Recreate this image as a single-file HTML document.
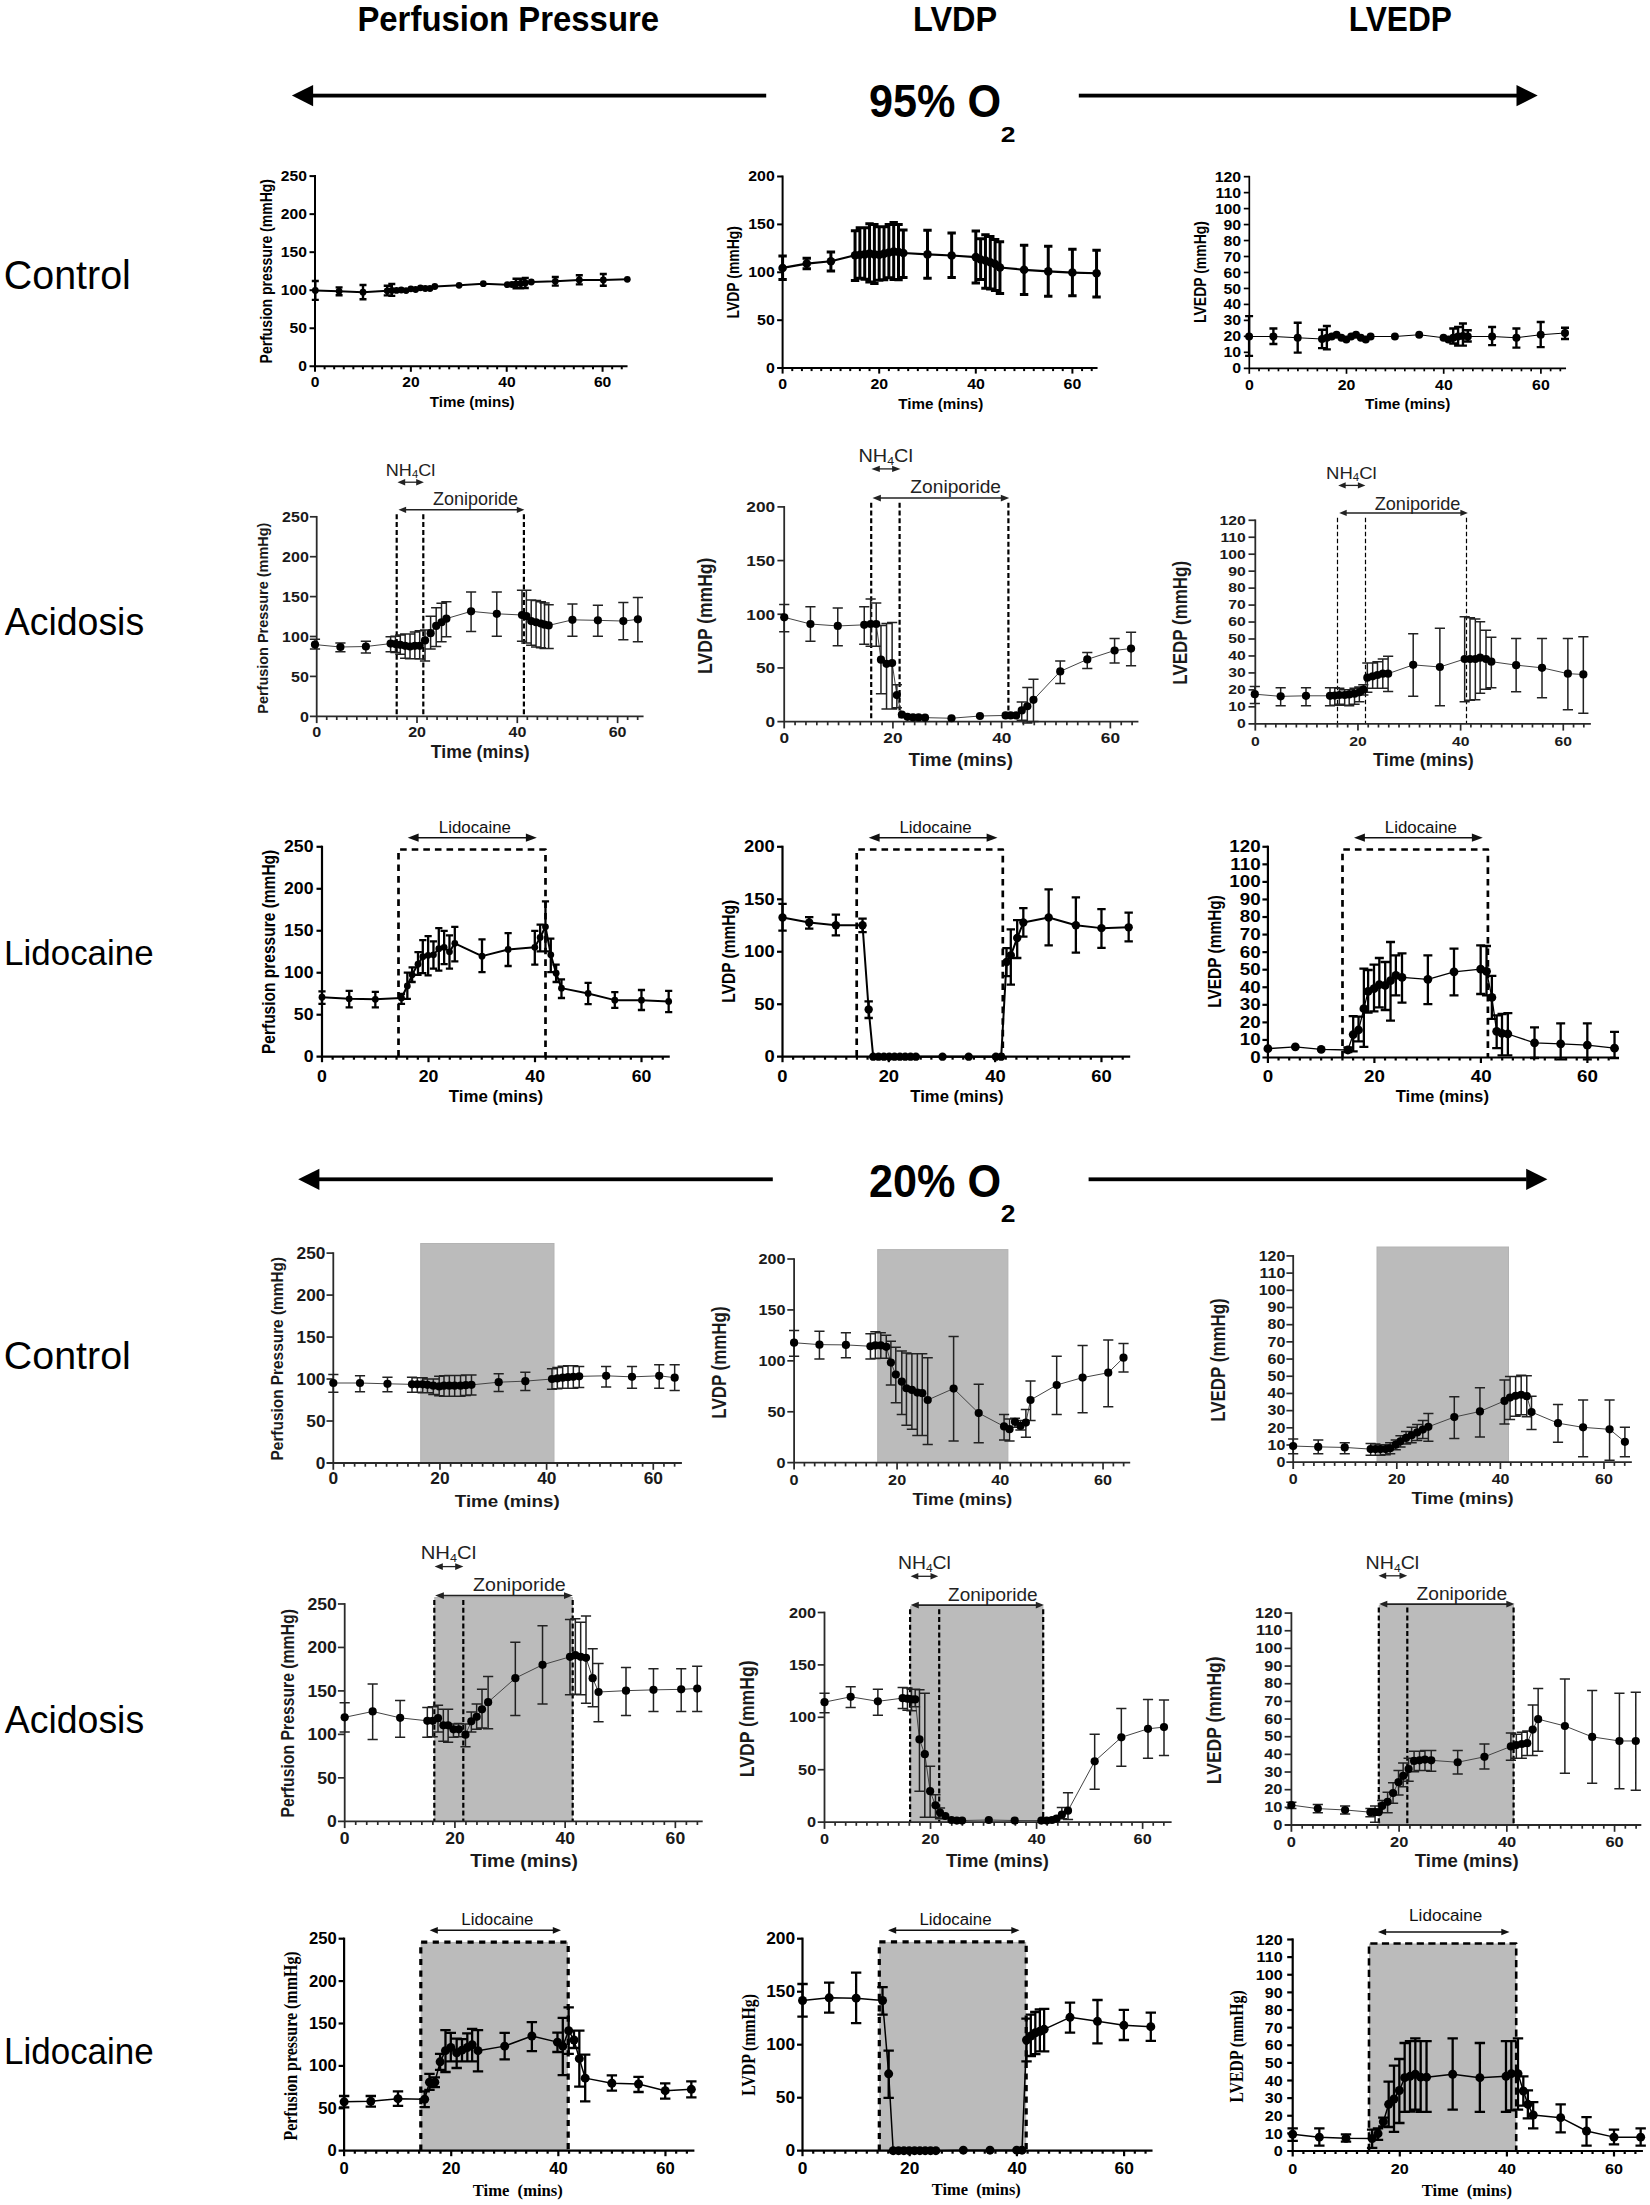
<!DOCTYPE html>
<html><head><meta charset="utf-8"><title>Perfusion pressure, LVDP and LVEDP at 95% and 20% O2</title>
<style>html,body{margin:0;padding:0;background:#fff;width:1650px;height:2205px;overflow:hidden}svg{display:block}</style>
</head><body>
<svg width="1650" height="2205" viewBox="0 0 1650 2205">
<rect width="1650" height="2205" fill="#fff"/>
<text x="357.38" y="31.2" font-size="35.2" font-family="'Liberation Sans',Arial,sans-serif" font-weight="bold" textLength="301.71" lengthAdjust="spacingAndGlyphs">Perfusion Pressure</text>
<text x="913.01" y="31.2" font-size="35.49" font-family="'Liberation Sans',Arial,sans-serif" font-weight="bold" textLength="84.24" lengthAdjust="spacingAndGlyphs">LVDP</text>
<text x="1348.76" y="31.3" font-size="35.49" font-family="'Liberation Sans',Arial,sans-serif" font-weight="bold" textLength="103.24" lengthAdjust="spacingAndGlyphs">LVEDP</text>
<text x="868.99" y="116.9" font-size="46.02" font-family="'Liberation Sans',Arial,sans-serif" font-weight="bold" textLength="132.04" lengthAdjust="spacingAndGlyphs">95% O</text>
<text x="1000.87" y="141.6" font-size="22.94" font-family="'Liberation Sans',Arial,sans-serif" font-weight="bold" textLength="14.72" lengthAdjust="spacingAndGlyphs">2</text>
<rect x="312.6" y="93.7" width="453.6" height="3.8"/>
<polygon points="291.9,95.6 313.1,85 313.1,106.2"/>
<rect x="1078.8" y="93.7" width="438.2" height="3.8"/>
<polygon points="1537.7,95.6 1516.5,85 1516.5,106.2"/>
<text x="868.99" y="1196.9" font-size="46.02" font-family="'Liberation Sans',Arial,sans-serif" font-weight="bold" textLength="132.04" lengthAdjust="spacingAndGlyphs">20% O</text>
<text x="1000.87" y="1222" font-size="23.51" font-family="'Liberation Sans',Arial,sans-serif" font-weight="bold" textLength="14.72" lengthAdjust="spacingAndGlyphs">2</text>
<rect x="318.9" y="1177.4" width="453.9" height="3.8"/>
<polygon points="298.2,1179.3 319.4,1168.7 319.4,1189.9"/>
<rect x="1088.6" y="1177.4" width="438.1" height="3.8"/>
<polygon points="1547.4,1179.3 1526.2,1168.7 1526.2,1189.9"/>
<text x="3.83" y="288.5" font-size="39.85" font-family="'Liberation Sans',Arial,sans-serif" textLength="126.98" lengthAdjust="spacingAndGlyphs">Control</text>
<text x="4.71" y="634.6" font-size="39.71" font-family="'Liberation Sans',Arial,sans-serif" textLength="139.45" lengthAdjust="spacingAndGlyphs">Acidosis</text>
<text x="4.12" y="965.1" font-size="35.93" font-family="'Liberation Sans',Arial,sans-serif" textLength="149.51" lengthAdjust="spacingAndGlyphs">Lidocaine</text>
<text x="3.83" y="1369.1" font-size="39.71" font-family="'Liberation Sans',Arial,sans-serif" textLength="126.98" lengthAdjust="spacingAndGlyphs">Control</text>
<text x="4.71" y="1733.4" font-size="39.71" font-family="'Liberation Sans',Arial,sans-serif" textLength="139.45" lengthAdjust="spacingAndGlyphs">Acidosis</text>
<text x="4.12" y="2063.6" font-size="36.07" font-family="'Liberation Sans',Arial,sans-serif" textLength="149.51" lengthAdjust="spacingAndGlyphs">Lidocaine</text>
<g>
<line x1="315" y1="175.1" x2="315" y2="371.8" stroke="#000" stroke-width="2"/>
<line x1="309.5" y1="366.3" x2="627.55" y2="366.3" stroke="#000" stroke-width="2"/>
<text x="298.25" y="371.25" font-size="14.28" font-family="'Liberation Sans',Arial,sans-serif" font-weight="bold" textLength="8.7" lengthAdjust="spacingAndGlyphs">0</text>
<line x1="309.5" y1="328.26" x2="315" y2="328.26" stroke="#000" stroke-width="2"/>
<text x="289.57" y="333.21" font-size="14.28" font-family="'Liberation Sans',Arial,sans-serif" font-weight="bold" textLength="17.39" lengthAdjust="spacingAndGlyphs">50</text>
<line x1="309.5" y1="290.22" x2="315" y2="290.22" stroke="#000" stroke-width="2"/>
<text x="280.85" y="295.17" font-size="14.28" font-family="'Liberation Sans',Arial,sans-serif" font-weight="bold" textLength="26.09" lengthAdjust="spacingAndGlyphs">100</text>
<line x1="309.5" y1="252.18" x2="315" y2="252.18" stroke="#000" stroke-width="2"/>
<text x="280.85" y="257.13" font-size="14.28" font-family="'Liberation Sans',Arial,sans-serif" font-weight="bold" textLength="26.09" lengthAdjust="spacingAndGlyphs">150</text>
<line x1="309.5" y1="214.14" x2="315" y2="214.14" stroke="#000" stroke-width="2"/>
<text x="280.85" y="219.09" font-size="14.28" font-family="'Liberation Sans',Arial,sans-serif" font-weight="bold" textLength="26.09" lengthAdjust="spacingAndGlyphs">200</text>
<line x1="309.5" y1="176.1" x2="315" y2="176.1" stroke="#000" stroke-width="2"/>
<text x="280.85" y="181.05" font-size="14.28" font-family="'Liberation Sans',Arial,sans-serif" font-weight="bold" textLength="26.09" lengthAdjust="spacingAndGlyphs">250</text>
<text x="310.66" y="387.3" font-size="14.28" font-family="'Liberation Sans',Arial,sans-serif" font-weight="bold" textLength="8.7" lengthAdjust="spacingAndGlyphs">0</text>
<line x1="324.59" y1="366.3" x2="324.59" y2="369.3" stroke="#000" stroke-width="2"/>
<line x1="334.17" y1="366.3" x2="334.17" y2="369.3" stroke="#000" stroke-width="2"/>
<line x1="343.76" y1="366.3" x2="343.76" y2="369.3" stroke="#000" stroke-width="2"/>
<line x1="353.34" y1="366.3" x2="353.34" y2="369.3" stroke="#000" stroke-width="2"/>
<line x1="362.93" y1="366.3" x2="362.93" y2="369.3" stroke="#000" stroke-width="2"/>
<line x1="372.52" y1="366.3" x2="372.52" y2="369.3" stroke="#000" stroke-width="2"/>
<line x1="382.1" y1="366.3" x2="382.1" y2="369.3" stroke="#000" stroke-width="2"/>
<line x1="391.69" y1="366.3" x2="391.69" y2="369.3" stroke="#000" stroke-width="2"/>
<line x1="401.27" y1="366.3" x2="401.27" y2="369.3" stroke="#000" stroke-width="2"/>
<line x1="410.86" y1="366.3" x2="410.86" y2="371.8" stroke="#000" stroke-width="2"/>
<text x="402.22" y="387.3" font-size="14.28" font-family="'Liberation Sans',Arial,sans-serif" font-weight="bold" textLength="17.39" lengthAdjust="spacingAndGlyphs">20</text>
<line x1="420.45" y1="366.3" x2="420.45" y2="369.3" stroke="#000" stroke-width="2"/>
<line x1="430.03" y1="366.3" x2="430.03" y2="369.3" stroke="#000" stroke-width="2"/>
<line x1="439.62" y1="366.3" x2="439.62" y2="369.3" stroke="#000" stroke-width="2"/>
<line x1="449.2" y1="366.3" x2="449.2" y2="369.3" stroke="#000" stroke-width="2"/>
<line x1="458.79" y1="366.3" x2="458.79" y2="369.3" stroke="#000" stroke-width="2"/>
<line x1="468.38" y1="366.3" x2="468.38" y2="369.3" stroke="#000" stroke-width="2"/>
<line x1="477.96" y1="366.3" x2="477.96" y2="369.3" stroke="#000" stroke-width="2"/>
<line x1="487.55" y1="366.3" x2="487.55" y2="369.3" stroke="#000" stroke-width="2"/>
<line x1="497.13" y1="366.3" x2="497.13" y2="369.3" stroke="#000" stroke-width="2"/>
<line x1="506.72" y1="366.3" x2="506.72" y2="371.8" stroke="#000" stroke-width="2"/>
<text x="498.24" y="387.3" font-size="14.28" font-family="'Liberation Sans',Arial,sans-serif" font-weight="bold" textLength="17.39" lengthAdjust="spacingAndGlyphs">40</text>
<line x1="516.31" y1="366.3" x2="516.31" y2="369.3" stroke="#000" stroke-width="2"/>
<line x1="525.89" y1="366.3" x2="525.89" y2="369.3" stroke="#000" stroke-width="2"/>
<line x1="535.48" y1="366.3" x2="535.48" y2="369.3" stroke="#000" stroke-width="2"/>
<line x1="545.06" y1="366.3" x2="545.06" y2="369.3" stroke="#000" stroke-width="2"/>
<line x1="554.65" y1="366.3" x2="554.65" y2="369.3" stroke="#000" stroke-width="2"/>
<line x1="564.24" y1="366.3" x2="564.24" y2="369.3" stroke="#000" stroke-width="2"/>
<line x1="573.82" y1="366.3" x2="573.82" y2="369.3" stroke="#000" stroke-width="2"/>
<line x1="583.41" y1="366.3" x2="583.41" y2="369.3" stroke="#000" stroke-width="2"/>
<line x1="592.99" y1="366.3" x2="592.99" y2="369.3" stroke="#000" stroke-width="2"/>
<line x1="602.58" y1="366.3" x2="602.58" y2="371.8" stroke="#000" stroke-width="2"/>
<text x="593.92" y="387.3" font-size="14.28" font-family="'Liberation Sans',Arial,sans-serif" font-weight="bold" textLength="17.39" lengthAdjust="spacingAndGlyphs">60</text>
<line x1="612.17" y1="366.3" x2="612.17" y2="369.3" stroke="#000" stroke-width="2"/>
<line x1="621.75" y1="366.3" x2="621.75" y2="369.3" stroke="#000" stroke-width="2"/>
<text x="272.5" y="363.45" font-size="16.73" font-family="'Liberation Sans',Arial,sans-serif" font-weight="bold" textLength="184.44" lengthAdjust="spacingAndGlyphs" transform="rotate(-90 272.5 363.45)">Perfusion pressure (mmHg)</text>
<text x="429.75" y="406.5" font-size="14.25" font-family="'Liberation Sans',Arial,sans-serif" font-weight="bold" textLength="84.93" lengthAdjust="spacingAndGlyphs">Time (mins)</text>
<path d="M315.3 290.4 L339.1 291.2 L363 292.2 L387.2 290.8 L391.8 290.5 L396.48 290.4 L401.27 290 L406.07 290.6 L410.86 288.8 L415.65 289.5 L420.45 287.8 L425.24 288.5 L430.03 288.5 L434.82 286.5 L459.1 285.3 L483.3 283.7 L507.3 284.7 L512 284.5 L516 284 L520.7 283.5 L525.3 283 L531.3 282 L555.3 281.3 L579.3 280 L603.3 280 L627.3 279.3" fill="none" stroke="#000" stroke-width="2" stroke-linejoin="round"/>
<path d="M315.3 281V299.9M311.8 281H318.8M311.8 299.9H318.8M339.1 287.4V295.3M335.6 287.4H342.6M335.6 295.3H342.6M363 285V299.3M359.5 285H366.5M359.5 299.3H366.5M387.2 285.7V295.4M383.7 285.7H390.7M383.7 295.4H390.7M391.8 284V295.9M388.3 284H395.3M388.3 295.9H395.3M516 278.7V288.3M512.5 278.7H519.5M512.5 288.3H519.5M520.7 278.7V288.3M517.2 278.7H524.2M517.2 288.3H524.2M525.3 278V288M521.8 278H528.8M521.8 288H528.8M555.3 277V285.6M551.8 277H558.8M551.8 285.6H558.8M579.3 275.3V284.4M575.8 275.3H582.8M575.8 284.4H582.8M603.3 274V285.7M599.8 274H606.8M599.8 285.7H606.8" fill="none" stroke="#000" stroke-width="2.4"/>
<g><circle cx="315.3" cy="290.4" r="3.4"/><circle cx="339.1" cy="291.2" r="3.4"/><circle cx="363" cy="292.2" r="3.4"/><circle cx="387.2" cy="290.8" r="3.4"/><circle cx="391.8" cy="290.5" r="3.4"/><circle cx="396.48" cy="290.4" r="3.4"/><circle cx="401.27" cy="290" r="3.4"/><circle cx="406.07" cy="290.6" r="3.4"/><circle cx="410.86" cy="288.8" r="3.4"/><circle cx="415.65" cy="289.5" r="3.4"/><circle cx="420.45" cy="287.8" r="3.4"/><circle cx="425.24" cy="288.5" r="3.4"/><circle cx="430.03" cy="288.5" r="3.4"/><circle cx="434.82" cy="286.5" r="3.4"/><circle cx="459.1" cy="285.3" r="3.4"/><circle cx="483.3" cy="283.7" r="3.4"/><circle cx="507.3" cy="284.7" r="3.4"/><circle cx="512" cy="284.5" r="3.4"/><circle cx="516" cy="284" r="3.4"/><circle cx="520.7" cy="283.5" r="3.4"/><circle cx="525.3" cy="283" r="3.4"/><circle cx="531.3" cy="282" r="3.4"/><circle cx="555.3" cy="281.3" r="3.4"/><circle cx="579.3" cy="280" r="3.4"/><circle cx="603.3" cy="280" r="3.4"/><circle cx="627.3" cy="279.3" r="3.4"/></g>
</g>
<g>
<line x1="782.6" y1="175.5" x2="782.6" y2="373.6" stroke="#000" stroke-width="2"/>
<line x1="777.1" y1="368.1" x2="1097.55" y2="368.1" stroke="#000" stroke-width="2"/>
<text x="765.92" y="373.05" font-size="14.28" font-family="'Liberation Sans',Arial,sans-serif" font-weight="bold" textLength="8.84" lengthAdjust="spacingAndGlyphs">0</text>
<line x1="777.1" y1="320.2" x2="782.6" y2="320.2" stroke="#000" stroke-width="2"/>
<text x="757.1" y="325.15" font-size="14.28" font-family="'Liberation Sans',Arial,sans-serif" font-weight="bold" textLength="17.67" lengthAdjust="spacingAndGlyphs">50</text>
<line x1="777.1" y1="272.3" x2="782.6" y2="272.3" stroke="#000" stroke-width="2"/>
<text x="748.24" y="277.25" font-size="14.28" font-family="'Liberation Sans',Arial,sans-serif" font-weight="bold" textLength="26.51" lengthAdjust="spacingAndGlyphs">100</text>
<line x1="777.1" y1="224.4" x2="782.6" y2="224.4" stroke="#000" stroke-width="2"/>
<text x="748.24" y="229.35" font-size="14.28" font-family="'Liberation Sans',Arial,sans-serif" font-weight="bold" textLength="26.51" lengthAdjust="spacingAndGlyphs">150</text>
<line x1="777.1" y1="176.5" x2="782.6" y2="176.5" stroke="#000" stroke-width="2"/>
<text x="748.24" y="181.45" font-size="14.28" font-family="'Liberation Sans',Arial,sans-serif" font-weight="bold" textLength="26.51" lengthAdjust="spacingAndGlyphs">200</text>
<text x="778.19" y="389.3" font-size="14.28" font-family="'Liberation Sans',Arial,sans-serif" font-weight="bold" textLength="8.84" lengthAdjust="spacingAndGlyphs">0</text>
<line x1="792.26" y1="368.1" x2="792.26" y2="371.1" stroke="#000" stroke-width="2"/>
<line x1="801.92" y1="368.1" x2="801.92" y2="371.1" stroke="#000" stroke-width="2"/>
<line x1="811.58" y1="368.1" x2="811.58" y2="371.1" stroke="#000" stroke-width="2"/>
<line x1="821.24" y1="368.1" x2="821.24" y2="371.1" stroke="#000" stroke-width="2"/>
<line x1="830.9" y1="368.1" x2="830.9" y2="371.1" stroke="#000" stroke-width="2"/>
<line x1="840.56" y1="368.1" x2="840.56" y2="371.1" stroke="#000" stroke-width="2"/>
<line x1="850.22" y1="368.1" x2="850.22" y2="371.1" stroke="#000" stroke-width="2"/>
<line x1="859.88" y1="368.1" x2="859.88" y2="371.1" stroke="#000" stroke-width="2"/>
<line x1="869.54" y1="368.1" x2="869.54" y2="371.1" stroke="#000" stroke-width="2"/>
<line x1="879.2" y1="368.1" x2="879.2" y2="373.6" stroke="#000" stroke-width="2"/>
<text x="870.42" y="389.3" font-size="14.28" font-family="'Liberation Sans',Arial,sans-serif" font-weight="bold" textLength="17.67" lengthAdjust="spacingAndGlyphs">20</text>
<line x1="888.86" y1="368.1" x2="888.86" y2="371.1" stroke="#000" stroke-width="2"/>
<line x1="898.52" y1="368.1" x2="898.52" y2="371.1" stroke="#000" stroke-width="2"/>
<line x1="908.18" y1="368.1" x2="908.18" y2="371.1" stroke="#000" stroke-width="2"/>
<line x1="917.84" y1="368.1" x2="917.84" y2="371.1" stroke="#000" stroke-width="2"/>
<line x1="927.5" y1="368.1" x2="927.5" y2="371.1" stroke="#000" stroke-width="2"/>
<line x1="937.16" y1="368.1" x2="937.16" y2="371.1" stroke="#000" stroke-width="2"/>
<line x1="946.82" y1="368.1" x2="946.82" y2="371.1" stroke="#000" stroke-width="2"/>
<line x1="956.48" y1="368.1" x2="956.48" y2="371.1" stroke="#000" stroke-width="2"/>
<line x1="966.14" y1="368.1" x2="966.14" y2="371.1" stroke="#000" stroke-width="2"/>
<line x1="975.8" y1="368.1" x2="975.8" y2="373.6" stroke="#000" stroke-width="2"/>
<text x="967.18" y="389.3" font-size="14.28" font-family="'Liberation Sans',Arial,sans-serif" font-weight="bold" textLength="17.67" lengthAdjust="spacingAndGlyphs">40</text>
<line x1="985.46" y1="368.1" x2="985.46" y2="371.1" stroke="#000" stroke-width="2"/>
<line x1="995.12" y1="368.1" x2="995.12" y2="371.1" stroke="#000" stroke-width="2"/>
<line x1="1004.78" y1="368.1" x2="1004.78" y2="371.1" stroke="#000" stroke-width="2"/>
<line x1="1014.44" y1="368.1" x2="1014.44" y2="371.1" stroke="#000" stroke-width="2"/>
<line x1="1024.1" y1="368.1" x2="1024.1" y2="371.1" stroke="#000" stroke-width="2"/>
<line x1="1033.76" y1="368.1" x2="1033.76" y2="371.1" stroke="#000" stroke-width="2"/>
<line x1="1043.42" y1="368.1" x2="1043.42" y2="371.1" stroke="#000" stroke-width="2"/>
<line x1="1053.08" y1="368.1" x2="1053.08" y2="371.1" stroke="#000" stroke-width="2"/>
<line x1="1062.74" y1="368.1" x2="1062.74" y2="371.1" stroke="#000" stroke-width="2"/>
<line x1="1072.4" y1="368.1" x2="1072.4" y2="373.6" stroke="#000" stroke-width="2"/>
<text x="1063.6" y="389.3" font-size="14.28" font-family="'Liberation Sans',Arial,sans-serif" font-weight="bold" textLength="17.67" lengthAdjust="spacingAndGlyphs">60</text>
<line x1="1082.06" y1="368.1" x2="1082.06" y2="371.1" stroke="#000" stroke-width="2"/>
<line x1="1091.72" y1="368.1" x2="1091.72" y2="371.1" stroke="#000" stroke-width="2"/>
<text x="739.5" y="318.54" font-size="16.58" font-family="'Liberation Sans',Arial,sans-serif" font-weight="bold" textLength="92.54" lengthAdjust="spacingAndGlyphs" transform="rotate(-90 739.5 318.54)">LVDP (mmHg)</text>
<text x="898.35" y="408.7" font-size="14.25" font-family="'Liberation Sans',Arial,sans-serif" font-weight="bold" textLength="84.93" lengthAdjust="spacingAndGlyphs">Time (mins)</text>
<path d="M782.6 267.95 L806.75 263.57 L830.9 261.27 L855.05 255.28 L859.88 254.82 L864.71 254.36 L869.54 253.44 L874.37 254.36 L879.2 254.82 L884.03 253.67 L888.86 252.52 L893.69 251.6 L898.52 252.06 L903.35 252.98 L927.5 254.36 L951.65 255.51 L975.8 257.12 L980.63 259.43 L985.46 260.58 L990.29 262.19 L995.12 264.03 L999.95 267.49 L1024.1 269.79 L1048.25 271.4 L1072.4 272.55 L1096.55 273.25" fill="none" stroke="#000" stroke-width="2.2" stroke-linejoin="round"/>
<path d="M782.6 255.97V279.46M778.4 255.97H786.8M778.4 279.46H786.8M806.75 258.27V268.64M802.55 258.27H810.95M802.55 268.64H810.95M830.9 252.06V270.94M826.7 252.06H835.1M826.7 270.94H835.1M855.05 230.64V280.61M850.85 230.64H859.25M850.85 280.61H859.25M859.88 227.64V278.31M855.68 227.64H864.08M855.68 278.31H864.08M864.71 227.64V279.23M860.51 227.64H868.91M860.51 279.23H868.91M869.54 223.73V282M865.34 223.73H873.74M865.34 282H873.74M874.37 224.42V283.61M870.17 224.42H878.57M870.17 283.61H878.57M879.2 226.72V280.15M875 226.72H883.4M875 280.15H883.4M884.03 226.72V279.69M879.83 226.72H888.23M879.83 279.69H888.23M888.86 224.42V277.85M884.66 224.42H893.06M884.66 277.85H893.06M893.69 222.58V279.46M889.49 222.58H897.89M889.49 279.46H897.89M898.52 224.42V279.69M894.32 224.42H902.72M894.32 279.69H902.72M903.35 229.95V277.39M899.15 229.95H907.55M899.15 277.39H907.55M927.5 230.18V278.31M923.3 230.18H931.7M923.3 278.31H931.7M951.65 232.94V277.39M947.45 232.94H955.85M947.45 277.39H955.85M975.8 231.1V282.92M971.6 231.1H980M971.6 282.92H980M980.63 238.7V279.46M976.43 238.7H984.83M976.43 279.46H984.83M985.46 234.78V288.22M981.26 234.78H989.66M981.26 288.22H989.66M990.29 236.4V288.91M986.09 236.4H994.49M986.09 288.91H994.49M995.12 239.39V290.52M990.92 239.39H999.32M990.92 290.52H999.32M999.95 241.69V293.51M995.75 241.69H1004.15M995.75 293.51H1004.15M1024.1 245.15V294.43M1019.9 245.15H1028.3M1019.9 294.43H1028.3M1048.25 246.3V296.28M1044.05 246.3H1052.45M1044.05 296.28H1052.45M1072.4 249.29V295.82M1068.2 249.29H1076.6M1068.2 295.82H1076.6M1096.55 250.21V296.97M1092.35 250.21H1100.75M1092.35 296.97H1100.75" fill="none" stroke="#000" stroke-width="3"/>
<g><circle cx="782.6" cy="267.95" r="4.3"/><circle cx="806.75" cy="263.57" r="4.3"/><circle cx="830.9" cy="261.27" r="4.3"/><circle cx="855.05" cy="255.28" r="4.3"/><circle cx="859.88" cy="254.82" r="4.3"/><circle cx="864.71" cy="254.36" r="4.3"/><circle cx="869.54" cy="253.44" r="4.3"/><circle cx="874.37" cy="254.36" r="4.3"/><circle cx="879.2" cy="254.82" r="4.3"/><circle cx="884.03" cy="253.67" r="4.3"/><circle cx="888.86" cy="252.52" r="4.3"/><circle cx="893.69" cy="251.6" r="4.3"/><circle cx="898.52" cy="252.06" r="4.3"/><circle cx="903.35" cy="252.98" r="4.3"/><circle cx="927.5" cy="254.36" r="4.3"/><circle cx="951.65" cy="255.51" r="4.3"/><circle cx="975.8" cy="257.12" r="4.3"/><circle cx="980.63" cy="259.43" r="4.3"/><circle cx="985.46" cy="260.58" r="4.3"/><circle cx="990.29" cy="262.19" r="4.3"/><circle cx="995.12" cy="264.03" r="4.3"/><circle cx="999.95" cy="267.49" r="4.3"/><circle cx="1024.1" cy="269.79" r="4.3"/><circle cx="1048.25" cy="271.4" r="4.3"/><circle cx="1072.4" cy="272.55" r="4.3"/><circle cx="1096.55" cy="273.25" r="4.3"/></g>
</g>
<g>
<line x1="1249.3" y1="175.81" x2="1249.3" y2="373.8" stroke="#000" stroke-width="1.7"/>
<line x1="1243.8" y1="368.3" x2="1566.05" y2="368.3" stroke="#000" stroke-width="1.7"/>
<text x="1232.34" y="373.35" font-size="14.56" font-family="'Liberation Sans',Arial,sans-serif" font-weight="bold" textLength="8.81" lengthAdjust="spacingAndGlyphs">0</text>
<line x1="1243.8" y1="352.33" x2="1249.3" y2="352.33" stroke="#000" stroke-width="1.7"/>
<text x="1223.54" y="357.38" font-size="14.56" font-family="'Liberation Sans',Arial,sans-serif" font-weight="bold" textLength="17.63" lengthAdjust="spacingAndGlyphs">10</text>
<line x1="1243.8" y1="336.36" x2="1249.3" y2="336.36" stroke="#000" stroke-width="1.7"/>
<text x="1223.54" y="341.41" font-size="14.56" font-family="'Liberation Sans',Arial,sans-serif" font-weight="bold" textLength="17.63" lengthAdjust="spacingAndGlyphs">20</text>
<line x1="1243.8" y1="320.39" x2="1249.3" y2="320.39" stroke="#000" stroke-width="1.7"/>
<text x="1223.54" y="325.44" font-size="14.56" font-family="'Liberation Sans',Arial,sans-serif" font-weight="bold" textLength="17.63" lengthAdjust="spacingAndGlyphs">30</text>
<line x1="1243.8" y1="304.42" x2="1249.3" y2="304.42" stroke="#000" stroke-width="1.7"/>
<text x="1223.54" y="309.47" font-size="14.56" font-family="'Liberation Sans',Arial,sans-serif" font-weight="bold" textLength="17.63" lengthAdjust="spacingAndGlyphs">40</text>
<line x1="1243.8" y1="288.45" x2="1249.3" y2="288.45" stroke="#000" stroke-width="1.7"/>
<text x="1223.54" y="293.5" font-size="14.56" font-family="'Liberation Sans',Arial,sans-serif" font-weight="bold" textLength="17.63" lengthAdjust="spacingAndGlyphs">50</text>
<line x1="1243.8" y1="272.48" x2="1249.3" y2="272.48" stroke="#000" stroke-width="1.7"/>
<text x="1223.54" y="277.53" font-size="14.56" font-family="'Liberation Sans',Arial,sans-serif" font-weight="bold" textLength="17.63" lengthAdjust="spacingAndGlyphs">60</text>
<line x1="1243.8" y1="256.51" x2="1249.3" y2="256.51" stroke="#000" stroke-width="1.7"/>
<text x="1223.54" y="261.56" font-size="14.56" font-family="'Liberation Sans',Arial,sans-serif" font-weight="bold" textLength="17.63" lengthAdjust="spacingAndGlyphs">70</text>
<line x1="1243.8" y1="240.54" x2="1249.3" y2="240.54" stroke="#000" stroke-width="1.7"/>
<text x="1223.54" y="245.59" font-size="14.56" font-family="'Liberation Sans',Arial,sans-serif" font-weight="bold" textLength="17.63" lengthAdjust="spacingAndGlyphs">80</text>
<line x1="1243.8" y1="224.57" x2="1249.3" y2="224.57" stroke="#000" stroke-width="1.7"/>
<text x="1223.54" y="229.62" font-size="14.56" font-family="'Liberation Sans',Arial,sans-serif" font-weight="bold" textLength="17.63" lengthAdjust="spacingAndGlyphs">90</text>
<line x1="1243.8" y1="208.6" x2="1249.3" y2="208.6" stroke="#000" stroke-width="1.7"/>
<text x="1214.71" y="213.65" font-size="14.56" font-family="'Liberation Sans',Arial,sans-serif" font-weight="bold" textLength="26.44" lengthAdjust="spacingAndGlyphs">100</text>
<line x1="1243.8" y1="192.63" x2="1249.3" y2="192.63" stroke="#000" stroke-width="1.7"/>
<text x="1215.58" y="197.68" font-size="14.56" font-family="'Liberation Sans',Arial,sans-serif" font-weight="bold" textLength="25.57" lengthAdjust="spacingAndGlyphs">110</text>
<line x1="1243.8" y1="176.66" x2="1249.3" y2="176.66" stroke="#000" stroke-width="1.7"/>
<text x="1214.71" y="181.71" font-size="14.56" font-family="'Liberation Sans',Arial,sans-serif" font-weight="bold" textLength="26.44" lengthAdjust="spacingAndGlyphs">120</text>
<text x="1244.9" y="389.7" font-size="14.56" font-family="'Liberation Sans',Arial,sans-serif" font-weight="bold" textLength="8.81" lengthAdjust="spacingAndGlyphs">0</text>
<line x1="1259.02" y1="368.3" x2="1259.02" y2="371.3" stroke="#000" stroke-width="1.7"/>
<line x1="1268.74" y1="368.3" x2="1268.74" y2="371.3" stroke="#000" stroke-width="1.7"/>
<line x1="1278.46" y1="368.3" x2="1278.46" y2="371.3" stroke="#000" stroke-width="1.7"/>
<line x1="1288.18" y1="368.3" x2="1288.18" y2="371.3" stroke="#000" stroke-width="1.7"/>
<line x1="1297.9" y1="368.3" x2="1297.9" y2="371.3" stroke="#000" stroke-width="1.7"/>
<line x1="1307.62" y1="368.3" x2="1307.62" y2="371.3" stroke="#000" stroke-width="1.7"/>
<line x1="1317.34" y1="368.3" x2="1317.34" y2="371.3" stroke="#000" stroke-width="1.7"/>
<line x1="1327.06" y1="368.3" x2="1327.06" y2="371.3" stroke="#000" stroke-width="1.7"/>
<line x1="1336.78" y1="368.3" x2="1336.78" y2="371.3" stroke="#000" stroke-width="1.7"/>
<line x1="1346.5" y1="368.3" x2="1346.5" y2="373.8" stroke="#000" stroke-width="1.7"/>
<text x="1337.74" y="389.7" font-size="14.56" font-family="'Liberation Sans',Arial,sans-serif" font-weight="bold" textLength="17.63" lengthAdjust="spacingAndGlyphs">20</text>
<line x1="1356.22" y1="368.3" x2="1356.22" y2="371.3" stroke="#000" stroke-width="1.7"/>
<line x1="1365.94" y1="368.3" x2="1365.94" y2="371.3" stroke="#000" stroke-width="1.7"/>
<line x1="1375.66" y1="368.3" x2="1375.66" y2="371.3" stroke="#000" stroke-width="1.7"/>
<line x1="1385.38" y1="368.3" x2="1385.38" y2="371.3" stroke="#000" stroke-width="1.7"/>
<line x1="1395.1" y1="368.3" x2="1395.1" y2="371.3" stroke="#000" stroke-width="1.7"/>
<line x1="1404.82" y1="368.3" x2="1404.82" y2="371.3" stroke="#000" stroke-width="1.7"/>
<line x1="1414.54" y1="368.3" x2="1414.54" y2="371.3" stroke="#000" stroke-width="1.7"/>
<line x1="1424.26" y1="368.3" x2="1424.26" y2="371.3" stroke="#000" stroke-width="1.7"/>
<line x1="1433.98" y1="368.3" x2="1433.98" y2="371.3" stroke="#000" stroke-width="1.7"/>
<line x1="1443.7" y1="368.3" x2="1443.7" y2="373.8" stroke="#000" stroke-width="1.7"/>
<text x="1435.1" y="389.7" font-size="14.56" font-family="'Liberation Sans',Arial,sans-serif" font-weight="bold" textLength="17.63" lengthAdjust="spacingAndGlyphs">40</text>
<line x1="1453.42" y1="368.3" x2="1453.42" y2="371.3" stroke="#000" stroke-width="1.7"/>
<line x1="1463.14" y1="368.3" x2="1463.14" y2="371.3" stroke="#000" stroke-width="1.7"/>
<line x1="1472.86" y1="368.3" x2="1472.86" y2="371.3" stroke="#000" stroke-width="1.7"/>
<line x1="1482.58" y1="368.3" x2="1482.58" y2="371.3" stroke="#000" stroke-width="1.7"/>
<line x1="1492.3" y1="368.3" x2="1492.3" y2="371.3" stroke="#000" stroke-width="1.7"/>
<line x1="1502.02" y1="368.3" x2="1502.02" y2="371.3" stroke="#000" stroke-width="1.7"/>
<line x1="1511.74" y1="368.3" x2="1511.74" y2="371.3" stroke="#000" stroke-width="1.7"/>
<line x1="1521.46" y1="368.3" x2="1521.46" y2="371.3" stroke="#000" stroke-width="1.7"/>
<line x1="1531.18" y1="368.3" x2="1531.18" y2="371.3" stroke="#000" stroke-width="1.7"/>
<line x1="1540.9" y1="368.3" x2="1540.9" y2="373.8" stroke="#000" stroke-width="1.7"/>
<text x="1532.12" y="389.7" font-size="14.56" font-family="'Liberation Sans',Arial,sans-serif" font-weight="bold" textLength="17.63" lengthAdjust="spacingAndGlyphs">60</text>
<line x1="1550.62" y1="368.3" x2="1550.62" y2="371.3" stroke="#000" stroke-width="1.7"/>
<line x1="1560.34" y1="368.3" x2="1560.34" y2="371.3" stroke="#000" stroke-width="1.7"/>
<text x="1206" y="322.94" font-size="16.15" font-family="'Liberation Sans',Arial,sans-serif" font-weight="bold" textLength="101.93" lengthAdjust="spacingAndGlyphs" transform="rotate(-90 1206 322.94)">LVEDP (mmHg)</text>
<text x="1364.95" y="408.5" font-size="14.25" font-family="'Liberation Sans',Arial,sans-serif" font-weight="bold" textLength="85.44" lengthAdjust="spacingAndGlyphs">Time (mins)</text>
<path d="M1249.1 336.47 L1273.4 336.47 L1297.7 337.71 L1322 338.96 L1326.86 337.71 L1331.72 336.47 L1336.58 334.73 L1341.44 337.71 L1346.3 339.45 L1351.16 336.47 L1356.02 334.73 L1360.88 337.71 L1365.74 339.45 L1370.6 336.47 L1394.9 336.47 L1419.2 334.73 L1443.5 337.71 L1448.36 339.45 L1453.22 337.71 L1458.08 336.47 L1462.94 335.97 L1467.8 336.47 L1492.1 336.47 L1516.4 337.71 L1540.7 334.73 L1565 332.99" fill="none" stroke="#000" stroke-width="1.1" stroke-linejoin="round"/>
<path d="M1249.1 316.09V355.85M1245.1 316.09H1253.1M1245.1 355.85H1253.1M1273.4 328.52V343.93M1269.4 328.52H1277.4M1269.4 343.93H1277.4M1297.7 322.8V352.62M1293.7 322.8H1301.7M1293.7 352.62H1301.7M1322 329.76V348.15M1318 329.76H1326M1318 348.15H1326M1326.86 326.03V349.39M1322.86 326.03H1330.86M1322.86 349.39H1330.86M1453.22 328.52V343.43M1449.22 328.52H1457.22M1449.22 343.43H1457.22M1458.08 327.03V345.67M1454.08 327.03H1462.08M1454.08 345.67H1462.08M1462.94 323.55V345.67M1458.94 323.55H1466.94M1458.94 345.67H1466.94M1467.8 330.26V341.44M1463.8 330.26H1471.8M1463.8 341.44H1471.8M1492.1 327.03V345.17M1488.1 327.03H1496.1M1488.1 345.17H1496.1M1516.4 328.52V347.65M1512.4 328.52H1520.4M1512.4 347.65H1520.4M1540.7 322.06V347.16M1536.7 322.06H1544.7M1536.7 347.16H1544.7M1565 327.77V338.96M1561 327.77H1569M1561 338.96H1569" fill="none" stroke="#000" stroke-width="2.4"/>
<g><circle cx="1249.1" cy="336.47" r="4"/><circle cx="1273.4" cy="336.47" r="4"/><circle cx="1297.7" cy="337.71" r="4"/><circle cx="1322" cy="338.96" r="4"/><circle cx="1326.86" cy="337.71" r="4"/><circle cx="1331.72" cy="336.47" r="4"/><circle cx="1336.58" cy="334.73" r="4"/><circle cx="1341.44" cy="337.71" r="4"/><circle cx="1346.3" cy="339.45" r="4"/><circle cx="1351.16" cy="336.47" r="4"/><circle cx="1356.02" cy="334.73" r="4"/><circle cx="1360.88" cy="337.71" r="4"/><circle cx="1365.74" cy="339.45" r="4"/><circle cx="1370.6" cy="336.47" r="4"/><circle cx="1394.9" cy="336.47" r="4"/><circle cx="1419.2" cy="334.73" r="4"/><circle cx="1443.5" cy="337.71" r="4"/><circle cx="1448.36" cy="339.45" r="4"/><circle cx="1453.22" cy="337.71" r="4"/><circle cx="1458.08" cy="336.47" r="4"/><circle cx="1462.94" cy="335.97" r="4"/><circle cx="1467.8" cy="336.47" r="4"/><circle cx="1492.1" cy="336.47" r="4"/><circle cx="1516.4" cy="337.71" r="4"/><circle cx="1540.7" cy="334.73" r="4"/><circle cx="1565" cy="332.99" r="4"/></g>
</g>
<g>
<line x1="396.7" y1="514.3" x2="396.7" y2="716.3" stroke="#000" stroke-width="2.2" stroke-dasharray="5 2.8"/>
<line x1="423.3" y1="514.3" x2="423.3" y2="716.3" stroke="#000" stroke-width="2.2" stroke-dasharray="5 2.8"/>
<line x1="523.9" y1="514.3" x2="523.9" y2="716.3" stroke="#000" stroke-width="2.2" stroke-dasharray="5 2.8"/>
<line x1="316.7" y1="515.95" x2="316.7" y2="723.1" stroke="#2a2a2a" stroke-width="1.8"/>
<line x1="309.9" y1="716.3" x2="643.57" y2="716.3" stroke="#2a2a2a" stroke-width="1.8"/>
<text x="299.95" y="721.5" font-size="14.98" font-family="'Liberation Sans',Arial,sans-serif" font-weight="bold" fill="#1a1a1a" textLength="8.91" lengthAdjust="spacingAndGlyphs">0</text>
<line x1="309.9" y1="676.4" x2="316.7" y2="676.4" stroke="#2a2a2a" stroke-width="1.7"/>
<text x="291.07" y="681.6" font-size="14.98" font-family="'Liberation Sans',Arial,sans-serif" font-weight="bold" fill="#1a1a1a" textLength="17.81" lengthAdjust="spacingAndGlyphs">50</text>
<line x1="309.9" y1="636.5" x2="316.7" y2="636.5" stroke="#2a2a2a" stroke-width="1.7"/>
<text x="282.14" y="641.7" font-size="14.98" font-family="'Liberation Sans',Arial,sans-serif" font-weight="bold" fill="#1a1a1a" textLength="26.72" lengthAdjust="spacingAndGlyphs">100</text>
<line x1="309.9" y1="596.6" x2="316.7" y2="596.6" stroke="#2a2a2a" stroke-width="1.7"/>
<text x="282.14" y="601.8" font-size="14.98" font-family="'Liberation Sans',Arial,sans-serif" font-weight="bold" fill="#1a1a1a" textLength="26.72" lengthAdjust="spacingAndGlyphs">150</text>
<line x1="309.9" y1="556.7" x2="316.7" y2="556.7" stroke="#2a2a2a" stroke-width="1.7"/>
<text x="282.14" y="561.9" font-size="14.98" font-family="'Liberation Sans',Arial,sans-serif" font-weight="bold" fill="#1a1a1a" textLength="26.72" lengthAdjust="spacingAndGlyphs">200</text>
<line x1="309.9" y1="516.8" x2="316.7" y2="516.8" stroke="#2a2a2a" stroke-width="1.7"/>
<text x="282.14" y="522" font-size="14.98" font-family="'Liberation Sans',Arial,sans-serif" font-weight="bold" fill="#1a1a1a" textLength="26.72" lengthAdjust="spacingAndGlyphs">250</text>
<text x="312.26" y="737.3" font-size="14.98" font-family="'Liberation Sans',Arial,sans-serif" font-weight="bold" fill="#1a1a1a" textLength="8.91" lengthAdjust="spacingAndGlyphs">0</text>
<line x1="326.73" y1="716.3" x2="326.73" y2="720" stroke="#2a2a2a" stroke-width="1.7"/>
<line x1="336.76" y1="716.3" x2="336.76" y2="720" stroke="#2a2a2a" stroke-width="1.7"/>
<line x1="346.79" y1="716.3" x2="346.79" y2="720" stroke="#2a2a2a" stroke-width="1.7"/>
<line x1="356.82" y1="716.3" x2="356.82" y2="720" stroke="#2a2a2a" stroke-width="1.7"/>
<line x1="366.85" y1="716.3" x2="366.85" y2="720" stroke="#2a2a2a" stroke-width="1.7"/>
<line x1="376.88" y1="716.3" x2="376.88" y2="720" stroke="#2a2a2a" stroke-width="1.7"/>
<line x1="386.91" y1="716.3" x2="386.91" y2="720" stroke="#2a2a2a" stroke-width="1.7"/>
<line x1="396.94" y1="716.3" x2="396.94" y2="720" stroke="#2a2a2a" stroke-width="1.7"/>
<line x1="406.97" y1="716.3" x2="406.97" y2="720" stroke="#2a2a2a" stroke-width="1.7"/>
<line x1="417" y1="716.3" x2="417" y2="723.1" stroke="#2a2a2a" stroke-width="1.7"/>
<text x="408.15" y="737.3" font-size="14.98" font-family="'Liberation Sans',Arial,sans-serif" font-weight="bold" fill="#1a1a1a" textLength="17.81" lengthAdjust="spacingAndGlyphs">20</text>
<line x1="427.03" y1="716.3" x2="427.03" y2="720" stroke="#2a2a2a" stroke-width="1.7"/>
<line x1="437.06" y1="716.3" x2="437.06" y2="720" stroke="#2a2a2a" stroke-width="1.7"/>
<line x1="447.09" y1="716.3" x2="447.09" y2="720" stroke="#2a2a2a" stroke-width="1.7"/>
<line x1="457.12" y1="716.3" x2="457.12" y2="720" stroke="#2a2a2a" stroke-width="1.7"/>
<line x1="467.15" y1="716.3" x2="467.15" y2="720" stroke="#2a2a2a" stroke-width="1.7"/>
<line x1="477.18" y1="716.3" x2="477.18" y2="720" stroke="#2a2a2a" stroke-width="1.7"/>
<line x1="487.21" y1="716.3" x2="487.21" y2="720" stroke="#2a2a2a" stroke-width="1.7"/>
<line x1="497.24" y1="716.3" x2="497.24" y2="720" stroke="#2a2a2a" stroke-width="1.7"/>
<line x1="507.27" y1="716.3" x2="507.27" y2="720" stroke="#2a2a2a" stroke-width="1.7"/>
<line x1="517.3" y1="716.3" x2="517.3" y2="723.1" stroke="#2a2a2a" stroke-width="1.7"/>
<text x="508.61" y="737.3" font-size="14.98" font-family="'Liberation Sans',Arial,sans-serif" font-weight="bold" fill="#1a1a1a" textLength="17.81" lengthAdjust="spacingAndGlyphs">40</text>
<line x1="527.33" y1="716.3" x2="527.33" y2="720" stroke="#2a2a2a" stroke-width="1.7"/>
<line x1="537.36" y1="716.3" x2="537.36" y2="720" stroke="#2a2a2a" stroke-width="1.7"/>
<line x1="547.39" y1="716.3" x2="547.39" y2="720" stroke="#2a2a2a" stroke-width="1.7"/>
<line x1="557.42" y1="716.3" x2="557.42" y2="720" stroke="#2a2a2a" stroke-width="1.7"/>
<line x1="567.45" y1="716.3" x2="567.45" y2="720" stroke="#2a2a2a" stroke-width="1.7"/>
<line x1="577.48" y1="716.3" x2="577.48" y2="720" stroke="#2a2a2a" stroke-width="1.7"/>
<line x1="587.51" y1="716.3" x2="587.51" y2="720" stroke="#2a2a2a" stroke-width="1.7"/>
<line x1="597.54" y1="716.3" x2="597.54" y2="720" stroke="#2a2a2a" stroke-width="1.7"/>
<line x1="607.57" y1="716.3" x2="607.57" y2="720" stroke="#2a2a2a" stroke-width="1.7"/>
<line x1="617.6" y1="716.3" x2="617.6" y2="723.1" stroke="#2a2a2a" stroke-width="1.7"/>
<text x="608.73" y="737.3" font-size="14.98" font-family="'Liberation Sans',Arial,sans-serif" font-weight="bold" fill="#1a1a1a" textLength="17.81" lengthAdjust="spacingAndGlyphs">60</text>
<line x1="627.63" y1="716.3" x2="627.63" y2="720" stroke="#2a2a2a" stroke-width="1.7"/>
<line x1="637.66" y1="716.3" x2="637.66" y2="720" stroke="#2a2a2a" stroke-width="1.7"/>
<text x="268" y="713.67" font-size="14.98" font-family="'Liberation Sans',Arial,sans-serif" font-weight="bold" fill="#1a1a1a" textLength="191.01" lengthAdjust="spacingAndGlyphs" transform="rotate(-90 268 713.67)">Perfusion Pressure (mmHg)</text>
<text x="430.82" y="758.3" font-size="17.45" font-family="'Liberation Sans',Arial,sans-serif" font-weight="bold" fill="#1a1a1a" textLength="98.79" lengthAdjust="spacingAndGlyphs">Time (mins)</text>
<g transform="translate(385.81 475.7) scale(1.1093 1)" fill="#222" font-family="'Liberation Sans',Arial,sans-serif">
<text font-size="16.29">NH<tspan font-size="10.1" dy="2.61">4</tspan><tspan font-size="16.29" dy="-2.61">Cl</tspan></text>
</g>
<line x1="402.12" y1="482.2" x2="419.28" y2="482.2" stroke="#222" stroke-width="1.3"/>
<polygon points="397.5,482.2 405.2,478.9 405.2,485.5" fill="#222"/>
<polygon points="423.9,482.2 416.2,478.9 416.2,485.5" fill="#222"/>
<text x="433.12" y="505.4" font-size="17.89" font-family="'Liberation Sans',Arial,sans-serif" fill="#222" textLength="84.85" lengthAdjust="spacingAndGlyphs">Zoniporide</text>
<line x1="403.06" y1="509.8" x2="519.84" y2="509.8" stroke="#222" stroke-width="1.5"/>
<polygon points="398.5,509.8 406.1,506.7 406.1,512.9" fill="#222"/>
<polygon points="524.4,509.8 516.8,506.7 516.8,512.9" fill="#222"/>
<path d="M314.97 644.58 L340.42 647 L365.88 646.52 L390.61 643.61 L395.45 644.09 L400.3 644.82 L405.15 645.79 L410 646.52 L414.85 645.79 L419.7 645.79 L425.03 640.45 L430.61 633.18 L436.18 625.91 L441.52 622.27 L446.36 618.64 L471.09 611.36 L496.79 613.79 L522 615 L526.36 616.21 L531.21 621.06 L536.06 622.27 L540.91 623.48 L544.55 624.7 L548.67 625.42 L572.42 619.85 L597.88 620.33 L623.33 621.06 L637.88 619.36" fill="none" stroke="#444" stroke-width="1" stroke-linejoin="round"/>
<path d="M314.97 639.24V648.94M309.87 639.24H320.07M309.87 648.94H320.07M340.42 642.88V651.85M335.32 642.88H345.52M335.32 651.85H345.52M365.88 641.18V653.06M360.78 641.18H370.98M360.78 653.06H370.98M390.61 636.82V651.85M385.51 636.82H395.71M385.51 651.85H395.71M395.45 636.33V652.58M390.35 636.33H400.55M390.35 652.58H400.55M400.3 634.88V654.27M395.2 634.88H405.4M395.2 654.27H405.4M405.15 633.91V658.15M400.05 633.91H410.25M400.05 658.15H410.25M410 633.91V658.64M404.9 633.91H415.1M404.9 658.64H415.1M414.85 631.97V658.64M409.75 631.97H419.95M409.75 658.64H419.95M419.7 630.76V659.12M414.6 630.76H424.8M414.6 659.12H424.8M425.03 630.03V661.06M419.93 630.03H430.13M419.93 661.06H430.13M430.61 616.21V648.94M425.51 616.21H435.71M425.51 648.94H435.71M436.18 607.73V646.52M431.08 607.73H441.28M431.08 646.52H441.28M441.52 603.36V641.67M436.42 603.36H446.62M436.42 641.67H446.62M446.36 601.67V636.82M441.26 601.67H451.46M441.26 636.82H451.46M471.09 591.97V631.48M465.99 591.97H476.19M465.99 631.48H476.19M496.79 591.97V636.33M491.69 591.97H501.89M491.69 636.33H501.89M522 590.27V641.18M516.9 590.27H527.1M516.9 641.18H527.1M526.36 590.27V642.88M521.26 590.27H531.46M521.26 642.88H531.46M531.21 599.97V645.3M526.11 599.97H536.31M526.11 645.3H536.31M536.06 600.45V647M530.96 600.45H541.16M530.96 647H541.16M540.91 601.67V647.73M535.81 601.67H546.01M535.81 647.73H546.01M544.55 602.88V648.45M539.45 602.88H549.65M539.45 648.45H549.65M548.67 604.82V648.45M543.57 604.82H553.77M543.57 648.45H553.77M572.42 604.09V636.33M567.32 604.09H577.52M567.32 636.33H577.52M597.88 605.3V636.33M592.78 605.3H602.98M592.78 636.33H602.98M623.33 602.39V639.73M618.23 602.39H628.43M618.23 639.73H628.43M637.88 597.55V641.67M632.78 597.55H642.98M632.78 641.67H642.98" fill="none" stroke="#222" stroke-width="1.5"/>
<g><circle cx="314.97" cy="644.58" r="4.1"/><circle cx="340.42" cy="647" r="4.1"/><circle cx="365.88" cy="646.52" r="4.1"/><circle cx="390.61" cy="643.61" r="4.1"/><circle cx="395.45" cy="644.09" r="4.1"/><circle cx="400.3" cy="644.82" r="4.1"/><circle cx="405.15" cy="645.79" r="4.1"/><circle cx="410" cy="646.52" r="4.1"/><circle cx="414.85" cy="645.79" r="4.1"/><circle cx="419.7" cy="645.79" r="4.1"/><circle cx="425.03" cy="640.45" r="4.1"/><circle cx="430.61" cy="633.18" r="4.1"/><circle cx="436.18" cy="625.91" r="4.1"/><circle cx="441.52" cy="622.27" r="4.1"/><circle cx="446.36" cy="618.64" r="4.1"/><circle cx="471.09" cy="611.36" r="4.1"/><circle cx="496.79" cy="613.79" r="4.1"/><circle cx="522" cy="615" r="4.1"/><circle cx="526.36" cy="616.21" r="4.1"/><circle cx="531.21" cy="621.06" r="4.1"/><circle cx="536.06" cy="622.27" r="4.1"/><circle cx="540.91" cy="623.48" r="4.1"/><circle cx="544.55" cy="624.7" r="4.1"/><circle cx="548.67" cy="625.42" r="4.1"/><circle cx="572.42" cy="619.85" r="4.1"/><circle cx="597.88" cy="620.33" r="4.1"/><circle cx="623.33" cy="621.06" r="4.1"/><circle cx="637.88" cy="619.36" r="4.1"/></g>
</g>
<g>
<line x1="871.2" y1="502.7" x2="871.2" y2="721.6" stroke="#000" stroke-width="2.2" stroke-dasharray="5 2.8"/>
<line x1="899.6" y1="502.7" x2="899.6" y2="721.6" stroke="#000" stroke-width="2.2" stroke-dasharray="5 2.8"/>
<line x1="1008.4" y1="502.7" x2="1008.4" y2="721.6" stroke="#000" stroke-width="2.2" stroke-dasharray="5 2.8"/>
<line x1="784.2" y1="506.05" x2="784.2" y2="728.4" stroke="#2a2a2a" stroke-width="1.8"/>
<line x1="777.4" y1="721.6" x2="1138.44" y2="721.6" stroke="#2a2a2a" stroke-width="1.8"/>
<text x="765.51" y="726.85" font-size="15.12" font-family="'Liberation Sans',Arial,sans-serif" font-weight="bold" fill="#1a1a1a" textLength="9.6" lengthAdjust="spacingAndGlyphs">0</text>
<line x1="777.4" y1="667.93" x2="784.2" y2="667.93" stroke="#2a2a2a" stroke-width="1.7"/>
<text x="755.92" y="673.18" font-size="15.12" font-family="'Liberation Sans',Arial,sans-serif" font-weight="bold" fill="#1a1a1a" textLength="19.21" lengthAdjust="spacingAndGlyphs">50</text>
<line x1="777.4" y1="614.25" x2="784.2" y2="614.25" stroke="#2a2a2a" stroke-width="1.7"/>
<text x="746.3" y="619.5" font-size="15.12" font-family="'Liberation Sans',Arial,sans-serif" font-weight="bold" fill="#1a1a1a" textLength="28.81" lengthAdjust="spacingAndGlyphs">100</text>
<line x1="777.4" y1="560.58" x2="784.2" y2="560.58" stroke="#2a2a2a" stroke-width="1.7"/>
<text x="746.3" y="565.83" font-size="15.12" font-family="'Liberation Sans',Arial,sans-serif" font-weight="bold" fill="#1a1a1a" textLength="28.81" lengthAdjust="spacingAndGlyphs">150</text>
<line x1="777.4" y1="506.9" x2="784.2" y2="506.9" stroke="#2a2a2a" stroke-width="1.7"/>
<text x="746.3" y="512.15" font-size="15.12" font-family="'Liberation Sans',Arial,sans-serif" font-weight="bold" fill="#1a1a1a" textLength="28.81" lengthAdjust="spacingAndGlyphs">200</text>
<text x="779.41" y="742.5" font-size="15.12" font-family="'Liberation Sans',Arial,sans-serif" font-weight="bold" fill="#1a1a1a" textLength="9.6" lengthAdjust="spacingAndGlyphs">0</text>
<line x1="795.07" y1="721.6" x2="795.07" y2="725.3" stroke="#2a2a2a" stroke-width="1.7"/>
<line x1="805.94" y1="721.6" x2="805.94" y2="725.3" stroke="#2a2a2a" stroke-width="1.7"/>
<line x1="816.82" y1="721.6" x2="816.82" y2="725.3" stroke="#2a2a2a" stroke-width="1.7"/>
<line x1="827.69" y1="721.6" x2="827.69" y2="725.3" stroke="#2a2a2a" stroke-width="1.7"/>
<line x1="838.56" y1="721.6" x2="838.56" y2="725.3" stroke="#2a2a2a" stroke-width="1.7"/>
<line x1="849.43" y1="721.6" x2="849.43" y2="725.3" stroke="#2a2a2a" stroke-width="1.7"/>
<line x1="860.3" y1="721.6" x2="860.3" y2="725.3" stroke="#2a2a2a" stroke-width="1.7"/>
<line x1="871.18" y1="721.6" x2="871.18" y2="725.3" stroke="#2a2a2a" stroke-width="1.7"/>
<line x1="882.05" y1="721.6" x2="882.05" y2="725.3" stroke="#2a2a2a" stroke-width="1.7"/>
<line x1="892.92" y1="721.6" x2="892.92" y2="728.4" stroke="#2a2a2a" stroke-width="1.7"/>
<text x="883.38" y="742.5" font-size="15.12" font-family="'Liberation Sans',Arial,sans-serif" font-weight="bold" fill="#1a1a1a" textLength="19.21" lengthAdjust="spacingAndGlyphs">20</text>
<line x1="903.79" y1="721.6" x2="903.79" y2="725.3" stroke="#2a2a2a" stroke-width="1.7"/>
<line x1="914.66" y1="721.6" x2="914.66" y2="725.3" stroke="#2a2a2a" stroke-width="1.7"/>
<line x1="925.54" y1="721.6" x2="925.54" y2="725.3" stroke="#2a2a2a" stroke-width="1.7"/>
<line x1="936.41" y1="721.6" x2="936.41" y2="725.3" stroke="#2a2a2a" stroke-width="1.7"/>
<line x1="947.28" y1="721.6" x2="947.28" y2="725.3" stroke="#2a2a2a" stroke-width="1.7"/>
<line x1="958.15" y1="721.6" x2="958.15" y2="725.3" stroke="#2a2a2a" stroke-width="1.7"/>
<line x1="969.02" y1="721.6" x2="969.02" y2="725.3" stroke="#2a2a2a" stroke-width="1.7"/>
<line x1="979.9" y1="721.6" x2="979.9" y2="725.3" stroke="#2a2a2a" stroke-width="1.7"/>
<line x1="990.77" y1="721.6" x2="990.77" y2="725.3" stroke="#2a2a2a" stroke-width="1.7"/>
<line x1="1001.64" y1="721.6" x2="1001.64" y2="728.4" stroke="#2a2a2a" stroke-width="1.7"/>
<text x="992.27" y="742.5" font-size="15.12" font-family="'Liberation Sans',Arial,sans-serif" font-weight="bold" fill="#1a1a1a" textLength="19.21" lengthAdjust="spacingAndGlyphs">40</text>
<line x1="1012.51" y1="721.6" x2="1012.51" y2="725.3" stroke="#2a2a2a" stroke-width="1.7"/>
<line x1="1023.38" y1="721.6" x2="1023.38" y2="725.3" stroke="#2a2a2a" stroke-width="1.7"/>
<line x1="1034.26" y1="721.6" x2="1034.26" y2="725.3" stroke="#2a2a2a" stroke-width="1.7"/>
<line x1="1045.13" y1="721.6" x2="1045.13" y2="725.3" stroke="#2a2a2a" stroke-width="1.7"/>
<line x1="1056" y1="721.6" x2="1056" y2="725.3" stroke="#2a2a2a" stroke-width="1.7"/>
<line x1="1066.87" y1="721.6" x2="1066.87" y2="725.3" stroke="#2a2a2a" stroke-width="1.7"/>
<line x1="1077.74" y1="721.6" x2="1077.74" y2="725.3" stroke="#2a2a2a" stroke-width="1.7"/>
<line x1="1088.62" y1="721.6" x2="1088.62" y2="725.3" stroke="#2a2a2a" stroke-width="1.7"/>
<line x1="1099.49" y1="721.6" x2="1099.49" y2="725.3" stroke="#2a2a2a" stroke-width="1.7"/>
<line x1="1110.36" y1="721.6" x2="1110.36" y2="728.4" stroke="#2a2a2a" stroke-width="1.7"/>
<text x="1100.8" y="742.5" font-size="15.12" font-family="'Liberation Sans',Arial,sans-serif" font-weight="bold" fill="#1a1a1a" textLength="19.21" lengthAdjust="spacingAndGlyphs">60</text>
<line x1="1121.23" y1="721.6" x2="1121.23" y2="725.3" stroke="#2a2a2a" stroke-width="1.7"/>
<line x1="1132.1" y1="721.6" x2="1132.1" y2="725.3" stroke="#2a2a2a" stroke-width="1.7"/>
<text x="712.1" y="673.88" font-size="20.51" font-family="'Liberation Sans',Arial,sans-serif" font-weight="bold" fill="#1a1a1a" textLength="116.26" lengthAdjust="spacingAndGlyphs" transform="rotate(-90 712.1 673.88)">LVDP (mmHg)</text>
<text x="908.61" y="765.6" font-size="17.45" font-family="'Liberation Sans',Arial,sans-serif" font-weight="bold" fill="#1a1a1a" textLength="104.35" lengthAdjust="spacingAndGlyphs">Time (mins)</text>
<g transform="translate(858.46 461.7) scale(1.1028 1)" fill="#222" font-family="'Liberation Sans',Arial,sans-serif">
<text font-size="18.04">NH<tspan font-size="11.18" dy="2.89">4</tspan><tspan font-size="18.04" dy="-2.89">Cl</tspan></text>
</g>
<line x1="876.44" y1="468.9" x2="895.46" y2="468.9" stroke="#222" stroke-width="1.3"/>
<polygon points="871.4,468.9 879.8,465.7 879.8,472.1" fill="#222"/>
<polygon points="900.5,468.9 892.1,465.7 892.1,472.1" fill="#222"/>
<text x="910.38" y="493.4" font-size="18.76" font-family="'Liberation Sans',Arial,sans-serif" fill="#222" textLength="90.64" lengthAdjust="spacingAndGlyphs">Zoniporide</text>
<line x1="877.54" y1="498.1" x2="1004.16" y2="498.1" stroke="#222" stroke-width="1.5"/>
<polygon points="872.5,498.1 880.9,494.7 880.9,501.5" fill="#222"/>
<polygon points="1009.2,498.1 1000.8,494.7 1000.8,501.5" fill="#222"/>
<path d="M784.23 617.31 L810.43 624 L837.76 625.95 L864.24 624.83 L870.65 624 L876.23 624 L880.97 659.68 L886.54 663.86 L892.12 663.03 L896.86 695.09 L901.88 714.6 L907.45 716.83 L913.03 717.39 L918.6 717.39 L925.02 717.67 L951.5 718.23 L979.94 716 L1005.58 715.44 L1010.6 715.44 L1016.18 715.44 L1021.75 710.42 L1027.33 706.24 L1033.46 699.83 L1060.23 671.39 L1087.27 659.4 L1114.59 650.48 L1131.04 648.53" fill="none" stroke="#444" stroke-width="1" stroke-linejoin="round"/>
<path d="M784.23 604.48V631.8M779.13 604.48H789.33M779.13 631.8H789.33M810.43 606.71V641.28M805.33 606.71H815.53M805.33 641.28H815.53M837.76 608.11V645.74M832.66 608.11H842.86M832.66 645.74H842.86M864.24 606.71V644.35M859.14 606.71H869.34M859.14 644.35H869.34M870.65 598.91V646.3M865.55 598.91H875.75M865.55 646.3H875.75M876.23 603.09V646.3M871.13 603.09H881.33M871.13 646.3H881.33M880.97 625.39V693.69M875.87 625.39H886.07M875.87 693.69H886.07M886.54 623.44V709.03M881.44 623.44H891.64M881.44 709.03H891.64M892.12 622.6V709.03M887.02 622.6H897.22M887.02 709.03H897.22M896.86 684.77V707.63M891.76 684.77H901.96M891.76 707.63H901.96M1021.75 702.06V720.18M1016.65 702.06H1026.85M1016.65 720.18H1026.85M1027.33 687.56V722.97M1022.23 687.56H1032.43M1022.23 722.97H1032.43M1033.46 679.2V721.57M1028.36 679.2H1038.56M1028.36 721.57H1038.56M1060.23 661.08V683.38M1055.13 661.08H1065.33M1055.13 683.38H1065.33M1087.27 652.43V668.6M1082.17 652.43H1092.37M1082.17 668.6H1092.37M1114.59 638.49V663.03M1109.49 638.49H1119.69M1109.49 663.03H1119.69M1131.04 632.36V665.82M1125.94 632.36H1136.14M1125.94 665.82H1136.14" fill="none" stroke="#222" stroke-width="1.5"/>
<g><circle cx="784.23" cy="617.31" r="4.1"/><circle cx="810.43" cy="624" r="4.1"/><circle cx="837.76" cy="625.95" r="4.1"/><circle cx="864.24" cy="624.83" r="4.1"/><circle cx="870.65" cy="624" r="4.1"/><circle cx="876.23" cy="624" r="4.1"/><circle cx="880.97" cy="659.68" r="4.1"/><circle cx="886.54" cy="663.86" r="4.1"/><circle cx="892.12" cy="663.03" r="4.1"/><circle cx="896.86" cy="695.09" r="4.1"/><circle cx="901.88" cy="714.6" r="4.1"/><circle cx="907.45" cy="716.83" r="4.1"/><circle cx="913.03" cy="717.39" r="4.1"/><circle cx="918.6" cy="717.39" r="4.1"/><circle cx="925.02" cy="717.67" r="4.1"/><circle cx="951.5" cy="718.23" r="4.1"/><circle cx="979.94" cy="716" r="4.1"/><circle cx="1005.58" cy="715.44" r="4.1"/><circle cx="1010.6" cy="715.44" r="4.1"/><circle cx="1016.18" cy="715.44" r="4.1"/><circle cx="1021.75" cy="710.42" r="4.1"/><circle cx="1027.33" cy="706.24" r="4.1"/><circle cx="1033.46" cy="699.83" r="4.1"/><circle cx="1060.23" cy="671.39" r="4.1"/><circle cx="1087.27" cy="659.4" r="4.1"/><circle cx="1114.59" cy="650.48" r="4.1"/><circle cx="1131.04" cy="648.53" r="4.1"/></g>
</g>
<g>
<line x1="1337.5" y1="517.7" x2="1337.5" y2="723.8" stroke="#000" stroke-width="1.2" stroke-dasharray="4.5 2.5"/>
<line x1="1365.5" y1="517.7" x2="1365.5" y2="723.8" stroke="#000" stroke-width="1.2" stroke-dasharray="4.5 2.5"/>
<line x1="1466.5" y1="517.7" x2="1466.5" y2="723.8" stroke="#000" stroke-width="1.2" stroke-dasharray="4.5 2.5"/>
<line x1="1255.3" y1="519.43" x2="1255.3" y2="730.6" stroke="#2a2a2a" stroke-width="1.8"/>
<line x1="1248.5" y1="723.8" x2="1590.87" y2="723.8" stroke="#2a2a2a" stroke-width="1.8"/>
<text x="1237.1" y="728.15" font-size="12.58" font-family="'Liberation Sans',Arial,sans-serif" font-weight="bold" fill="#1a1a1a" textLength="8.74" lengthAdjust="spacingAndGlyphs">0</text>
<line x1="1248.5" y1="706.84" x2="1255.3" y2="706.84" stroke="#2a2a2a" stroke-width="1.7"/>
<text x="1228.38" y="711.19" font-size="12.58" font-family="'Liberation Sans',Arial,sans-serif" font-weight="bold" fill="#1a1a1a" textLength="17.48" lengthAdjust="spacingAndGlyphs">10</text>
<line x1="1248.5" y1="689.88" x2="1255.3" y2="689.88" stroke="#2a2a2a" stroke-width="1.7"/>
<text x="1228.38" y="694.23" font-size="12.58" font-family="'Liberation Sans',Arial,sans-serif" font-weight="bold" fill="#1a1a1a" textLength="17.48" lengthAdjust="spacingAndGlyphs">20</text>
<line x1="1248.5" y1="672.92" x2="1255.3" y2="672.92" stroke="#2a2a2a" stroke-width="1.7"/>
<text x="1228.38" y="677.27" font-size="12.58" font-family="'Liberation Sans',Arial,sans-serif" font-weight="bold" fill="#1a1a1a" textLength="17.48" lengthAdjust="spacingAndGlyphs">30</text>
<line x1="1248.5" y1="655.96" x2="1255.3" y2="655.96" stroke="#2a2a2a" stroke-width="1.7"/>
<text x="1228.38" y="660.31" font-size="12.58" font-family="'Liberation Sans',Arial,sans-serif" font-weight="bold" fill="#1a1a1a" textLength="17.48" lengthAdjust="spacingAndGlyphs">40</text>
<line x1="1248.5" y1="639" x2="1255.3" y2="639" stroke="#2a2a2a" stroke-width="1.7"/>
<text x="1228.38" y="643.35" font-size="12.58" font-family="'Liberation Sans',Arial,sans-serif" font-weight="bold" fill="#1a1a1a" textLength="17.48" lengthAdjust="spacingAndGlyphs">50</text>
<line x1="1248.5" y1="622.04" x2="1255.3" y2="622.04" stroke="#2a2a2a" stroke-width="1.7"/>
<text x="1228.38" y="626.39" font-size="12.58" font-family="'Liberation Sans',Arial,sans-serif" font-weight="bold" fill="#1a1a1a" textLength="17.48" lengthAdjust="spacingAndGlyphs">60</text>
<line x1="1248.5" y1="605.08" x2="1255.3" y2="605.08" stroke="#2a2a2a" stroke-width="1.7"/>
<text x="1228.38" y="609.43" font-size="12.58" font-family="'Liberation Sans',Arial,sans-serif" font-weight="bold" fill="#1a1a1a" textLength="17.48" lengthAdjust="spacingAndGlyphs">70</text>
<line x1="1248.5" y1="588.12" x2="1255.3" y2="588.12" stroke="#2a2a2a" stroke-width="1.7"/>
<text x="1228.38" y="592.47" font-size="12.58" font-family="'Liberation Sans',Arial,sans-serif" font-weight="bold" fill="#1a1a1a" textLength="17.48" lengthAdjust="spacingAndGlyphs">80</text>
<line x1="1248.5" y1="571.16" x2="1255.3" y2="571.16" stroke="#2a2a2a" stroke-width="1.7"/>
<text x="1228.38" y="575.51" font-size="12.58" font-family="'Liberation Sans',Arial,sans-serif" font-weight="bold" fill="#1a1a1a" textLength="17.48" lengthAdjust="spacingAndGlyphs">90</text>
<line x1="1248.5" y1="554.2" x2="1255.3" y2="554.2" stroke="#2a2a2a" stroke-width="1.7"/>
<text x="1219.62" y="558.55" font-size="12.58" font-family="'Liberation Sans',Arial,sans-serif" font-weight="bold" fill="#1a1a1a" textLength="26.23" lengthAdjust="spacingAndGlyphs">100</text>
<line x1="1248.5" y1="537.24" x2="1255.3" y2="537.24" stroke="#2a2a2a" stroke-width="1.7"/>
<text x="1220.48" y="541.59" font-size="12.58" font-family="'Liberation Sans',Arial,sans-serif" font-weight="bold" fill="#1a1a1a" textLength="25.36" lengthAdjust="spacingAndGlyphs">110</text>
<line x1="1248.5" y1="520.28" x2="1255.3" y2="520.28" stroke="#2a2a2a" stroke-width="1.7"/>
<text x="1219.62" y="524.63" font-size="12.58" font-family="'Liberation Sans',Arial,sans-serif" font-weight="bold" fill="#1a1a1a" textLength="26.23" lengthAdjust="spacingAndGlyphs">120</text>
<text x="1250.94" y="745.7" font-size="12.58" font-family="'Liberation Sans',Arial,sans-serif" font-weight="bold" fill="#1a1a1a" textLength="8.74" lengthAdjust="spacingAndGlyphs">0</text>
<line x1="1265.57" y1="723.8" x2="1265.57" y2="727.5" stroke="#2a2a2a" stroke-width="1.7"/>
<line x1="1275.83" y1="723.8" x2="1275.83" y2="727.5" stroke="#2a2a2a" stroke-width="1.7"/>
<line x1="1286.1" y1="723.8" x2="1286.1" y2="727.5" stroke="#2a2a2a" stroke-width="1.7"/>
<line x1="1296.36" y1="723.8" x2="1296.36" y2="727.5" stroke="#2a2a2a" stroke-width="1.7"/>
<line x1="1306.63" y1="723.8" x2="1306.63" y2="727.5" stroke="#2a2a2a" stroke-width="1.7"/>
<line x1="1316.9" y1="723.8" x2="1316.9" y2="727.5" stroke="#2a2a2a" stroke-width="1.7"/>
<line x1="1327.16" y1="723.8" x2="1327.16" y2="727.5" stroke="#2a2a2a" stroke-width="1.7"/>
<line x1="1337.43" y1="723.8" x2="1337.43" y2="727.5" stroke="#2a2a2a" stroke-width="1.7"/>
<line x1="1347.69" y1="723.8" x2="1347.69" y2="727.5" stroke="#2a2a2a" stroke-width="1.7"/>
<line x1="1357.96" y1="723.8" x2="1357.96" y2="730.6" stroke="#2a2a2a" stroke-width="1.7"/>
<text x="1349.28" y="745.7" font-size="12.58" font-family="'Liberation Sans',Arial,sans-serif" font-weight="bold" fill="#1a1a1a" textLength="17.48" lengthAdjust="spacingAndGlyphs">20</text>
<line x1="1368.23" y1="723.8" x2="1368.23" y2="727.5" stroke="#2a2a2a" stroke-width="1.7"/>
<line x1="1378.49" y1="723.8" x2="1378.49" y2="727.5" stroke="#2a2a2a" stroke-width="1.7"/>
<line x1="1388.76" y1="723.8" x2="1388.76" y2="727.5" stroke="#2a2a2a" stroke-width="1.7"/>
<line x1="1399.02" y1="723.8" x2="1399.02" y2="727.5" stroke="#2a2a2a" stroke-width="1.7"/>
<line x1="1409.29" y1="723.8" x2="1409.29" y2="727.5" stroke="#2a2a2a" stroke-width="1.7"/>
<line x1="1419.56" y1="723.8" x2="1419.56" y2="727.5" stroke="#2a2a2a" stroke-width="1.7"/>
<line x1="1429.82" y1="723.8" x2="1429.82" y2="727.5" stroke="#2a2a2a" stroke-width="1.7"/>
<line x1="1440.09" y1="723.8" x2="1440.09" y2="727.5" stroke="#2a2a2a" stroke-width="1.7"/>
<line x1="1450.35" y1="723.8" x2="1450.35" y2="727.5" stroke="#2a2a2a" stroke-width="1.7"/>
<line x1="1460.62" y1="723.8" x2="1460.62" y2="730.6" stroke="#2a2a2a" stroke-width="1.7"/>
<text x="1452.09" y="745.7" font-size="12.58" font-family="'Liberation Sans',Arial,sans-serif" font-weight="bold" fill="#1a1a1a" textLength="17.48" lengthAdjust="spacingAndGlyphs">40</text>
<line x1="1470.89" y1="723.8" x2="1470.89" y2="727.5" stroke="#2a2a2a" stroke-width="1.7"/>
<line x1="1481.15" y1="723.8" x2="1481.15" y2="727.5" stroke="#2a2a2a" stroke-width="1.7"/>
<line x1="1491.42" y1="723.8" x2="1491.42" y2="727.5" stroke="#2a2a2a" stroke-width="1.7"/>
<line x1="1501.68" y1="723.8" x2="1501.68" y2="727.5" stroke="#2a2a2a" stroke-width="1.7"/>
<line x1="1511.95" y1="723.8" x2="1511.95" y2="727.5" stroke="#2a2a2a" stroke-width="1.7"/>
<line x1="1522.22" y1="723.8" x2="1522.22" y2="727.5" stroke="#2a2a2a" stroke-width="1.7"/>
<line x1="1532.48" y1="723.8" x2="1532.48" y2="727.5" stroke="#2a2a2a" stroke-width="1.7"/>
<line x1="1542.75" y1="723.8" x2="1542.75" y2="727.5" stroke="#2a2a2a" stroke-width="1.7"/>
<line x1="1553.01" y1="723.8" x2="1553.01" y2="727.5" stroke="#2a2a2a" stroke-width="1.7"/>
<line x1="1563.28" y1="723.8" x2="1563.28" y2="730.6" stroke="#2a2a2a" stroke-width="1.7"/>
<text x="1554.58" y="745.7" font-size="12.58" font-family="'Liberation Sans',Arial,sans-serif" font-weight="bold" fill="#1a1a1a" textLength="17.48" lengthAdjust="spacingAndGlyphs">60</text>
<line x1="1573.55" y1="723.8" x2="1573.55" y2="727.5" stroke="#2a2a2a" stroke-width="1.7"/>
<line x1="1583.81" y1="723.8" x2="1583.81" y2="727.5" stroke="#2a2a2a" stroke-width="1.7"/>
<text x="1187.2" y="684.65" font-size="19.49" font-family="'Liberation Sans',Arial,sans-serif" font-weight="bold" fill="#1a1a1a" textLength="123.79" lengthAdjust="spacingAndGlyphs" transform="rotate(-90 1187.2 684.65)">LVEDP (mmHg)</text>
<text x="1373.02" y="765.7" font-size="17.45" font-family="'Liberation Sans',Arial,sans-serif" font-weight="bold" fill="#1a1a1a" textLength="100.61" lengthAdjust="spacingAndGlyphs">Time (mins)</text>
<g transform="translate(1326.07 478.6) scale(1.0986 1)" fill="#222" font-family="'Liberation Sans',Arial,sans-serif">
<text font-size="16.87">NH<tspan font-size="10.46" dy="2.7">4</tspan><tspan font-size="16.87" dy="-2.7">Cl</tspan></text>
</g>
<line x1="1342.7" y1="485.4" x2="1360.9" y2="485.4" stroke="#222" stroke-width="1.3"/>
<polygon points="1338.2,485.4 1345.7,482.2 1345.7,488.6" fill="#222"/>
<polygon points="1365.4,485.4 1357.9,482.2 1357.9,488.6" fill="#222"/>
<text x="1374.71" y="509.5" font-size="17.75" font-family="'Liberation Sans',Arial,sans-serif" fill="#222" textLength="85.66" lengthAdjust="spacingAndGlyphs">Zoniporide</text>
<line x1="1343.7" y1="512.9" x2="1463.4" y2="512.9" stroke="#222" stroke-width="1.5"/>
<polygon points="1339.2,512.9 1346.7,509.7 1346.7,516.1" fill="#222"/>
<polygon points="1467.9,512.9 1460.4,509.7 1460.4,516.1" fill="#222"/>
<path d="M1254.8 694.2 L1280.67 696.33 L1306 695.8 L1330 695.8 L1334.8 695.53 L1339.33 695 L1344.67 695 L1349.2 694.47 L1354.53 693.67 L1359.33 692.33 L1363.33 689.67 L1367.33 677.67 L1372.67 676.33 L1377.47 675 L1382.8 673.67 L1388.13 673.67 L1413.2 664.87 L1439.87 667 L1464.67 659 L1470 659 L1475.33 659 L1480.13 657.67 L1486 659 L1491.33 661.67 L1516.13 665.13 L1542 667.8 L1567.87 673.67 L1583.33 674.47" fill="none" stroke="#444" stroke-width="1" stroke-linejoin="round"/>
<path d="M1254.8 686.47V703.53M1249.7 686.47H1259.9M1249.7 703.53H1259.9M1280.67 687.8V705.67M1275.57 687.8H1285.77M1275.57 705.67H1285.77M1306 687.8V705.67M1300.9 687.8H1311.1M1300.9 705.67H1311.1M1330 687.8V705.67M1324.9 687.8H1335.1M1324.9 705.67H1335.1M1334.8 687.8V705.13M1329.7 687.8H1339.9M1329.7 705.13H1339.9M1339.33 688.33V704.33M1334.23 688.33H1344.43M1334.23 704.33H1344.43M1344.67 689.67V705.13M1339.57 689.67H1349.77M1339.57 705.13H1349.77M1349.2 689.67V705.67M1344.1 689.67H1354.3M1344.1 705.67H1354.3M1354.53 688.33V704.33M1349.43 688.33H1359.63M1349.43 704.33H1359.63M1359.33 687V701.67M1354.23 687H1364.43M1354.23 701.67H1364.43M1363.33 684.87V695M1358.23 684.87H1368.43M1358.23 695H1368.43M1367.33 663V692.33M1362.23 663H1372.43M1362.23 692.33H1372.43M1372.67 663V688.33M1367.57 663H1377.77M1367.57 688.33H1377.77M1377.47 661.67V688.33M1372.37 661.67H1382.57M1372.37 688.33H1382.57M1382.8 659V688.33M1377.7 659H1387.9M1377.7 688.33H1387.9M1388.13 656.33V691.53M1383.03 656.33H1393.23M1383.03 691.53H1393.23M1413.2 633.67V696.33M1408.1 633.67H1418.3M1408.1 696.33H1418.3M1439.87 628.33V705.67M1434.77 628.33H1444.97M1434.77 705.67H1444.97M1464.67 616.87V701.67M1459.57 616.87H1469.77M1459.57 701.67H1469.77M1470 617.67V700.33M1464.9 617.67H1475.1M1464.9 700.33H1475.1M1475.33 619V699.8M1470.23 619H1480.43M1470.23 699.8H1480.43M1480.13 621.67V693.13M1475.03 621.67H1485.23M1475.03 693.13H1485.23M1486 630.2V689.13M1480.9 630.2H1491.1M1480.9 689.13H1491.1M1491.33 637.13V687.8M1486.23 637.13H1496.43M1486.23 687.8H1496.43M1516.13 638.47V691.8M1511.03 638.47H1521.23M1511.03 691.8H1521.23M1542 638.47V697.67M1536.9 638.47H1547.1M1536.9 697.67H1547.1M1567.87 638.47V709.67M1562.77 638.47H1572.97M1562.77 709.67H1572.97M1583.33 636.87V713.13M1578.23 636.87H1588.43M1578.23 713.13H1588.43" fill="none" stroke="#222" stroke-width="1.5"/>
<g><circle cx="1254.8" cy="694.2" r="4.1"/><circle cx="1280.67" cy="696.33" r="4.1"/><circle cx="1306" cy="695.8" r="4.1"/><circle cx="1330" cy="695.8" r="4.1"/><circle cx="1334.8" cy="695.53" r="4.1"/><circle cx="1339.33" cy="695" r="4.1"/><circle cx="1344.67" cy="695" r="4.1"/><circle cx="1349.2" cy="694.47" r="4.1"/><circle cx="1354.53" cy="693.67" r="4.1"/><circle cx="1359.33" cy="692.33" r="4.1"/><circle cx="1363.33" cy="689.67" r="4.1"/><circle cx="1367.33" cy="677.67" r="4.1"/><circle cx="1372.67" cy="676.33" r="4.1"/><circle cx="1377.47" cy="675" r="4.1"/><circle cx="1382.8" cy="673.67" r="4.1"/><circle cx="1388.13" cy="673.67" r="4.1"/><circle cx="1413.2" cy="664.87" r="4.1"/><circle cx="1439.87" cy="667" r="4.1"/><circle cx="1464.67" cy="659" r="4.1"/><circle cx="1470" cy="659" r="4.1"/><circle cx="1475.33" cy="659" r="4.1"/><circle cx="1480.13" cy="657.67" r="4.1"/><circle cx="1486" cy="659" r="4.1"/><circle cx="1491.33" cy="661.67" r="4.1"/><circle cx="1516.13" cy="665.13" r="4.1"/><circle cx="1542" cy="667.8" r="4.1"/><circle cx="1567.87" cy="673.67" r="4.1"/><circle cx="1583.33" cy="674.47" r="4.1"/></g>
</g>
<g>
<path d="M398.5 1056.7 V849.5 H545.5 V1056.7" fill="none" stroke="#000" stroke-width="2.7" stroke-dasharray="6.6 5" stroke-linejoin="round"/>
<line x1="322" y1="845.7" x2="322" y2="1062.2" stroke="#000" stroke-width="2.2"/>
<line x1="316.5" y1="1056.7" x2="669.76" y2="1056.7" stroke="#000" stroke-width="2.2"/>
<text x="303.68" y="1062.15" font-size="15.69" font-family="'Liberation Sans',Arial,sans-serif" font-weight="bold" textLength="9.85" lengthAdjust="spacingAndGlyphs">0</text>
<line x1="316.5" y1="1014.72" x2="322" y2="1014.72" stroke="#000" stroke-width="2.2"/>
<text x="293.85" y="1020.17" font-size="15.69" font-family="'Liberation Sans',Arial,sans-serif" font-weight="bold" textLength="19.7" lengthAdjust="spacingAndGlyphs">50</text>
<line x1="316.5" y1="972.74" x2="322" y2="972.74" stroke="#000" stroke-width="2.2"/>
<text x="283.98" y="978.19" font-size="15.69" font-family="'Liberation Sans',Arial,sans-serif" font-weight="bold" textLength="29.55" lengthAdjust="spacingAndGlyphs">100</text>
<line x1="316.5" y1="930.76" x2="322" y2="930.76" stroke="#000" stroke-width="2.2"/>
<text x="283.98" y="936.21" font-size="15.69" font-family="'Liberation Sans',Arial,sans-serif" font-weight="bold" textLength="29.55" lengthAdjust="spacingAndGlyphs">150</text>
<line x1="316.5" y1="888.78" x2="322" y2="888.78" stroke="#000" stroke-width="2.2"/>
<text x="283.98" y="894.23" font-size="15.69" font-family="'Liberation Sans',Arial,sans-serif" font-weight="bold" textLength="29.55" lengthAdjust="spacingAndGlyphs">200</text>
<line x1="316.5" y1="846.8" x2="322" y2="846.8" stroke="#000" stroke-width="2.2"/>
<text x="283.98" y="852.25" font-size="15.69" font-family="'Liberation Sans',Arial,sans-serif" font-weight="bold" textLength="29.55" lengthAdjust="spacingAndGlyphs">250</text>
<text x="317.09" y="1082" font-size="15.69" font-family="'Liberation Sans',Arial,sans-serif" font-weight="bold" textLength="9.85" lengthAdjust="spacingAndGlyphs">0</text>
<line x1="332.65" y1="1056.7" x2="332.65" y2="1059.7" stroke="#000" stroke-width="2.2"/>
<line x1="343.3" y1="1056.7" x2="343.3" y2="1059.7" stroke="#000" stroke-width="2.2"/>
<line x1="353.95" y1="1056.7" x2="353.95" y2="1059.7" stroke="#000" stroke-width="2.2"/>
<line x1="364.6" y1="1056.7" x2="364.6" y2="1059.7" stroke="#000" stroke-width="2.2"/>
<line x1="375.25" y1="1056.7" x2="375.25" y2="1059.7" stroke="#000" stroke-width="2.2"/>
<line x1="385.9" y1="1056.7" x2="385.9" y2="1059.7" stroke="#000" stroke-width="2.2"/>
<line x1="396.55" y1="1056.7" x2="396.55" y2="1059.7" stroke="#000" stroke-width="2.2"/>
<line x1="407.2" y1="1056.7" x2="407.2" y2="1059.7" stroke="#000" stroke-width="2.2"/>
<line x1="417.85" y1="1056.7" x2="417.85" y2="1059.7" stroke="#000" stroke-width="2.2"/>
<line x1="428.5" y1="1056.7" x2="428.5" y2="1062.2" stroke="#000" stroke-width="2.2"/>
<text x="418.72" y="1082" font-size="15.69" font-family="'Liberation Sans',Arial,sans-serif" font-weight="bold" textLength="19.7" lengthAdjust="spacingAndGlyphs">20</text>
<line x1="439.15" y1="1056.7" x2="439.15" y2="1059.7" stroke="#000" stroke-width="2.2"/>
<line x1="449.8" y1="1056.7" x2="449.8" y2="1059.7" stroke="#000" stroke-width="2.2"/>
<line x1="460.45" y1="1056.7" x2="460.45" y2="1059.7" stroke="#000" stroke-width="2.2"/>
<line x1="471.1" y1="1056.7" x2="471.1" y2="1059.7" stroke="#000" stroke-width="2.2"/>
<line x1="481.75" y1="1056.7" x2="481.75" y2="1059.7" stroke="#000" stroke-width="2.2"/>
<line x1="492.4" y1="1056.7" x2="492.4" y2="1059.7" stroke="#000" stroke-width="2.2"/>
<line x1="503.05" y1="1056.7" x2="503.05" y2="1059.7" stroke="#000" stroke-width="2.2"/>
<line x1="513.7" y1="1056.7" x2="513.7" y2="1059.7" stroke="#000" stroke-width="2.2"/>
<line x1="524.35" y1="1056.7" x2="524.35" y2="1059.7" stroke="#000" stroke-width="2.2"/>
<line x1="535" y1="1056.7" x2="535" y2="1062.2" stroke="#000" stroke-width="2.2"/>
<text x="525.39" y="1082" font-size="15.69" font-family="'Liberation Sans',Arial,sans-serif" font-weight="bold" textLength="19.7" lengthAdjust="spacingAndGlyphs">40</text>
<line x1="545.65" y1="1056.7" x2="545.65" y2="1059.7" stroke="#000" stroke-width="2.2"/>
<line x1="556.3" y1="1056.7" x2="556.3" y2="1059.7" stroke="#000" stroke-width="2.2"/>
<line x1="566.95" y1="1056.7" x2="566.95" y2="1059.7" stroke="#000" stroke-width="2.2"/>
<line x1="577.6" y1="1056.7" x2="577.6" y2="1059.7" stroke="#000" stroke-width="2.2"/>
<line x1="588.25" y1="1056.7" x2="588.25" y2="1059.7" stroke="#000" stroke-width="2.2"/>
<line x1="598.9" y1="1056.7" x2="598.9" y2="1059.7" stroke="#000" stroke-width="2.2"/>
<line x1="609.55" y1="1056.7" x2="609.55" y2="1059.7" stroke="#000" stroke-width="2.2"/>
<line x1="620.2" y1="1056.7" x2="620.2" y2="1059.7" stroke="#000" stroke-width="2.2"/>
<line x1="630.85" y1="1056.7" x2="630.85" y2="1059.7" stroke="#000" stroke-width="2.2"/>
<line x1="641.5" y1="1056.7" x2="641.5" y2="1062.2" stroke="#000" stroke-width="2.2"/>
<text x="631.69" y="1082" font-size="15.69" font-family="'Liberation Sans',Arial,sans-serif" font-weight="bold" textLength="19.7" lengthAdjust="spacingAndGlyphs">60</text>
<line x1="652.15" y1="1056.7" x2="652.15" y2="1059.7" stroke="#000" stroke-width="2.2"/>
<line x1="662.8" y1="1056.7" x2="662.8" y2="1059.7" stroke="#000" stroke-width="2.2"/>
<text x="275" y="1054.05" font-size="18.18" font-family="'Liberation Sans',Arial,sans-serif" font-weight="bold" textLength="204.32" lengthAdjust="spacingAndGlyphs" transform="rotate(-90 275 1054.05)">Perfusion pressure (mmHg)</text>
<text x="448.83" y="1102" font-size="16.44" font-family="'Liberation Sans',Arial,sans-serif" font-weight="bold" textLength="94.34" lengthAdjust="spacingAndGlyphs">Time (mins)</text>
<text x="438.81" y="832.7" font-size="16.44" font-family="'Liberation Sans',Arial,sans-serif" fill="#111" textLength="72.13" lengthAdjust="spacingAndGlyphs">Lidocaine</text>
<line x1="414.24" y1="837.7" x2="530.26" y2="837.7" stroke="#111" stroke-width="1.4"/>
<polygon points="407.7,837.7 418.6,833.6 418.6,841.8" fill="#111"/>
<polygon points="536.8,837.7 525.9,833.6 525.9,841.8" fill="#111"/>
<path d="M322 997.2 L349.2 998.8 L375.33 999.33 L401.47 998 L407.33 986 L412.13 974.8 L418 964.13 L422.8 956.67 L428.13 955.33 L433.47 954.8 L438.8 948.67 L444.13 947.33 L449.47 951.87 L454.8 943.33 L482 956.13 L508.13 949.47 L534.8 947.33 L540.13 937.47 L545.47 926.8 L550.8 954.8 L556.13 973.2 L561.47 988.13 L588.13 993.47 L614.8 1000.13 L641.47 1000.13 L668.67 1001.47" fill="none" stroke="#000" stroke-width="2" stroke-linejoin="round"/>
<path d="M322 991.33V1003.87M318.4 991.33H325.6M318.4 1003.87H325.6M349.2 990.8V1007.33M345.6 990.8H352.8M345.6 1007.33H352.8M375.33 991.87V1007.33M371.73 991.87H378.93M371.73 1007.33H378.93M401.47 994V1003.87M397.87 994H405.07M397.87 1003.87H405.07M407.33 972.67V998.8M403.73 972.67H410.93M403.73 998.8H410.93M412.13 967.33V982M408.53 967.33H415.73M408.53 982H415.73M418 952.13V974.8M414.4 952.13H421.6M414.4 974.8H421.6M422.8 940.13V973.2M419.2 940.13H426.4M419.2 973.2H426.4M428.13 936.13V975.33M424.53 936.13H431.73M424.53 975.33H431.73M433.47 941.47V968.67M429.87 941.47H437.07M429.87 968.67H437.07M438.8 928.13V970.53M435.2 928.13H442.4M435.2 970.53H442.4M444.13 930.8V964.13M440.53 930.8H447.73M440.53 964.13H447.73M449.47 935.33V968.67M445.87 935.33H453.07M445.87 968.67H453.07M454.8 926.8V961.47M451.2 926.8H458.4M451.2 961.47H458.4M482 939.33V972.13M478.4 939.33H485.6M478.4 972.13H485.6M508.13 933.2V966M504.53 933.2H511.73M504.53 966H511.73M534.8 930.8V964.67M531.2 930.8H538.4M531.2 964.67H538.4M540.13 924.67V951.33M536.53 924.67H543.73M536.53 951.33H543.73M545.47 901.47V951.33M541.87 901.47H549.07M541.87 951.33H549.07M550.8 938.53V972.13M547.2 938.53H554.4M547.2 972.13H554.4M556.13 964.67V982M552.53 964.67H559.73M552.53 982H559.73M561.47 979.33V998M557.87 979.33H565.07M557.87 998H565.07M588.13 982.8V1004.13M584.53 982.8H591.73M584.53 1004.13H591.73M614.8 992.13V1007.87M611.2 992.13H618.4M611.2 1007.87H618.4M641.47 990V1010M637.87 990H645.07M637.87 1010H645.07M668.67 990.8V1012.13M665.07 990.8H672.27M665.07 1012.13H672.27" fill="none" stroke="#000" stroke-width="2.3"/>
<g><circle cx="322" cy="997.2" r="3.4"/><circle cx="349.2" cy="998.8" r="3.4"/><circle cx="375.33" cy="999.33" r="3.4"/><circle cx="401.47" cy="998" r="3.4"/><circle cx="407.33" cy="986" r="3.4"/><circle cx="412.13" cy="974.8" r="3.4"/><circle cx="418" cy="964.13" r="3.4"/><circle cx="422.8" cy="956.67" r="3.4"/><circle cx="428.13" cy="955.33" r="3.4"/><circle cx="433.47" cy="954.8" r="3.4"/><circle cx="438.8" cy="948.67" r="3.4"/><circle cx="444.13" cy="947.33" r="3.4"/><circle cx="449.47" cy="951.87" r="3.4"/><circle cx="454.8" cy="943.33" r="3.4"/><circle cx="482" cy="956.13" r="3.4"/><circle cx="508.13" cy="949.47" r="3.4"/><circle cx="534.8" cy="947.33" r="3.4"/><circle cx="540.13" cy="937.47" r="3.4"/><circle cx="545.47" cy="926.8" r="3.4"/><circle cx="550.8" cy="954.8" r="3.4"/><circle cx="556.13" cy="973.2" r="3.4"/><circle cx="561.47" cy="988.13" r="3.4"/><circle cx="588.13" cy="993.47" r="3.4"/><circle cx="614.8" cy="1000.13" r="3.4"/><circle cx="641.47" cy="1000.13" r="3.4"/><circle cx="668.67" cy="1001.47" r="3.4"/></g>
</g>
<g>
<path d="M856.7 1056.7 V849.5 H1002.8 V1056.7" fill="none" stroke="#000" stroke-width="2.7" stroke-dasharray="6.6 5" stroke-linejoin="round"/>
<line x1="782.5" y1="845.7" x2="782.5" y2="1062.2" stroke="#000" stroke-width="2.2"/>
<line x1="777" y1="1056.7" x2="1130.2" y2="1056.7" stroke="#000" stroke-width="2.2"/>
<text x="764.52" y="1062.15" font-size="15.69" font-family="'Liberation Sans',Arial,sans-serif" font-weight="bold" textLength="10.23" lengthAdjust="spacingAndGlyphs">0</text>
<line x1="777" y1="1004.23" x2="782.5" y2="1004.23" stroke="#000" stroke-width="2.2"/>
<text x="754.31" y="1009.67" font-size="15.69" font-family="'Liberation Sans',Arial,sans-serif" font-weight="bold" textLength="20.47" lengthAdjust="spacingAndGlyphs">50</text>
<line x1="777" y1="951.75" x2="782.5" y2="951.75" stroke="#000" stroke-width="2.2"/>
<text x="744.06" y="957.2" font-size="15.69" font-family="'Liberation Sans',Arial,sans-serif" font-weight="bold" textLength="30.7" lengthAdjust="spacingAndGlyphs">100</text>
<line x1="777" y1="899.28" x2="782.5" y2="899.28" stroke="#000" stroke-width="2.2"/>
<text x="744.06" y="904.73" font-size="15.69" font-family="'Liberation Sans',Arial,sans-serif" font-weight="bold" textLength="30.7" lengthAdjust="spacingAndGlyphs">150</text>
<line x1="777" y1="846.8" x2="782.5" y2="846.8" stroke="#000" stroke-width="2.2"/>
<text x="744.06" y="852.25" font-size="15.69" font-family="'Liberation Sans',Arial,sans-serif" font-weight="bold" textLength="30.7" lengthAdjust="spacingAndGlyphs">200</text>
<text x="777.39" y="1082" font-size="15.69" font-family="'Liberation Sans',Arial,sans-serif" font-weight="bold" textLength="10.23" lengthAdjust="spacingAndGlyphs">0</text>
<line x1="793.13" y1="1056.7" x2="793.13" y2="1059.7" stroke="#000" stroke-width="2.2"/>
<line x1="803.76" y1="1056.7" x2="803.76" y2="1059.7" stroke="#000" stroke-width="2.2"/>
<line x1="814.4" y1="1056.7" x2="814.4" y2="1059.7" stroke="#000" stroke-width="2.2"/>
<line x1="825.03" y1="1056.7" x2="825.03" y2="1059.7" stroke="#000" stroke-width="2.2"/>
<line x1="835.66" y1="1056.7" x2="835.66" y2="1059.7" stroke="#000" stroke-width="2.2"/>
<line x1="846.29" y1="1056.7" x2="846.29" y2="1059.7" stroke="#000" stroke-width="2.2"/>
<line x1="856.92" y1="1056.7" x2="856.92" y2="1059.7" stroke="#000" stroke-width="2.2"/>
<line x1="867.56" y1="1056.7" x2="867.56" y2="1059.7" stroke="#000" stroke-width="2.2"/>
<line x1="878.19" y1="1056.7" x2="878.19" y2="1059.7" stroke="#000" stroke-width="2.2"/>
<line x1="888.82" y1="1056.7" x2="888.82" y2="1062.2" stroke="#000" stroke-width="2.2"/>
<text x="878.65" y="1082" font-size="15.69" font-family="'Liberation Sans',Arial,sans-serif" font-weight="bold" textLength="20.47" lengthAdjust="spacingAndGlyphs">20</text>
<line x1="899.45" y1="1056.7" x2="899.45" y2="1059.7" stroke="#000" stroke-width="2.2"/>
<line x1="910.08" y1="1056.7" x2="910.08" y2="1059.7" stroke="#000" stroke-width="2.2"/>
<line x1="920.72" y1="1056.7" x2="920.72" y2="1059.7" stroke="#000" stroke-width="2.2"/>
<line x1="931.35" y1="1056.7" x2="931.35" y2="1059.7" stroke="#000" stroke-width="2.2"/>
<line x1="941.98" y1="1056.7" x2="941.98" y2="1059.7" stroke="#000" stroke-width="2.2"/>
<line x1="952.61" y1="1056.7" x2="952.61" y2="1059.7" stroke="#000" stroke-width="2.2"/>
<line x1="963.24" y1="1056.7" x2="963.24" y2="1059.7" stroke="#000" stroke-width="2.2"/>
<line x1="973.88" y1="1056.7" x2="973.88" y2="1059.7" stroke="#000" stroke-width="2.2"/>
<line x1="984.51" y1="1056.7" x2="984.51" y2="1059.7" stroke="#000" stroke-width="2.2"/>
<line x1="995.14" y1="1056.7" x2="995.14" y2="1062.2" stroke="#000" stroke-width="2.2"/>
<text x="985.16" y="1082" font-size="15.69" font-family="'Liberation Sans',Arial,sans-serif" font-weight="bold" textLength="20.47" lengthAdjust="spacingAndGlyphs">40</text>
<line x1="1005.77" y1="1056.7" x2="1005.77" y2="1059.7" stroke="#000" stroke-width="2.2"/>
<line x1="1016.4" y1="1056.7" x2="1016.4" y2="1059.7" stroke="#000" stroke-width="2.2"/>
<line x1="1027.04" y1="1056.7" x2="1027.04" y2="1059.7" stroke="#000" stroke-width="2.2"/>
<line x1="1037.67" y1="1056.7" x2="1037.67" y2="1059.7" stroke="#000" stroke-width="2.2"/>
<line x1="1048.3" y1="1056.7" x2="1048.3" y2="1059.7" stroke="#000" stroke-width="2.2"/>
<line x1="1058.93" y1="1056.7" x2="1058.93" y2="1059.7" stroke="#000" stroke-width="2.2"/>
<line x1="1069.56" y1="1056.7" x2="1069.56" y2="1059.7" stroke="#000" stroke-width="2.2"/>
<line x1="1080.2" y1="1056.7" x2="1080.2" y2="1059.7" stroke="#000" stroke-width="2.2"/>
<line x1="1090.83" y1="1056.7" x2="1090.83" y2="1059.7" stroke="#000" stroke-width="2.2"/>
<line x1="1101.46" y1="1056.7" x2="1101.46" y2="1062.2" stroke="#000" stroke-width="2.2"/>
<text x="1091.27" y="1082" font-size="15.69" font-family="'Liberation Sans',Arial,sans-serif" font-weight="bold" textLength="20.47" lengthAdjust="spacingAndGlyphs">60</text>
<line x1="1112.09" y1="1056.7" x2="1112.09" y2="1059.7" stroke="#000" stroke-width="2.2"/>
<line x1="1122.72" y1="1056.7" x2="1122.72" y2="1059.7" stroke="#000" stroke-width="2.2"/>
<text x="735.4" y="1002.65" font-size="18.04" font-family="'Liberation Sans',Arial,sans-serif" font-weight="bold" textLength="102.72" lengthAdjust="spacingAndGlyphs" transform="rotate(-90 735.4 1002.65)">LVDP (mmHg)</text>
<text x="910.33" y="1102" font-size="16.44" font-family="'Liberation Sans',Arial,sans-serif" font-weight="bold" textLength="93.33" lengthAdjust="spacingAndGlyphs">Time (mins)</text>
<text x="899.51" y="832.7" font-size="16.44" font-family="'Liberation Sans',Arial,sans-serif" fill="#111" textLength="72.13" lengthAdjust="spacingAndGlyphs">Lidocaine</text>
<line x1="875.24" y1="837.7" x2="990.96" y2="837.7" stroke="#111" stroke-width="1.4"/>
<polygon points="868.7,837.7 879.6,833.6 879.6,841.8" fill="#111"/>
<polygon points="997.5,837.7 986.6,833.6 986.6,841.8" fill="#111"/>
<path d="M782.53 917.47 L809.2 922.53 L835.87 925.2 L862.53 925.2 L868.67 1009.47 L873.2 1056.67 L878.53 1056.67 L883.87 1056.67 L889.2 1056.67 L894.53 1056.67 L899.87 1056.67 L905.2 1056.67 L910.53 1056.67 L915.87 1056.67 L942.53 1056.67 L968.67 1056.67 L995.87 1056.67 L1001.2 1056.67 L1006.53 962 L1010.8 955.33 L1017.2 938 L1023.33 922.53 L1048.67 917.47 L1075.87 925.2 L1101.47 928.13 L1128.67 927.33" fill="none" stroke="#000" stroke-width="2" stroke-linejoin="round"/>
<path d="M782.53 903.87V930.53M778.33 903.87H786.73M778.33 930.53H786.73M809.2 917.2V928.67M805 917.2H813.4M805 928.67H813.4M835.87 914.53V935.33M831.67 914.53H840.07M831.67 935.33H840.07M862.53 918.53V932.13M858.33 918.53H866.73M858.33 932.13H866.73M868.67 1001.47V1018M864.47 1001.47H872.87M864.47 1018H872.87M1006.53 948.13V976.13M1002.33 948.13H1010.73M1002.33 976.13H1010.73M1010.8 929.47V984.67M1006.6 929.47H1015M1006.6 984.67H1015M1017.2 920.13V958M1013 920.13H1021.4M1013 958H1021.4M1023.33 908.13V936.67M1019.13 908.13H1027.53M1019.13 936.67H1027.53M1048.67 889.47V945.47M1044.47 889.47H1052.87M1044.47 945.47H1052.87M1075.87 897.47V952.67M1071.67 897.47H1080.07M1071.67 952.67H1080.07M1101.47 909.2V947.87M1097.27 909.2H1105.67M1097.27 947.87H1105.67M1128.67 912.67V941.47M1124.47 912.67H1132.87M1124.47 941.47H1132.87" fill="none" stroke="#000" stroke-width="2.3"/>
<g><circle cx="782.53" cy="917.47" r="4.2"/><circle cx="809.2" cy="922.53" r="4.2"/><circle cx="835.87" cy="925.2" r="4.2"/><circle cx="862.53" cy="925.2" r="4.2"/><circle cx="868.67" cy="1009.47" r="4.2"/><circle cx="873.2" cy="1056.67" r="4.2"/><circle cx="878.53" cy="1056.67" r="4.2"/><circle cx="883.87" cy="1056.67" r="4.2"/><circle cx="889.2" cy="1056.67" r="4.2"/><circle cx="894.53" cy="1056.67" r="4.2"/><circle cx="899.87" cy="1056.67" r="4.2"/><circle cx="905.2" cy="1056.67" r="4.2"/><circle cx="910.53" cy="1056.67" r="4.2"/><circle cx="915.87" cy="1056.67" r="4.2"/><circle cx="942.53" cy="1056.67" r="4.2"/><circle cx="968.67" cy="1056.67" r="4.2"/><circle cx="995.87" cy="1056.67" r="4.2"/><circle cx="1001.2" cy="1056.67" r="4.2"/><circle cx="1006.53" cy="962" r="4.2"/><circle cx="1010.8" cy="955.33" r="4.2"/><circle cx="1017.2" cy="938" r="4.2"/><circle cx="1023.33" cy="922.53" r="4.2"/><circle cx="1048.67" cy="917.47" r="4.2"/><circle cx="1075.87" cy="925.2" r="4.2"/><circle cx="1101.47" cy="928.13" r="4.2"/><circle cx="1128.67" cy="927.33" r="4.2"/></g>
</g>
<g>
<path d="M1342.5 1057.5 V849.5 H1487.9 V1057.5" fill="none" stroke="#000" stroke-width="2.7" stroke-dasharray="6.6 5" stroke-linejoin="round"/>
<line x1="1267.9" y1="845.68" x2="1267.9" y2="1063" stroke="#000" stroke-width="2.2"/>
<line x1="1262.4" y1="1057.5" x2="1615.66" y2="1057.5" stroke="#000" stroke-width="2.2"/>
<text x="1250.23" y="1062.95" font-size="15.69" font-family="'Liberation Sans',Arial,sans-serif" font-weight="bold" textLength="10.45" lengthAdjust="spacingAndGlyphs">0</text>
<line x1="1262.4" y1="1039.94" x2="1267.9" y2="1039.94" stroke="#000" stroke-width="2.2"/>
<text x="1239.8" y="1045.39" font-size="15.69" font-family="'Liberation Sans',Arial,sans-serif" font-weight="bold" textLength="20.9" lengthAdjust="spacingAndGlyphs">10</text>
<line x1="1262.4" y1="1022.38" x2="1267.9" y2="1022.38" stroke="#000" stroke-width="2.2"/>
<text x="1239.8" y="1027.83" font-size="15.69" font-family="'Liberation Sans',Arial,sans-serif" font-weight="bold" textLength="20.9" lengthAdjust="spacingAndGlyphs">20</text>
<line x1="1262.4" y1="1004.82" x2="1267.9" y2="1004.82" stroke="#000" stroke-width="2.2"/>
<text x="1239.8" y="1010.27" font-size="15.69" font-family="'Liberation Sans',Arial,sans-serif" font-weight="bold" textLength="20.9" lengthAdjust="spacingAndGlyphs">30</text>
<line x1="1262.4" y1="987.26" x2="1267.9" y2="987.26" stroke="#000" stroke-width="2.2"/>
<text x="1239.8" y="992.71" font-size="15.69" font-family="'Liberation Sans',Arial,sans-serif" font-weight="bold" textLength="20.9" lengthAdjust="spacingAndGlyphs">40</text>
<line x1="1262.4" y1="969.7" x2="1267.9" y2="969.7" stroke="#000" stroke-width="2.2"/>
<text x="1239.8" y="975.15" font-size="15.69" font-family="'Liberation Sans',Arial,sans-serif" font-weight="bold" textLength="20.9" lengthAdjust="spacingAndGlyphs">50</text>
<line x1="1262.4" y1="952.14" x2="1267.9" y2="952.14" stroke="#000" stroke-width="2.2"/>
<text x="1239.8" y="957.59" font-size="15.69" font-family="'Liberation Sans',Arial,sans-serif" font-weight="bold" textLength="20.9" lengthAdjust="spacingAndGlyphs">60</text>
<line x1="1262.4" y1="934.58" x2="1267.9" y2="934.58" stroke="#000" stroke-width="2.2"/>
<text x="1239.8" y="940.03" font-size="15.69" font-family="'Liberation Sans',Arial,sans-serif" font-weight="bold" textLength="20.9" lengthAdjust="spacingAndGlyphs">70</text>
<line x1="1262.4" y1="917.02" x2="1267.9" y2="917.02" stroke="#000" stroke-width="2.2"/>
<text x="1239.8" y="922.47" font-size="15.69" font-family="'Liberation Sans',Arial,sans-serif" font-weight="bold" textLength="20.9" lengthAdjust="spacingAndGlyphs">80</text>
<line x1="1262.4" y1="899.46" x2="1267.9" y2="899.46" stroke="#000" stroke-width="2.2"/>
<text x="1239.8" y="904.91" font-size="15.69" font-family="'Liberation Sans',Arial,sans-serif" font-weight="bold" textLength="20.9" lengthAdjust="spacingAndGlyphs">90</text>
<line x1="1262.4" y1="881.9" x2="1267.9" y2="881.9" stroke="#000" stroke-width="2.2"/>
<text x="1229.33" y="887.35" font-size="15.69" font-family="'Liberation Sans',Arial,sans-serif" font-weight="bold" textLength="31.34" lengthAdjust="spacingAndGlyphs">100</text>
<line x1="1262.4" y1="864.34" x2="1267.9" y2="864.34" stroke="#000" stroke-width="2.2"/>
<text x="1230.36" y="869.79" font-size="15.69" font-family="'Liberation Sans',Arial,sans-serif" font-weight="bold" textLength="30.31" lengthAdjust="spacingAndGlyphs">110</text>
<line x1="1262.4" y1="846.78" x2="1267.9" y2="846.78" stroke="#000" stroke-width="2.2"/>
<text x="1229.33" y="852.23" font-size="15.69" font-family="'Liberation Sans',Arial,sans-serif" font-weight="bold" textLength="31.34" lengthAdjust="spacingAndGlyphs">120</text>
<text x="1262.69" y="1082" font-size="15.69" font-family="'Liberation Sans',Arial,sans-serif" font-weight="bold" textLength="10.45" lengthAdjust="spacingAndGlyphs">0</text>
<line x1="1278.55" y1="1057.5" x2="1278.55" y2="1060.5" stroke="#000" stroke-width="2.2"/>
<line x1="1289.2" y1="1057.5" x2="1289.2" y2="1060.5" stroke="#000" stroke-width="2.2"/>
<line x1="1299.85" y1="1057.5" x2="1299.85" y2="1060.5" stroke="#000" stroke-width="2.2"/>
<line x1="1310.5" y1="1057.5" x2="1310.5" y2="1060.5" stroke="#000" stroke-width="2.2"/>
<line x1="1321.15" y1="1057.5" x2="1321.15" y2="1060.5" stroke="#000" stroke-width="2.2"/>
<line x1="1331.8" y1="1057.5" x2="1331.8" y2="1060.5" stroke="#000" stroke-width="2.2"/>
<line x1="1342.45" y1="1057.5" x2="1342.45" y2="1060.5" stroke="#000" stroke-width="2.2"/>
<line x1="1353.1" y1="1057.5" x2="1353.1" y2="1060.5" stroke="#000" stroke-width="2.2"/>
<line x1="1363.75" y1="1057.5" x2="1363.75" y2="1060.5" stroke="#000" stroke-width="2.2"/>
<line x1="1374.4" y1="1057.5" x2="1374.4" y2="1063" stroke="#000" stroke-width="2.2"/>
<text x="1364.02" y="1082" font-size="15.69" font-family="'Liberation Sans',Arial,sans-serif" font-weight="bold" textLength="20.9" lengthAdjust="spacingAndGlyphs">20</text>
<line x1="1385.05" y1="1057.5" x2="1385.05" y2="1060.5" stroke="#000" stroke-width="2.2"/>
<line x1="1395.7" y1="1057.5" x2="1395.7" y2="1060.5" stroke="#000" stroke-width="2.2"/>
<line x1="1406.35" y1="1057.5" x2="1406.35" y2="1060.5" stroke="#000" stroke-width="2.2"/>
<line x1="1417" y1="1057.5" x2="1417" y2="1060.5" stroke="#000" stroke-width="2.2"/>
<line x1="1427.65" y1="1057.5" x2="1427.65" y2="1060.5" stroke="#000" stroke-width="2.2"/>
<line x1="1438.3" y1="1057.5" x2="1438.3" y2="1060.5" stroke="#000" stroke-width="2.2"/>
<line x1="1448.95" y1="1057.5" x2="1448.95" y2="1060.5" stroke="#000" stroke-width="2.2"/>
<line x1="1459.6" y1="1057.5" x2="1459.6" y2="1060.5" stroke="#000" stroke-width="2.2"/>
<line x1="1470.25" y1="1057.5" x2="1470.25" y2="1060.5" stroke="#000" stroke-width="2.2"/>
<line x1="1480.9" y1="1057.5" x2="1480.9" y2="1063" stroke="#000" stroke-width="2.2"/>
<text x="1470.71" y="1082" font-size="15.69" font-family="'Liberation Sans',Arial,sans-serif" font-weight="bold" textLength="20.9" lengthAdjust="spacingAndGlyphs">40</text>
<line x1="1491.55" y1="1057.5" x2="1491.55" y2="1060.5" stroke="#000" stroke-width="2.2"/>
<line x1="1502.2" y1="1057.5" x2="1502.2" y2="1060.5" stroke="#000" stroke-width="2.2"/>
<line x1="1512.85" y1="1057.5" x2="1512.85" y2="1060.5" stroke="#000" stroke-width="2.2"/>
<line x1="1523.5" y1="1057.5" x2="1523.5" y2="1060.5" stroke="#000" stroke-width="2.2"/>
<line x1="1534.15" y1="1057.5" x2="1534.15" y2="1060.5" stroke="#000" stroke-width="2.2"/>
<line x1="1544.8" y1="1057.5" x2="1544.8" y2="1060.5" stroke="#000" stroke-width="2.2"/>
<line x1="1555.45" y1="1057.5" x2="1555.45" y2="1060.5" stroke="#000" stroke-width="2.2"/>
<line x1="1566.1" y1="1057.5" x2="1566.1" y2="1060.5" stroke="#000" stroke-width="2.2"/>
<line x1="1576.75" y1="1057.5" x2="1576.75" y2="1060.5" stroke="#000" stroke-width="2.2"/>
<line x1="1587.4" y1="1057.5" x2="1587.4" y2="1063" stroke="#000" stroke-width="2.2"/>
<text x="1577" y="1082" font-size="15.69" font-family="'Liberation Sans',Arial,sans-serif" font-weight="bold" textLength="20.9" lengthAdjust="spacingAndGlyphs">60</text>
<line x1="1598.05" y1="1057.5" x2="1598.05" y2="1060.5" stroke="#000" stroke-width="2.2"/>
<line x1="1608.7" y1="1057.5" x2="1608.7" y2="1060.5" stroke="#000" stroke-width="2.2"/>
<text x="1220.8" y="1007.84" font-size="18.33" font-family="'Liberation Sans',Arial,sans-serif" font-weight="bold" textLength="112.71" lengthAdjust="spacingAndGlyphs" transform="rotate(-90 1220.8 1007.84)">LVEDP (mmHg)</text>
<text x="1395.73" y="1102" font-size="16.44" font-family="'Liberation Sans',Arial,sans-serif" font-weight="bold" textLength="93.22" lengthAdjust="spacingAndGlyphs">Time (mins)</text>
<text x="1384.81" y="832.7" font-size="16.44" font-family="'Liberation Sans',Arial,sans-serif" fill="#111" textLength="72.13" lengthAdjust="spacingAndGlyphs">Lidocaine</text>
<line x1="1360.54" y1="837.7" x2="1476.26" y2="837.7" stroke="#111" stroke-width="1.4"/>
<polygon points="1354,837.7 1364.9,833.6 1364.9,841.8" fill="#111"/>
<polygon points="1482.8,837.7 1471.9,833.6 1471.9,841.8" fill="#111"/>
<path d="M1267.87 1048.67 L1295.33 1046.8 L1321.2 1049.47 L1347.87 1050 L1353.2 1034.53 L1358.53 1030 L1363.87 1008.67 L1368.13 991.33 L1374 988.67 L1379.33 984.67 L1385.2 985.47 L1390.53 980.67 L1395.87 975.33 L1402 977.47 L1427.87 979.33 L1454 971.87 L1480.67 969.2 L1486.53 971.33 L1491.87 997.47 L1496.67 1031.33 L1502 1033.47 L1507.87 1034 L1534.53 1042.8 L1560.67 1043.87 L1587.33 1045.2 L1614.53 1048.13" fill="none" stroke="#000" stroke-width="1.3" stroke-linejoin="round"/>
<path d="M1347.87 1047.33V1052.13M1343.37 1047.33H1352.37M1343.37 1052.13H1352.37M1353.2 1016.13V1051.33M1348.7 1016.13H1357.7M1348.7 1051.33H1357.7M1358.53 1016.67V1041.47M1354.03 1016.67H1363.03M1354.03 1041.47H1363.03M1363.87 968.67V1046.8M1359.37 968.67H1368.37M1359.37 1046.8H1368.37M1368.13 970V1012.67M1363.63 970H1372.63M1363.63 1012.67H1372.63M1374 964.67V1011.33M1369.5 964.67H1378.5M1369.5 1011.33H1378.5M1379.33 958V1007.33M1374.83 958H1383.83M1374.83 1007.33H1383.83M1385.2 962V1010M1380.7 962H1389.7M1380.7 1010H1389.7M1390.53 942V1020.67M1386.03 942H1395.03M1386.03 1020.67H1395.03M1395.87 955.33V995.33M1391.37 955.33H1400.37M1391.37 995.33H1400.37M1402 953.47V1002.53M1397.5 953.47H1406.5M1397.5 1002.53H1406.5M1427.87 955.33V1004.13M1423.37 955.33H1432.37M1423.37 1004.13H1432.37M1454 948.67V995.33M1449.5 948.67H1458.5M1449.5 995.33H1458.5M1480.67 945.47V994M1476.17 945.47H1485.17M1476.17 994H1485.17M1486.53 946V995.33M1482.03 946H1491.03M1482.03 995.33H1491.03M1491.87 975.87V1018.8M1487.37 975.87H1496.37M1487.37 1018.8H1496.37M1496.67 1015.33V1048.13M1492.17 1015.33H1501.17M1492.17 1048.13H1501.17M1502 1014V1055.33M1497.5 1014H1506.5M1497.5 1055.33H1506.5M1507.87 1013.2V1055.33M1503.37 1013.2H1512.37M1503.37 1055.33H1512.37M1534.53 1027.33V1058M1530.03 1027.33H1539.03M1530.03 1058H1539.03M1560.67 1023.33V1059.33M1556.17 1023.33H1565.17M1556.17 1059.33H1565.17M1587.33 1023.33V1059.33M1582.83 1023.33H1591.83M1582.83 1059.33H1591.83M1614.53 1031.87V1058M1610.03 1031.87H1619.03M1610.03 1058H1619.03" fill="none" stroke="#000" stroke-width="2.3"/>
<g><circle cx="1267.87" cy="1048.67" r="4.4"/><circle cx="1295.33" cy="1046.8" r="4.4"/><circle cx="1321.2" cy="1049.47" r="4.4"/><circle cx="1347.87" cy="1050" r="4.4"/><circle cx="1353.2" cy="1034.53" r="4.4"/><circle cx="1358.53" cy="1030" r="4.4"/><circle cx="1363.87" cy="1008.67" r="4.4"/><circle cx="1368.13" cy="991.33" r="4.4"/><circle cx="1374" cy="988.67" r="4.4"/><circle cx="1379.33" cy="984.67" r="4.4"/><circle cx="1385.2" cy="985.47" r="4.4"/><circle cx="1390.53" cy="980.67" r="4.4"/><circle cx="1395.87" cy="975.33" r="4.4"/><circle cx="1402" cy="977.47" r="4.4"/><circle cx="1427.87" cy="979.33" r="4.4"/><circle cx="1454" cy="971.87" r="4.4"/><circle cx="1480.67" cy="969.2" r="4.4"/><circle cx="1486.53" cy="971.33" r="4.4"/><circle cx="1491.87" cy="997.47" r="4.4"/><circle cx="1496.67" cy="1031.33" r="4.4"/><circle cx="1502" cy="1033.47" r="4.4"/><circle cx="1507.87" cy="1034" r="4.4"/><circle cx="1534.53" cy="1042.8" r="4.4"/><circle cx="1560.67" cy="1043.87" r="4.4"/><circle cx="1587.33" cy="1045.2" r="4.4"/><circle cx="1614.53" cy="1048.13" r="4.4"/></g>
</g>
<g>
<rect x="420.7" y="1243.5" width="133.3" height="219.5" fill="#bbbbbb" stroke="#b3b3b3" stroke-width="1"/>
<line x1="333.3" y1="1252.25" x2="333.3" y2="1469.8" stroke="#2a2a2a" stroke-width="1.8"/>
<line x1="326.5" y1="1463" x2="681.91" y2="1463" stroke="#2a2a2a" stroke-width="1.8"/>
<text x="315.87" y="1468.75" font-size="16.54" font-family="'Liberation Sans',Arial,sans-serif" font-weight="bold" fill="#1a1a1a" textLength="9.64" lengthAdjust="spacingAndGlyphs">0</text>
<line x1="326.5" y1="1421.02" x2="333.3" y2="1421.02" stroke="#2a2a2a" stroke-width="1.7"/>
<text x="306.26" y="1426.77" font-size="16.54" font-family="'Liberation Sans',Arial,sans-serif" font-weight="bold" fill="#1a1a1a" textLength="19.28" lengthAdjust="spacingAndGlyphs">50</text>
<line x1="326.5" y1="1379.04" x2="333.3" y2="1379.04" stroke="#2a2a2a" stroke-width="1.7"/>
<text x="296.59" y="1384.79" font-size="16.54" font-family="'Liberation Sans',Arial,sans-serif" font-weight="bold" fill="#1a1a1a" textLength="28.92" lengthAdjust="spacingAndGlyphs">100</text>
<line x1="326.5" y1="1337.06" x2="333.3" y2="1337.06" stroke="#2a2a2a" stroke-width="1.7"/>
<text x="296.59" y="1342.81" font-size="16.54" font-family="'Liberation Sans',Arial,sans-serif" font-weight="bold" fill="#1a1a1a" textLength="28.92" lengthAdjust="spacingAndGlyphs">150</text>
<line x1="326.5" y1="1295.08" x2="333.3" y2="1295.08" stroke="#2a2a2a" stroke-width="1.7"/>
<text x="296.59" y="1300.83" font-size="16.54" font-family="'Liberation Sans',Arial,sans-serif" font-weight="bold" fill="#1a1a1a" textLength="28.92" lengthAdjust="spacingAndGlyphs">200</text>
<line x1="326.5" y1="1253.1" x2="333.3" y2="1253.1" stroke="#2a2a2a" stroke-width="1.7"/>
<text x="296.59" y="1258.85" font-size="16.54" font-family="'Liberation Sans',Arial,sans-serif" font-weight="bold" fill="#1a1a1a" textLength="28.92" lengthAdjust="spacingAndGlyphs">250</text>
<text x="328.49" y="1484.3" font-size="16.54" font-family="'Liberation Sans',Arial,sans-serif" font-weight="bold" fill="#1a1a1a" textLength="9.64" lengthAdjust="spacingAndGlyphs">0</text>
<line x1="343.97" y1="1463" x2="343.97" y2="1466.7" stroke="#2a2a2a" stroke-width="1.7"/>
<line x1="354.63" y1="1463" x2="354.63" y2="1466.7" stroke="#2a2a2a" stroke-width="1.7"/>
<line x1="365.3" y1="1463" x2="365.3" y2="1466.7" stroke="#2a2a2a" stroke-width="1.7"/>
<line x1="375.96" y1="1463" x2="375.96" y2="1466.7" stroke="#2a2a2a" stroke-width="1.7"/>
<line x1="386.63" y1="1463" x2="386.63" y2="1466.7" stroke="#2a2a2a" stroke-width="1.7"/>
<line x1="397.3" y1="1463" x2="397.3" y2="1466.7" stroke="#2a2a2a" stroke-width="1.7"/>
<line x1="407.96" y1="1463" x2="407.96" y2="1466.7" stroke="#2a2a2a" stroke-width="1.7"/>
<line x1="418.63" y1="1463" x2="418.63" y2="1466.7" stroke="#2a2a2a" stroke-width="1.7"/>
<line x1="429.29" y1="1463" x2="429.29" y2="1466.7" stroke="#2a2a2a" stroke-width="1.7"/>
<line x1="439.96" y1="1463" x2="439.96" y2="1469.8" stroke="#2a2a2a" stroke-width="1.7"/>
<text x="430.38" y="1484.3" font-size="16.54" font-family="'Liberation Sans',Arial,sans-serif" font-weight="bold" fill="#1a1a1a" textLength="19.28" lengthAdjust="spacingAndGlyphs">20</text>
<line x1="450.63" y1="1463" x2="450.63" y2="1466.7" stroke="#2a2a2a" stroke-width="1.7"/>
<line x1="461.29" y1="1463" x2="461.29" y2="1466.7" stroke="#2a2a2a" stroke-width="1.7"/>
<line x1="471.96" y1="1463" x2="471.96" y2="1466.7" stroke="#2a2a2a" stroke-width="1.7"/>
<line x1="482.62" y1="1463" x2="482.62" y2="1466.7" stroke="#2a2a2a" stroke-width="1.7"/>
<line x1="493.29" y1="1463" x2="493.29" y2="1466.7" stroke="#2a2a2a" stroke-width="1.7"/>
<line x1="503.96" y1="1463" x2="503.96" y2="1466.7" stroke="#2a2a2a" stroke-width="1.7"/>
<line x1="514.62" y1="1463" x2="514.62" y2="1466.7" stroke="#2a2a2a" stroke-width="1.7"/>
<line x1="525.29" y1="1463" x2="525.29" y2="1466.7" stroke="#2a2a2a" stroke-width="1.7"/>
<line x1="535.95" y1="1463" x2="535.95" y2="1466.7" stroke="#2a2a2a" stroke-width="1.7"/>
<line x1="546.62" y1="1463" x2="546.62" y2="1469.8" stroke="#2a2a2a" stroke-width="1.7"/>
<text x="537.22" y="1484.3" font-size="16.54" font-family="'Liberation Sans',Arial,sans-serif" font-weight="bold" fill="#1a1a1a" textLength="19.28" lengthAdjust="spacingAndGlyphs">40</text>
<line x1="557.29" y1="1463" x2="557.29" y2="1466.7" stroke="#2a2a2a" stroke-width="1.7"/>
<line x1="567.95" y1="1463" x2="567.95" y2="1466.7" stroke="#2a2a2a" stroke-width="1.7"/>
<line x1="578.62" y1="1463" x2="578.62" y2="1466.7" stroke="#2a2a2a" stroke-width="1.7"/>
<line x1="589.28" y1="1463" x2="589.28" y2="1466.7" stroke="#2a2a2a" stroke-width="1.7"/>
<line x1="599.95" y1="1463" x2="599.95" y2="1466.7" stroke="#2a2a2a" stroke-width="1.7"/>
<line x1="610.62" y1="1463" x2="610.62" y2="1466.7" stroke="#2a2a2a" stroke-width="1.7"/>
<line x1="621.28" y1="1463" x2="621.28" y2="1466.7" stroke="#2a2a2a" stroke-width="1.7"/>
<line x1="631.95" y1="1463" x2="631.95" y2="1466.7" stroke="#2a2a2a" stroke-width="1.7"/>
<line x1="642.61" y1="1463" x2="642.61" y2="1466.7" stroke="#2a2a2a" stroke-width="1.7"/>
<line x1="653.28" y1="1463" x2="653.28" y2="1469.8" stroke="#2a2a2a" stroke-width="1.7"/>
<text x="643.68" y="1484.3" font-size="16.54" font-family="'Liberation Sans',Arial,sans-serif" font-weight="bold" fill="#1a1a1a" textLength="19.28" lengthAdjust="spacingAndGlyphs">60</text>
<line x1="663.95" y1="1463" x2="663.95" y2="1466.7" stroke="#2a2a2a" stroke-width="1.7"/>
<line x1="674.61" y1="1463" x2="674.61" y2="1466.7" stroke="#2a2a2a" stroke-width="1.7"/>
<text x="283.5" y="1460.44" font-size="17.02" font-family="'Liberation Sans',Arial,sans-serif" font-weight="bold" fill="#1a1a1a" textLength="203.52" lengthAdjust="spacingAndGlyphs" transform="rotate(-90 283.5 1460.44)">Perfusion Pressure (mmHg)</text>
<text x="454.81" y="1506.7" font-size="17.31" font-family="'Liberation Sans',Arial,sans-serif" font-weight="bold" fill="#1a1a1a" textLength="104.85" lengthAdjust="spacingAndGlyphs">Time (mins)</text>
<path d="M333.33 1383 L360 1383 L387.47 1383.8 L412 1384.33 L417.33 1384.33 L422.67 1384.33 L427.47 1384.87 L433.33 1385.67 L439.2 1386.47 L444 1385.67 L449.33 1385.67 L454.67 1385.67 L460.53 1385.67 L465.87 1385.13 L471.47 1384.87 L498.67 1382.2 L525.33 1381.13 L552 1379 L557.33 1378.47 L562.67 1377.67 L568 1377.13 L573.33 1376.87 L579.2 1376.33 L606.13 1375.8 L632 1376.87 L659.2 1375.8 L674.67 1377.67" fill="none" stroke="#444" stroke-width="1" stroke-linejoin="round"/>
<path d="M333.33 1374.47V1392.33M328.23 1374.47H338.43M328.23 1392.33H338.43M360 1375.8V1391.8M354.9 1375.8H365.1M354.9 1391.8H365.1M387.47 1377.13V1391.8M382.37 1377.13H392.57M382.37 1391.8H392.57M412 1377.13V1392.33M406.9 1377.13H417.1M406.9 1392.33H417.1M417.33 1377.67V1392.33M412.23 1377.67H422.43M412.23 1392.33H422.43M422.67 1377.67V1392.87M417.57 1377.67H427.77M417.57 1392.87H427.77M427.47 1379V1392.87M422.37 1379H432.57M422.37 1392.87H432.57M433.33 1379V1394.47M428.23 1379H438.43M428.23 1394.47H438.43M439.2 1376.33V1395.8M434.1 1376.33H444.3M434.1 1395.8H444.3M444 1375.8V1396.33M438.9 1375.8H449.1M438.9 1396.33H449.1M449.33 1375.53V1396.33M444.23 1375.53H454.43M444.23 1396.33H454.43M454.67 1375.53V1396.33M449.57 1375.53H459.77M449.57 1396.33H459.77M460.53 1375.53V1396.33M455.43 1375.53H465.63M455.43 1396.33H465.63M465.87 1375V1395.53M460.77 1375H470.97M460.77 1395.53H470.97M471.47 1375V1395M466.37 1375H476.57M466.37 1395H476.57M498.67 1373.67V1391.53M493.57 1373.67H503.77M493.57 1391.53H503.77M525.33 1372.33V1390.47M520.23 1372.33H530.43M520.23 1390.47H530.43M552 1368.87V1389.13M546.9 1368.87H557.1M546.9 1389.13H557.1M557.33 1367.53V1388.87M552.23 1367.53H562.43M552.23 1388.87H562.43M562.67 1366.2V1388.33M557.57 1366.2H567.77M557.57 1388.33H567.77M568 1365.67V1388.33M562.9 1365.67H573.1M562.9 1388.33H573.1M573.33 1365.67V1388.33M568.23 1365.67H578.43M568.23 1388.33H578.43M579.2 1366.47V1387.53M574.1 1366.47H584.3M574.1 1387.53H584.3M606.13 1366.47V1387M601.03 1366.47H611.23M601.03 1387H611.23M632 1366.47V1388.33M626.9 1366.47H637.1M626.9 1388.33H637.1M659.2 1364.87V1388.33M654.1 1364.87H664.3M654.1 1388.33H664.3M674.67 1364.87V1390.47M669.57 1364.87H679.77M669.57 1390.47H679.77" fill="none" stroke="#222" stroke-width="1.5"/>
<g><circle cx="333.33" cy="1383" r="4.1"/><circle cx="360" cy="1383" r="4.1"/><circle cx="387.47" cy="1383.8" r="4.1"/><circle cx="412" cy="1384.33" r="4.1"/><circle cx="417.33" cy="1384.33" r="4.1"/><circle cx="422.67" cy="1384.33" r="4.1"/><circle cx="427.47" cy="1384.87" r="4.1"/><circle cx="433.33" cy="1385.67" r="4.1"/><circle cx="439.2" cy="1386.47" r="4.1"/><circle cx="444" cy="1385.67" r="4.1"/><circle cx="449.33" cy="1385.67" r="4.1"/><circle cx="454.67" cy="1385.67" r="4.1"/><circle cx="460.53" cy="1385.67" r="4.1"/><circle cx="465.87" cy="1385.13" r="4.1"/><circle cx="471.47" cy="1384.87" r="4.1"/><circle cx="498.67" cy="1382.2" r="4.1"/><circle cx="525.33" cy="1381.13" r="4.1"/><circle cx="552" cy="1379" r="4.1"/><circle cx="557.33" cy="1378.47" r="4.1"/><circle cx="562.67" cy="1377.67" r="4.1"/><circle cx="568" cy="1377.13" r="4.1"/><circle cx="573.33" cy="1376.87" r="4.1"/><circle cx="579.2" cy="1376.33" r="4.1"/><circle cx="606.13" cy="1375.8" r="4.1"/><circle cx="632" cy="1376.87" r="4.1"/><circle cx="659.2" cy="1375.8" r="4.1"/><circle cx="674.67" cy="1377.67" r="4.1"/></g>
</g>
<g>
<rect x="877.7" y="1249.6" width="130.2" height="213.1" fill="#bbbbbb" stroke="#b3b3b3" stroke-width="1"/>
<line x1="794.1" y1="1258.15" x2="794.1" y2="1469.5" stroke="#2a2a2a" stroke-width="1.8"/>
<line x1="787.3" y1="1462.7" x2="1130.2" y2="1462.7" stroke="#2a2a2a" stroke-width="1.8"/>
<text x="776.56" y="1467.55" font-size="13.99" font-family="'Liberation Sans',Arial,sans-serif" font-weight="bold" fill="#1a1a1a" textLength="9.01" lengthAdjust="spacingAndGlyphs">0</text>
<line x1="787.3" y1="1411.78" x2="794.1" y2="1411.78" stroke="#2a2a2a" stroke-width="1.7"/>
<text x="767.56" y="1416.63" font-size="13.99" font-family="'Liberation Sans',Arial,sans-serif" font-weight="bold" fill="#1a1a1a" textLength="18.02" lengthAdjust="spacingAndGlyphs">50</text>
<line x1="787.3" y1="1360.85" x2="794.1" y2="1360.85" stroke="#2a2a2a" stroke-width="1.7"/>
<text x="758.53" y="1365.7" font-size="13.99" font-family="'Liberation Sans',Arial,sans-serif" font-weight="bold" fill="#1a1a1a" textLength="27.03" lengthAdjust="spacingAndGlyphs">100</text>
<line x1="787.3" y1="1309.92" x2="794.1" y2="1309.92" stroke="#2a2a2a" stroke-width="1.7"/>
<text x="758.53" y="1314.78" font-size="13.99" font-family="'Liberation Sans',Arial,sans-serif" font-weight="bold" fill="#1a1a1a" textLength="27.03" lengthAdjust="spacingAndGlyphs">150</text>
<line x1="787.3" y1="1259" x2="794.1" y2="1259" stroke="#2a2a2a" stroke-width="1.7"/>
<text x="758.53" y="1263.85" font-size="13.99" font-family="'Liberation Sans',Arial,sans-serif" font-weight="bold" fill="#1a1a1a" textLength="27.03" lengthAdjust="spacingAndGlyphs">200</text>
<text x="789.6" y="1484.5" font-size="13.99" font-family="'Liberation Sans',Arial,sans-serif" font-weight="bold" fill="#1a1a1a" textLength="9.01" lengthAdjust="spacingAndGlyphs">0</text>
<line x1="804.4" y1="1462.7" x2="804.4" y2="1466.4" stroke="#2a2a2a" stroke-width="1.7"/>
<line x1="814.7" y1="1462.7" x2="814.7" y2="1466.4" stroke="#2a2a2a" stroke-width="1.7"/>
<line x1="824.99" y1="1462.7" x2="824.99" y2="1466.4" stroke="#2a2a2a" stroke-width="1.7"/>
<line x1="835.29" y1="1462.7" x2="835.29" y2="1466.4" stroke="#2a2a2a" stroke-width="1.7"/>
<line x1="845.59" y1="1462.7" x2="845.59" y2="1466.4" stroke="#2a2a2a" stroke-width="1.7"/>
<line x1="855.89" y1="1462.7" x2="855.89" y2="1466.4" stroke="#2a2a2a" stroke-width="1.7"/>
<line x1="866.19" y1="1462.7" x2="866.19" y2="1466.4" stroke="#2a2a2a" stroke-width="1.7"/>
<line x1="876.48" y1="1462.7" x2="876.48" y2="1466.4" stroke="#2a2a2a" stroke-width="1.7"/>
<line x1="886.78" y1="1462.7" x2="886.78" y2="1466.4" stroke="#2a2a2a" stroke-width="1.7"/>
<line x1="897.08" y1="1462.7" x2="897.08" y2="1469.5" stroke="#2a2a2a" stroke-width="1.7"/>
<text x="888.13" y="1484.5" font-size="13.99" font-family="'Liberation Sans',Arial,sans-serif" font-weight="bold" fill="#1a1a1a" textLength="18.02" lengthAdjust="spacingAndGlyphs">20</text>
<line x1="907.38" y1="1462.7" x2="907.38" y2="1466.4" stroke="#2a2a2a" stroke-width="1.7"/>
<line x1="917.68" y1="1462.7" x2="917.68" y2="1466.4" stroke="#2a2a2a" stroke-width="1.7"/>
<line x1="927.97" y1="1462.7" x2="927.97" y2="1466.4" stroke="#2a2a2a" stroke-width="1.7"/>
<line x1="938.27" y1="1462.7" x2="938.27" y2="1466.4" stroke="#2a2a2a" stroke-width="1.7"/>
<line x1="948.57" y1="1462.7" x2="948.57" y2="1466.4" stroke="#2a2a2a" stroke-width="1.7"/>
<line x1="958.87" y1="1462.7" x2="958.87" y2="1466.4" stroke="#2a2a2a" stroke-width="1.7"/>
<line x1="969.17" y1="1462.7" x2="969.17" y2="1466.4" stroke="#2a2a2a" stroke-width="1.7"/>
<line x1="979.46" y1="1462.7" x2="979.46" y2="1466.4" stroke="#2a2a2a" stroke-width="1.7"/>
<line x1="989.76" y1="1462.7" x2="989.76" y2="1466.4" stroke="#2a2a2a" stroke-width="1.7"/>
<line x1="1000.06" y1="1462.7" x2="1000.06" y2="1469.5" stroke="#2a2a2a" stroke-width="1.7"/>
<text x="991.27" y="1484.5" font-size="13.99" font-family="'Liberation Sans',Arial,sans-serif" font-weight="bold" fill="#1a1a1a" textLength="18.02" lengthAdjust="spacingAndGlyphs">40</text>
<line x1="1010.36" y1="1462.7" x2="1010.36" y2="1466.4" stroke="#2a2a2a" stroke-width="1.7"/>
<line x1="1020.66" y1="1462.7" x2="1020.66" y2="1466.4" stroke="#2a2a2a" stroke-width="1.7"/>
<line x1="1030.95" y1="1462.7" x2="1030.95" y2="1466.4" stroke="#2a2a2a" stroke-width="1.7"/>
<line x1="1041.25" y1="1462.7" x2="1041.25" y2="1466.4" stroke="#2a2a2a" stroke-width="1.7"/>
<line x1="1051.55" y1="1462.7" x2="1051.55" y2="1466.4" stroke="#2a2a2a" stroke-width="1.7"/>
<line x1="1061.85" y1="1462.7" x2="1061.85" y2="1466.4" stroke="#2a2a2a" stroke-width="1.7"/>
<line x1="1072.15" y1="1462.7" x2="1072.15" y2="1466.4" stroke="#2a2a2a" stroke-width="1.7"/>
<line x1="1082.44" y1="1462.7" x2="1082.44" y2="1466.4" stroke="#2a2a2a" stroke-width="1.7"/>
<line x1="1092.74" y1="1462.7" x2="1092.74" y2="1466.4" stroke="#2a2a2a" stroke-width="1.7"/>
<line x1="1103.04" y1="1462.7" x2="1103.04" y2="1469.5" stroke="#2a2a2a" stroke-width="1.7"/>
<text x="1094.07" y="1484.5" font-size="13.99" font-family="'Liberation Sans',Arial,sans-serif" font-weight="bold" fill="#1a1a1a" textLength="18.02" lengthAdjust="spacingAndGlyphs">60</text>
<line x1="1113.34" y1="1462.7" x2="1113.34" y2="1466.4" stroke="#2a2a2a" stroke-width="1.7"/>
<line x1="1123.64" y1="1462.7" x2="1123.64" y2="1466.4" stroke="#2a2a2a" stroke-width="1.7"/>
<text x="726.1" y="1418.64" font-size="19.78" font-family="'Liberation Sans',Arial,sans-serif" font-weight="bold" fill="#1a1a1a" textLength="112.19" lengthAdjust="spacingAndGlyphs" transform="rotate(-90 726.1 1418.64)">LVDP (mmHg)</text>
<text x="912.52" y="1505" font-size="17.31" font-family="'Liberation Sans',Arial,sans-serif" font-weight="bold" fill="#1a1a1a" textLength="99.8" lengthAdjust="spacingAndGlyphs">Time (mins)</text>
<path d="M794.08 1342.72 L819.44 1344.63 L845.9 1344.9 L870.44 1346.26 L875.35 1345.44 L880.8 1345.44 L886.26 1346.81 L890.89 1362.62 L895.8 1374.62 L901.8 1381.71 L906.44 1388.26 L911.89 1389.9 L917.34 1392.62 L922.25 1393.17 L927.71 1399.99 L953.61 1388.53 L978.7 1413.07 L1004.06 1426.44 L1009.52 1429.16 L1014.97 1421.8 L1020.43 1425.89 L1025.88 1422.62 L1030.52 1399.99 L1056.69 1384.99 L1082.6 1377.62 L1108.24 1372.71 L1123.51 1357.72" fill="none" stroke="#444" stroke-width="1" stroke-linejoin="round"/>
<path d="M794.08 1330.45V1356.35M788.98 1330.45H799.18M788.98 1356.35H799.18M819.44 1331.26V1359.08M814.34 1331.26H824.54M814.34 1359.08H824.54M845.9 1332.63V1357.72M840.8 1332.63H851M840.8 1357.72H851M870.44 1333.72V1359.08M865.34 1333.72H875.54M865.34 1359.08H875.54M875.35 1331.81V1358.53M870.25 1331.81H880.45M870.25 1358.53H880.45M880.8 1332.63V1358.26M875.7 1332.63H885.9M875.7 1358.26H885.9M886.26 1335.35V1358.26M881.16 1335.35H891.36M881.16 1358.26H891.36M890.89 1341.35V1384.99M885.79 1341.35H895.99M885.79 1384.99H895.99M895.8 1347.35V1402.71M890.7 1347.35H900.9M890.7 1402.71H900.9M901.8 1350.9V1414.44M896.7 1350.9H906.9M896.7 1414.44H906.9M906.44 1353.08V1425.35M901.34 1353.08H911.54M901.34 1425.35H911.54M911.89 1353.63V1429.16M906.79 1353.63H916.99M906.79 1429.16H916.99M917.34 1353.63V1435.44M912.24 1353.63H922.44M912.24 1435.44H922.44M922.25 1353.63V1435.44M917.15 1353.63H927.35M917.15 1435.44H927.35M927.71 1357.72V1444.44M922.61 1357.72H932.81M922.61 1444.44H932.81M953.61 1336.45V1440.89M948.51 1336.45H958.71M948.51 1440.89H958.71M978.7 1384.17V1442.8M973.6 1384.17H983.8M973.6 1442.8H983.8M1004.06 1414.44V1440.07M998.96 1414.44H1009.16M998.96 1440.07H1009.16M1009.52 1419.07V1440.89M1004.42 1419.07H1014.62M1004.42 1440.89H1014.62M1014.97 1418.26V1427.26M1009.87 1418.26H1020.07M1009.87 1427.26H1020.07M1020.43 1420.44V1429.98M1015.33 1420.44H1025.53M1015.33 1429.98H1025.53M1025.88 1409.53V1437.35M1020.78 1409.53H1030.98M1020.78 1437.35H1030.98M1030.52 1380.9V1420.44M1025.42 1380.9H1035.62M1025.42 1420.44H1035.62M1056.69 1356.35V1414.44M1051.59 1356.35H1061.79M1051.59 1414.44H1061.79M1082.6 1345.44V1412.8M1077.5 1345.44H1087.7M1077.5 1412.8H1087.7M1108.24 1339.99V1406.8M1103.14 1339.99H1113.34M1103.14 1406.8H1113.34M1123.51 1343.54V1371.9M1118.41 1343.54H1128.61M1118.41 1371.9H1128.61" fill="none" stroke="#222" stroke-width="1.5"/>
<g><circle cx="794.08" cy="1342.72" r="4.1"/><circle cx="819.44" cy="1344.63" r="4.1"/><circle cx="845.9" cy="1344.9" r="4.1"/><circle cx="870.44" cy="1346.26" r="4.1"/><circle cx="875.35" cy="1345.44" r="4.1"/><circle cx="880.8" cy="1345.44" r="4.1"/><circle cx="886.26" cy="1346.81" r="4.1"/><circle cx="890.89" cy="1362.62" r="4.1"/><circle cx="895.8" cy="1374.62" r="4.1"/><circle cx="901.8" cy="1381.71" r="4.1"/><circle cx="906.44" cy="1388.26" r="4.1"/><circle cx="911.89" cy="1389.9" r="4.1"/><circle cx="917.34" cy="1392.62" r="4.1"/><circle cx="922.25" cy="1393.17" r="4.1"/><circle cx="927.71" cy="1399.99" r="4.1"/><circle cx="953.61" cy="1388.53" r="4.1"/><circle cx="978.7" cy="1413.07" r="4.1"/><circle cx="1004.06" cy="1426.44" r="4.1"/><circle cx="1009.52" cy="1429.16" r="4.1"/><circle cx="1014.97" cy="1421.8" r="4.1"/><circle cx="1020.43" cy="1425.89" r="4.1"/><circle cx="1025.88" cy="1422.62" r="4.1"/><circle cx="1030.52" cy="1399.99" r="4.1"/><circle cx="1056.69" cy="1384.99" r="4.1"/><circle cx="1082.6" cy="1377.62" r="4.1"/><circle cx="1108.24" cy="1372.71" r="4.1"/><circle cx="1123.51" cy="1357.72" r="4.1"/></g>
</g>
<g>
<rect x="1377" y="1247" width="131.5" height="215.2" fill="#bbbbbb" stroke="#b3b3b3" stroke-width="1"/>
<line x1="1293.2" y1="1255.07" x2="1293.2" y2="1469" stroke="#2a2a2a" stroke-width="1.8"/>
<line x1="1286.4" y1="1462.2" x2="1631.84" y2="1462.2" stroke="#2a2a2a" stroke-width="1.8"/>
<text x="1276.54" y="1467" font-size="13.85" font-family="'Liberation Sans',Arial,sans-serif" font-weight="bold" fill="#1a1a1a" textLength="8.92" lengthAdjust="spacingAndGlyphs">0</text>
<line x1="1286.4" y1="1445.01" x2="1293.2" y2="1445.01" stroke="#2a2a2a" stroke-width="1.7"/>
<text x="1267.64" y="1449.81" font-size="13.85" font-family="'Liberation Sans',Arial,sans-serif" font-weight="bold" fill="#1a1a1a" textLength="17.84" lengthAdjust="spacingAndGlyphs">10</text>
<line x1="1286.4" y1="1427.82" x2="1293.2" y2="1427.82" stroke="#2a2a2a" stroke-width="1.7"/>
<text x="1267.64" y="1432.62" font-size="13.85" font-family="'Liberation Sans',Arial,sans-serif" font-weight="bold" fill="#1a1a1a" textLength="17.84" lengthAdjust="spacingAndGlyphs">20</text>
<line x1="1286.4" y1="1410.63" x2="1293.2" y2="1410.63" stroke="#2a2a2a" stroke-width="1.7"/>
<text x="1267.64" y="1415.43" font-size="13.85" font-family="'Liberation Sans',Arial,sans-serif" font-weight="bold" fill="#1a1a1a" textLength="17.84" lengthAdjust="spacingAndGlyphs">30</text>
<line x1="1286.4" y1="1393.44" x2="1293.2" y2="1393.44" stroke="#2a2a2a" stroke-width="1.7"/>
<text x="1267.64" y="1398.24" font-size="13.85" font-family="'Liberation Sans',Arial,sans-serif" font-weight="bold" fill="#1a1a1a" textLength="17.84" lengthAdjust="spacingAndGlyphs">40</text>
<line x1="1286.4" y1="1376.25" x2="1293.2" y2="1376.25" stroke="#2a2a2a" stroke-width="1.7"/>
<text x="1267.64" y="1381.05" font-size="13.85" font-family="'Liberation Sans',Arial,sans-serif" font-weight="bold" fill="#1a1a1a" textLength="17.84" lengthAdjust="spacingAndGlyphs">50</text>
<line x1="1286.4" y1="1359.06" x2="1293.2" y2="1359.06" stroke="#2a2a2a" stroke-width="1.7"/>
<text x="1267.64" y="1363.86" font-size="13.85" font-family="'Liberation Sans',Arial,sans-serif" font-weight="bold" fill="#1a1a1a" textLength="17.84" lengthAdjust="spacingAndGlyphs">60</text>
<line x1="1286.4" y1="1341.87" x2="1293.2" y2="1341.87" stroke="#2a2a2a" stroke-width="1.7"/>
<text x="1267.64" y="1346.67" font-size="13.85" font-family="'Liberation Sans',Arial,sans-serif" font-weight="bold" fill="#1a1a1a" textLength="17.84" lengthAdjust="spacingAndGlyphs">70</text>
<line x1="1286.4" y1="1324.68" x2="1293.2" y2="1324.68" stroke="#2a2a2a" stroke-width="1.7"/>
<text x="1267.64" y="1329.48" font-size="13.85" font-family="'Liberation Sans',Arial,sans-serif" font-weight="bold" fill="#1a1a1a" textLength="17.84" lengthAdjust="spacingAndGlyphs">80</text>
<line x1="1286.4" y1="1307.49" x2="1293.2" y2="1307.49" stroke="#2a2a2a" stroke-width="1.7"/>
<text x="1267.64" y="1312.29" font-size="13.85" font-family="'Liberation Sans',Arial,sans-serif" font-weight="bold" fill="#1a1a1a" textLength="17.84" lengthAdjust="spacingAndGlyphs">90</text>
<line x1="1286.4" y1="1290.3" x2="1293.2" y2="1290.3" stroke="#2a2a2a" stroke-width="1.7"/>
<text x="1258.7" y="1295.1" font-size="13.85" font-family="'Liberation Sans',Arial,sans-serif" font-weight="bold" fill="#1a1a1a" textLength="26.76" lengthAdjust="spacingAndGlyphs">100</text>
<line x1="1286.4" y1="1273.11" x2="1293.2" y2="1273.11" stroke="#2a2a2a" stroke-width="1.7"/>
<text x="1259.58" y="1277.91" font-size="13.85" font-family="'Liberation Sans',Arial,sans-serif" font-weight="bold" fill="#1a1a1a" textLength="25.88" lengthAdjust="spacingAndGlyphs">110</text>
<line x1="1286.4" y1="1255.92" x2="1293.2" y2="1255.92" stroke="#2a2a2a" stroke-width="1.7"/>
<text x="1258.7" y="1260.72" font-size="13.85" font-family="'Liberation Sans',Arial,sans-serif" font-weight="bold" fill="#1a1a1a" textLength="26.76" lengthAdjust="spacingAndGlyphs">120</text>
<text x="1288.75" y="1483.7" font-size="13.85" font-family="'Liberation Sans',Arial,sans-serif" font-weight="bold" fill="#1a1a1a" textLength="8.92" lengthAdjust="spacingAndGlyphs">0</text>
<line x1="1303.56" y1="1462.2" x2="1303.56" y2="1465.9" stroke="#2a2a2a" stroke-width="1.7"/>
<line x1="1313.92" y1="1462.2" x2="1313.92" y2="1465.9" stroke="#2a2a2a" stroke-width="1.7"/>
<line x1="1324.28" y1="1462.2" x2="1324.28" y2="1465.9" stroke="#2a2a2a" stroke-width="1.7"/>
<line x1="1334.64" y1="1462.2" x2="1334.64" y2="1465.9" stroke="#2a2a2a" stroke-width="1.7"/>
<line x1="1345" y1="1462.2" x2="1345" y2="1465.9" stroke="#2a2a2a" stroke-width="1.7"/>
<line x1="1355.36" y1="1462.2" x2="1355.36" y2="1465.9" stroke="#2a2a2a" stroke-width="1.7"/>
<line x1="1365.72" y1="1462.2" x2="1365.72" y2="1465.9" stroke="#2a2a2a" stroke-width="1.7"/>
<line x1="1376.08" y1="1462.2" x2="1376.08" y2="1465.9" stroke="#2a2a2a" stroke-width="1.7"/>
<line x1="1386.44" y1="1462.2" x2="1386.44" y2="1465.9" stroke="#2a2a2a" stroke-width="1.7"/>
<line x1="1396.8" y1="1462.2" x2="1396.8" y2="1469" stroke="#2a2a2a" stroke-width="1.7"/>
<text x="1387.94" y="1483.7" font-size="13.85" font-family="'Liberation Sans',Arial,sans-serif" font-weight="bold" fill="#1a1a1a" textLength="17.84" lengthAdjust="spacingAndGlyphs">20</text>
<line x1="1407.16" y1="1462.2" x2="1407.16" y2="1465.9" stroke="#2a2a2a" stroke-width="1.7"/>
<line x1="1417.52" y1="1462.2" x2="1417.52" y2="1465.9" stroke="#2a2a2a" stroke-width="1.7"/>
<line x1="1427.88" y1="1462.2" x2="1427.88" y2="1465.9" stroke="#2a2a2a" stroke-width="1.7"/>
<line x1="1438.24" y1="1462.2" x2="1438.24" y2="1465.9" stroke="#2a2a2a" stroke-width="1.7"/>
<line x1="1448.6" y1="1462.2" x2="1448.6" y2="1465.9" stroke="#2a2a2a" stroke-width="1.7"/>
<line x1="1458.96" y1="1462.2" x2="1458.96" y2="1465.9" stroke="#2a2a2a" stroke-width="1.7"/>
<line x1="1469.32" y1="1462.2" x2="1469.32" y2="1465.9" stroke="#2a2a2a" stroke-width="1.7"/>
<line x1="1479.68" y1="1462.2" x2="1479.68" y2="1465.9" stroke="#2a2a2a" stroke-width="1.7"/>
<line x1="1490.04" y1="1462.2" x2="1490.04" y2="1465.9" stroke="#2a2a2a" stroke-width="1.7"/>
<line x1="1500.4" y1="1462.2" x2="1500.4" y2="1469" stroke="#2a2a2a" stroke-width="1.7"/>
<text x="1491.7" y="1483.7" font-size="13.85" font-family="'Liberation Sans',Arial,sans-serif" font-weight="bold" fill="#1a1a1a" textLength="17.84" lengthAdjust="spacingAndGlyphs">40</text>
<line x1="1510.76" y1="1462.2" x2="1510.76" y2="1465.9" stroke="#2a2a2a" stroke-width="1.7"/>
<line x1="1521.12" y1="1462.2" x2="1521.12" y2="1465.9" stroke="#2a2a2a" stroke-width="1.7"/>
<line x1="1531.48" y1="1462.2" x2="1531.48" y2="1465.9" stroke="#2a2a2a" stroke-width="1.7"/>
<line x1="1541.84" y1="1462.2" x2="1541.84" y2="1465.9" stroke="#2a2a2a" stroke-width="1.7"/>
<line x1="1552.2" y1="1462.2" x2="1552.2" y2="1465.9" stroke="#2a2a2a" stroke-width="1.7"/>
<line x1="1562.56" y1="1462.2" x2="1562.56" y2="1465.9" stroke="#2a2a2a" stroke-width="1.7"/>
<line x1="1572.92" y1="1462.2" x2="1572.92" y2="1465.9" stroke="#2a2a2a" stroke-width="1.7"/>
<line x1="1583.28" y1="1462.2" x2="1583.28" y2="1465.9" stroke="#2a2a2a" stroke-width="1.7"/>
<line x1="1593.64" y1="1462.2" x2="1593.64" y2="1465.9" stroke="#2a2a2a" stroke-width="1.7"/>
<line x1="1604" y1="1462.2" x2="1604" y2="1469" stroke="#2a2a2a" stroke-width="1.7"/>
<text x="1595.12" y="1483.7" font-size="13.85" font-family="'Liberation Sans',Arial,sans-serif" font-weight="bold" fill="#1a1a1a" textLength="17.84" lengthAdjust="spacingAndGlyphs">60</text>
<line x1="1614.36" y1="1462.2" x2="1614.36" y2="1465.9" stroke="#2a2a2a" stroke-width="1.7"/>
<line x1="1624.72" y1="1462.2" x2="1624.72" y2="1465.9" stroke="#2a2a2a" stroke-width="1.7"/>
<text x="1224.8" y="1421.84" font-size="19.78" font-family="'Liberation Sans',Arial,sans-serif" font-weight="bold" fill="#1a1a1a" textLength="123.58" lengthAdjust="spacingAndGlyphs" transform="rotate(-90 1224.8 1421.84)">LVEDP (mmHg)</text>
<text x="1411.42" y="1504" font-size="17.31" font-family="'Liberation Sans',Arial,sans-serif" font-weight="bold" fill="#1a1a1a" textLength="102.32" lengthAdjust="spacingAndGlyphs">Time (mins)</text>
<path d="M1293.15 1446.04 L1318.24 1446.88 L1344.73 1447.43 L1370.65 1449.11 L1375.39 1449.11 L1380.41 1449.11 L1385.71 1449.11 L1390.17 1448.27 L1395.74 1444.65 L1400.48 1441.3 L1406.06 1437.96 L1411.63 1435.17 L1417.21 1432.38 L1422.79 1429.59 L1428.36 1426.8 L1454.29 1417.05 L1479.94 1411.47 L1504.47 1400.88 L1510.04 1397.53 L1515.62 1395.86 L1521.2 1394.74 L1526.77 1396.14 L1531.51 1412.03 L1558 1423.18 L1583.09 1427.36 L1609.57 1429.31 L1624.9 1441.86" fill="none" stroke="#444" stroke-width="1" stroke-linejoin="round"/>
<path d="M1293.15 1439.07V1453.85M1288.05 1439.07H1298.25M1288.05 1453.85H1298.25M1318.24 1439.91V1453.85M1313.14 1439.91H1323.34M1313.14 1453.85H1323.34M1344.73 1442.69V1453.85M1339.63 1442.69H1349.83M1339.63 1453.85H1349.83M1370.65 1443.53V1455.24M1365.55 1443.53H1375.75M1365.55 1455.24H1375.75M1375.39 1444.09V1455.24M1370.29 1444.09H1380.49M1370.29 1455.24H1380.49M1380.41 1444.65V1455.24M1375.31 1444.65H1385.51M1375.31 1455.24H1385.51M1385.71 1444.65V1454.68M1380.61 1444.65H1390.81M1380.61 1454.68H1390.81M1390.17 1442.69V1453.85M1385.07 1442.69H1395.27M1385.07 1453.85H1395.27M1395.74 1439.91V1449.66M1390.64 1439.91H1400.84M1390.64 1449.66H1400.84M1400.48 1435.72V1446.88M1395.38 1435.72H1405.58M1395.38 1446.88H1405.58M1406.06 1431.54V1444.09M1400.96 1431.54H1411.16M1400.96 1444.09H1411.16M1411.63 1427.36V1442.69M1406.53 1427.36H1416.73M1406.53 1442.69H1416.73M1417.21 1424.57V1440.46M1412.11 1424.57H1422.31M1412.11 1440.46H1422.31M1422.79 1420.39V1438.51M1417.69 1420.39H1427.89M1417.69 1438.51H1427.89M1428.36 1413.42V1441.3M1423.26 1413.42H1433.46M1423.26 1441.3H1433.46M1454.29 1396.7V1438.51M1449.19 1396.7H1459.39M1449.19 1438.51H1459.39M1479.94 1387.77V1437.12M1474.84 1387.77H1485.04M1474.84 1437.12H1485.04M1504.47 1379.97V1424.02M1499.37 1379.97H1509.57M1499.37 1424.02H1509.57M1510.04 1376.62V1419.56M1504.94 1376.62H1515.14M1504.94 1419.56H1515.14M1515.62 1376.62V1416.21M1510.52 1376.62H1520.72M1510.52 1416.21H1520.72M1521.2 1375.23V1414.82M1516.1 1375.23H1526.3M1516.1 1414.82H1526.3M1526.77 1375.79V1416.77M1521.67 1375.79H1531.87M1521.67 1416.77H1531.87M1531.51 1396.14V1429.59M1526.41 1396.14H1536.61M1526.41 1429.59H1536.61M1558 1404.5V1442.14M1552.9 1404.5H1563.1M1552.9 1442.14H1563.1M1583.09 1400.04V1456.63M1577.99 1400.04H1588.19M1577.99 1456.63H1588.19M1609.57 1400.04V1460.26M1604.47 1400.04H1614.67M1604.47 1460.26H1614.67M1624.9 1427.36V1456.63M1619.8 1427.36H1630M1619.8 1456.63H1630" fill="none" stroke="#222" stroke-width="1.5"/>
<g><circle cx="1293.15" cy="1446.04" r="4.1"/><circle cx="1318.24" cy="1446.88" r="4.1"/><circle cx="1344.73" cy="1447.43" r="4.1"/><circle cx="1370.65" cy="1449.11" r="4.1"/><circle cx="1375.39" cy="1449.11" r="4.1"/><circle cx="1380.41" cy="1449.11" r="4.1"/><circle cx="1385.71" cy="1449.11" r="4.1"/><circle cx="1390.17" cy="1448.27" r="4.1"/><circle cx="1395.74" cy="1444.65" r="4.1"/><circle cx="1400.48" cy="1441.3" r="4.1"/><circle cx="1406.06" cy="1437.96" r="4.1"/><circle cx="1411.63" cy="1435.17" r="4.1"/><circle cx="1417.21" cy="1432.38" r="4.1"/><circle cx="1422.79" cy="1429.59" r="4.1"/><circle cx="1428.36" cy="1426.8" r="4.1"/><circle cx="1454.29" cy="1417.05" r="4.1"/><circle cx="1479.94" cy="1411.47" r="4.1"/><circle cx="1504.47" cy="1400.88" r="4.1"/><circle cx="1510.04" cy="1397.53" r="4.1"/><circle cx="1515.62" cy="1395.86" r="4.1"/><circle cx="1521.2" cy="1394.74" r="4.1"/><circle cx="1526.77" cy="1396.14" r="4.1"/><circle cx="1531.51" cy="1412.03" r="4.1"/><circle cx="1558" cy="1423.18" r="4.1"/><circle cx="1583.09" cy="1427.36" r="4.1"/><circle cx="1609.57" cy="1429.31" r="4.1"/><circle cx="1624.9" cy="1441.86" r="4.1"/></g>
</g>
<g>
<rect x="434.8" y="1597.5" width="137.6" height="223.8" fill="#bbbbbb" stroke="#b3b3b3" stroke-width="1"/>
<line x1="434.3" y1="1600" x2="434.3" y2="1821.3" stroke="#000" stroke-width="2.2" stroke-dasharray="5 2.8"/>
<line x1="463.3" y1="1600" x2="463.3" y2="1821.3" stroke="#000" stroke-width="2.2" stroke-dasharray="5 2.8"/>
<line x1="572.7" y1="1600" x2="572.7" y2="1821.3" stroke="#000" stroke-width="2.2" stroke-dasharray="5 2.8"/>
<line x1="344.7" y1="1603.12" x2="344.7" y2="1828.1" stroke="#2a2a2a" stroke-width="1.8"/>
<line x1="337.9" y1="1821.3" x2="702.71" y2="1821.3" stroke="#2a2a2a" stroke-width="1.8"/>
<text x="327.05" y="1827.2" font-size="16.96" font-family="'Liberation Sans',Arial,sans-serif" font-weight="bold" fill="#1a1a1a" textLength="9.78" lengthAdjust="spacingAndGlyphs">0</text>
<line x1="337.9" y1="1777.84" x2="344.7" y2="1777.84" stroke="#2a2a2a" stroke-width="1.7"/>
<text x="317.29" y="1783.74" font-size="16.96" font-family="'Liberation Sans',Arial,sans-serif" font-weight="bold" fill="#1a1a1a" textLength="19.56" lengthAdjust="spacingAndGlyphs">50</text>
<line x1="337.9" y1="1734.37" x2="344.7" y2="1734.37" stroke="#2a2a2a" stroke-width="1.7"/>
<text x="307.48" y="1740.27" font-size="16.96" font-family="'Liberation Sans',Arial,sans-serif" font-weight="bold" fill="#1a1a1a" textLength="29.34" lengthAdjust="spacingAndGlyphs">100</text>
<line x1="337.9" y1="1690.9" x2="344.7" y2="1690.9" stroke="#2a2a2a" stroke-width="1.7"/>
<text x="307.48" y="1696.81" font-size="16.96" font-family="'Liberation Sans',Arial,sans-serif" font-weight="bold" fill="#1a1a1a" textLength="29.34" lengthAdjust="spacingAndGlyphs">150</text>
<line x1="337.9" y1="1647.44" x2="344.7" y2="1647.44" stroke="#2a2a2a" stroke-width="1.7"/>
<text x="307.48" y="1653.34" font-size="16.96" font-family="'Liberation Sans',Arial,sans-serif" font-weight="bold" fill="#1a1a1a" textLength="29.34" lengthAdjust="spacingAndGlyphs">200</text>
<line x1="337.9" y1="1603.97" x2="344.7" y2="1603.97" stroke="#2a2a2a" stroke-width="1.7"/>
<text x="307.48" y="1609.88" font-size="16.96" font-family="'Liberation Sans',Arial,sans-serif" font-weight="bold" fill="#1a1a1a" textLength="29.34" lengthAdjust="spacingAndGlyphs">250</text>
<text x="339.82" y="1844" font-size="16.96" font-family="'Liberation Sans',Arial,sans-serif" font-weight="bold" fill="#1a1a1a" textLength="9.78" lengthAdjust="spacingAndGlyphs">0</text>
<line x1="355.72" y1="1821.3" x2="355.72" y2="1825" stroke="#2a2a2a" stroke-width="1.7"/>
<line x1="366.74" y1="1821.3" x2="366.74" y2="1825" stroke="#2a2a2a" stroke-width="1.7"/>
<line x1="377.77" y1="1821.3" x2="377.77" y2="1825" stroke="#2a2a2a" stroke-width="1.7"/>
<line x1="388.79" y1="1821.3" x2="388.79" y2="1825" stroke="#2a2a2a" stroke-width="1.7"/>
<line x1="399.81" y1="1821.3" x2="399.81" y2="1825" stroke="#2a2a2a" stroke-width="1.7"/>
<line x1="410.83" y1="1821.3" x2="410.83" y2="1825" stroke="#2a2a2a" stroke-width="1.7"/>
<line x1="421.85" y1="1821.3" x2="421.85" y2="1825" stroke="#2a2a2a" stroke-width="1.7"/>
<line x1="432.88" y1="1821.3" x2="432.88" y2="1825" stroke="#2a2a2a" stroke-width="1.7"/>
<line x1="443.9" y1="1821.3" x2="443.9" y2="1825" stroke="#2a2a2a" stroke-width="1.7"/>
<line x1="454.92" y1="1821.3" x2="454.92" y2="1828.1" stroke="#2a2a2a" stroke-width="1.7"/>
<text x="445.21" y="1844" font-size="16.96" font-family="'Liberation Sans',Arial,sans-serif" font-weight="bold" fill="#1a1a1a" textLength="19.56" lengthAdjust="spacingAndGlyphs">20</text>
<line x1="465.94" y1="1821.3" x2="465.94" y2="1825" stroke="#2a2a2a" stroke-width="1.7"/>
<line x1="476.96" y1="1821.3" x2="476.96" y2="1825" stroke="#2a2a2a" stroke-width="1.7"/>
<line x1="487.99" y1="1821.3" x2="487.99" y2="1825" stroke="#2a2a2a" stroke-width="1.7"/>
<line x1="499.01" y1="1821.3" x2="499.01" y2="1825" stroke="#2a2a2a" stroke-width="1.7"/>
<line x1="510.03" y1="1821.3" x2="510.03" y2="1825" stroke="#2a2a2a" stroke-width="1.7"/>
<line x1="521.05" y1="1821.3" x2="521.05" y2="1825" stroke="#2a2a2a" stroke-width="1.7"/>
<line x1="532.07" y1="1821.3" x2="532.07" y2="1825" stroke="#2a2a2a" stroke-width="1.7"/>
<line x1="543.1" y1="1821.3" x2="543.1" y2="1825" stroke="#2a2a2a" stroke-width="1.7"/>
<line x1="554.12" y1="1821.3" x2="554.12" y2="1825" stroke="#2a2a2a" stroke-width="1.7"/>
<line x1="565.14" y1="1821.3" x2="565.14" y2="1828.1" stroke="#2a2a2a" stroke-width="1.7"/>
<text x="555.6" y="1844" font-size="16.96" font-family="'Liberation Sans',Arial,sans-serif" font-weight="bold" fill="#1a1a1a" textLength="19.56" lengthAdjust="spacingAndGlyphs">40</text>
<line x1="576.16" y1="1821.3" x2="576.16" y2="1825" stroke="#2a2a2a" stroke-width="1.7"/>
<line x1="587.18" y1="1821.3" x2="587.18" y2="1825" stroke="#2a2a2a" stroke-width="1.7"/>
<line x1="598.21" y1="1821.3" x2="598.21" y2="1825" stroke="#2a2a2a" stroke-width="1.7"/>
<line x1="609.23" y1="1821.3" x2="609.23" y2="1825" stroke="#2a2a2a" stroke-width="1.7"/>
<line x1="620.25" y1="1821.3" x2="620.25" y2="1825" stroke="#2a2a2a" stroke-width="1.7"/>
<line x1="631.27" y1="1821.3" x2="631.27" y2="1825" stroke="#2a2a2a" stroke-width="1.7"/>
<line x1="642.29" y1="1821.3" x2="642.29" y2="1825" stroke="#2a2a2a" stroke-width="1.7"/>
<line x1="653.32" y1="1821.3" x2="653.32" y2="1825" stroke="#2a2a2a" stroke-width="1.7"/>
<line x1="664.34" y1="1821.3" x2="664.34" y2="1825" stroke="#2a2a2a" stroke-width="1.7"/>
<line x1="675.36" y1="1821.3" x2="675.36" y2="1828.1" stroke="#2a2a2a" stroke-width="1.7"/>
<text x="665.62" y="1844" font-size="16.96" font-family="'Liberation Sans',Arial,sans-serif" font-weight="bold" fill="#1a1a1a" textLength="19.56" lengthAdjust="spacingAndGlyphs">60</text>
<line x1="686.38" y1="1821.3" x2="686.38" y2="1825" stroke="#2a2a2a" stroke-width="1.7"/>
<line x1="697.4" y1="1821.3" x2="697.4" y2="1825" stroke="#2a2a2a" stroke-width="1.7"/>
<text x="293.7" y="1817.56" font-size="18.33" font-family="'Liberation Sans',Arial,sans-serif" font-weight="bold" fill="#1a1a1a" textLength="208.47" lengthAdjust="spacingAndGlyphs" transform="rotate(-90 293.7 1817.56)">Perfusion Pressure (mmHg)</text>
<text x="470.31" y="1866.7" font-size="18.33" font-family="'Liberation Sans',Arial,sans-serif" font-weight="bold" fill="#1a1a1a" textLength="107.68" lengthAdjust="spacingAndGlyphs">Time (mins)</text>
<g transform="translate(420.73 1559.4) scale(1.1617 1)" fill="#222" font-family="'Liberation Sans',Arial,sans-serif">
<text font-size="17.45">NH<tspan font-size="10.82" dy="2.79">4</tspan><tspan font-size="17.45" dy="-2.79">Cl</tspan></text>
</g>
<line x1="439.52" y1="1566.6" x2="458.48" y2="1566.6" stroke="#222" stroke-width="1.3"/>
<polygon points="434.6,1566.6 442.8,1563.2 442.8,1570" fill="#222"/>
<polygon points="463.4,1566.6 455.2,1563.2 455.2,1570" fill="#222"/>
<text x="473.06" y="1591.3" font-size="18.91" font-family="'Liberation Sans',Arial,sans-serif" fill="#222" textLength="92.68" lengthAdjust="spacingAndGlyphs">Zoniporide</text>
<line x1="440.38" y1="1595.6" x2="567.52" y2="1595.6" stroke="#222" stroke-width="1.6"/>
<polygon points="435.1,1595.6 443.9,1592.3 443.9,1598.9" fill="#222"/>
<polygon points="572.8,1595.6 564,1592.3 564,1598.9" fill="#222"/>
<path d="M344.67 1717.33 L372.67 1711.47 L400.13 1717.87 L427.33 1720.8 L432.67 1720.8 L438 1718.13 L443.33 1725.33 L448.13 1725.33 L453.47 1729.33 L458.8 1729.33 L465.47 1734.67 L471.33 1721.33 L476.67 1716.8 L482 1709.33 L488.13 1702.13 L515.33 1678.13 L542.53 1664.8 L570 1656.8 L575.33 1655.2 L580.67 1656.8 L586 1657.87 L592.67 1678.13 L598.53 1692 L626 1690.67 L653.47 1689.87 L681.2 1689.33 L697.2 1688.53" fill="none" stroke="#444" stroke-width="1" stroke-linejoin="round"/>
<path d="M344.67 1702.67V1732M339.57 1702.67H349.77M339.57 1732H349.77M372.67 1684V1739.47M367.57 1684H377.77M367.57 1739.47H377.77M400.13 1700.53V1737.33M395.03 1700.53H405.23M395.03 1737.33H405.23M427.33 1707.47V1737.33M422.23 1707.47H432.43M422.23 1737.33H432.43M432.67 1706.67V1736.8M427.57 1706.67H437.77M427.57 1736.8H437.77M438 1705.33V1732M432.9 1705.33H443.1M432.9 1732H443.1M443.33 1709.33V1741.33M438.23 1709.33H448.43M438.23 1741.33H448.43M448.13 1709.33V1742.13M443.03 1709.33H453.23M443.03 1742.13H453.23M453.47 1724V1737.33M448.37 1724H458.57M448.37 1737.33H458.57M458.8 1723.47V1736.8M453.7 1723.47H463.9M453.7 1736.8H463.9M465.47 1724V1746.67M460.37 1724H470.57M460.37 1746.67H470.57M471.33 1712V1732M466.23 1712H476.43M466.23 1732H476.43M476.67 1704V1729.33M471.57 1704H481.77M471.57 1729.33H481.77M482 1689.33V1728M476.9 1689.33H487.1M476.9 1728H487.1M488.13 1676.53V1728.8M483.03 1676.53H493.23M483.03 1728.8H493.23M515.33 1642.13V1715.47M510.23 1642.13H520.43M510.23 1715.47H520.43M542.53 1625.87V1704M537.43 1625.87H547.63M537.43 1704H547.63M570 1619.47V1694.67M564.9 1619.47H575.1M564.9 1694.67H575.1M575.33 1618.67V1694.13M570.23 1618.67H580.43M570.23 1694.13H580.43M580.67 1622.13V1694.67M575.57 1622.13H585.77M575.57 1694.67H585.77M586 1616V1703.2M580.9 1616H591.1M580.9 1703.2H591.1M592.67 1648.8V1706.67M587.57 1648.8H597.77M587.57 1706.67H597.77M598.53 1663.47V1721.87M593.43 1663.47H603.63M593.43 1721.87H603.63M626 1667.47V1715.47M620.9 1667.47H631.1M620.9 1715.47H631.1M653.47 1668.8V1711.47M648.37 1668.8H658.57M648.37 1711.47H658.57M681.2 1668.8V1711.47M676.1 1668.8H686.3M676.1 1711.47H686.3M697.2 1666.13V1711.47M692.1 1666.13H702.3M692.1 1711.47H702.3" fill="none" stroke="#222" stroke-width="1.5"/>
<g><circle cx="344.67" cy="1717.33" r="4.1"/><circle cx="372.67" cy="1711.47" r="4.1"/><circle cx="400.13" cy="1717.87" r="4.1"/><circle cx="427.33" cy="1720.8" r="4.1"/><circle cx="432.67" cy="1720.8" r="4.1"/><circle cx="438" cy="1718.13" r="4.1"/><circle cx="443.33" cy="1725.33" r="4.1"/><circle cx="448.13" cy="1725.33" r="4.1"/><circle cx="453.47" cy="1729.33" r="4.1"/><circle cx="458.8" cy="1729.33" r="4.1"/><circle cx="465.47" cy="1734.67" r="4.1"/><circle cx="471.33" cy="1721.33" r="4.1"/><circle cx="476.67" cy="1716.8" r="4.1"/><circle cx="482" cy="1709.33" r="4.1"/><circle cx="488.13" cy="1702.13" r="4.1"/><circle cx="515.33" cy="1678.13" r="4.1"/><circle cx="542.53" cy="1664.8" r="4.1"/><circle cx="570" cy="1656.8" r="4.1"/><circle cx="575.33" cy="1655.2" r="4.1"/><circle cx="580.67" cy="1656.8" r="4.1"/><circle cx="586" cy="1657.87" r="4.1"/><circle cx="592.67" cy="1678.13" r="4.1"/><circle cx="598.53" cy="1692" r="4.1"/><circle cx="626" cy="1690.67" r="4.1"/><circle cx="653.47" cy="1689.87" r="4.1"/><circle cx="681.2" cy="1689.33" r="4.1"/><circle cx="697.2" cy="1688.53" r="4.1"/></g>
</g>
<g>
<rect x="910.6" y="1606.7" width="132.3" height="215.4" fill="#bbbbbb" stroke="#b3b3b3" stroke-width="1"/>
<line x1="910.1" y1="1609.2" x2="910.1" y2="1822.1" stroke="#000" stroke-width="2.2" stroke-dasharray="5 2.8"/>
<line x1="939.2" y1="1609.2" x2="939.2" y2="1822.1" stroke="#000" stroke-width="2.2" stroke-dasharray="5 2.8"/>
<line x1="1043.2" y1="1609.2" x2="1043.2" y2="1822.1" stroke="#000" stroke-width="2.2" stroke-dasharray="5 2.8"/>
<line x1="824.5" y1="1611.65" x2="824.5" y2="1828.9" stroke="#2a2a2a" stroke-width="1.8"/>
<line x1="817.7" y1="1822.1" x2="1171.62" y2="1822.1" stroke="#2a2a2a" stroke-width="1.8"/>
<text x="807.12" y="1827.15" font-size="14.56" font-family="'Liberation Sans',Arial,sans-serif" font-weight="bold" fill="#1a1a1a" textLength="9.05" lengthAdjust="spacingAndGlyphs">0</text>
<line x1="817.7" y1="1769.7" x2="824.5" y2="1769.7" stroke="#2a2a2a" stroke-width="1.7"/>
<text x="798.1" y="1774.75" font-size="14.56" font-family="'Liberation Sans',Arial,sans-serif" font-weight="bold" fill="#1a1a1a" textLength="18.09" lengthAdjust="spacingAndGlyphs">50</text>
<line x1="817.7" y1="1717.3" x2="824.5" y2="1717.3" stroke="#2a2a2a" stroke-width="1.7"/>
<text x="789.03" y="1722.35" font-size="14.56" font-family="'Liberation Sans',Arial,sans-serif" font-weight="bold" fill="#1a1a1a" textLength="27.14" lengthAdjust="spacingAndGlyphs">100</text>
<line x1="817.7" y1="1664.9" x2="824.5" y2="1664.9" stroke="#2a2a2a" stroke-width="1.7"/>
<text x="789.03" y="1669.95" font-size="14.56" font-family="'Liberation Sans',Arial,sans-serif" font-weight="bold" fill="#1a1a1a" textLength="27.14" lengthAdjust="spacingAndGlyphs">150</text>
<line x1="817.7" y1="1612.5" x2="824.5" y2="1612.5" stroke="#2a2a2a" stroke-width="1.7"/>
<text x="789.03" y="1617.55" font-size="14.56" font-family="'Liberation Sans',Arial,sans-serif" font-weight="bold" fill="#1a1a1a" textLength="27.14" lengthAdjust="spacingAndGlyphs">200</text>
<text x="819.99" y="1843.5" font-size="14.56" font-family="'Liberation Sans',Arial,sans-serif" font-weight="bold" fill="#1a1a1a" textLength="9.05" lengthAdjust="spacingAndGlyphs">0</text>
<line x1="835.1" y1="1822.1" x2="835.1" y2="1825.8" stroke="#2a2a2a" stroke-width="1.7"/>
<line x1="845.71" y1="1822.1" x2="845.71" y2="1825.8" stroke="#2a2a2a" stroke-width="1.7"/>
<line x1="856.31" y1="1822.1" x2="856.31" y2="1825.8" stroke="#2a2a2a" stroke-width="1.7"/>
<line x1="866.92" y1="1822.1" x2="866.92" y2="1825.8" stroke="#2a2a2a" stroke-width="1.7"/>
<line x1="877.52" y1="1822.1" x2="877.52" y2="1825.8" stroke="#2a2a2a" stroke-width="1.7"/>
<line x1="888.12" y1="1822.1" x2="888.12" y2="1825.8" stroke="#2a2a2a" stroke-width="1.7"/>
<line x1="898.73" y1="1822.1" x2="898.73" y2="1825.8" stroke="#2a2a2a" stroke-width="1.7"/>
<line x1="909.33" y1="1822.1" x2="909.33" y2="1825.8" stroke="#2a2a2a" stroke-width="1.7"/>
<line x1="919.94" y1="1822.1" x2="919.94" y2="1825.8" stroke="#2a2a2a" stroke-width="1.7"/>
<line x1="930.54" y1="1822.1" x2="930.54" y2="1828.9" stroke="#2a2a2a" stroke-width="1.7"/>
<text x="921.55" y="1843.5" font-size="14.56" font-family="'Liberation Sans',Arial,sans-serif" font-weight="bold" fill="#1a1a1a" textLength="18.09" lengthAdjust="spacingAndGlyphs">20</text>
<line x1="941.14" y1="1822.1" x2="941.14" y2="1825.8" stroke="#2a2a2a" stroke-width="1.7"/>
<line x1="951.75" y1="1822.1" x2="951.75" y2="1825.8" stroke="#2a2a2a" stroke-width="1.7"/>
<line x1="962.35" y1="1822.1" x2="962.35" y2="1825.8" stroke="#2a2a2a" stroke-width="1.7"/>
<line x1="972.96" y1="1822.1" x2="972.96" y2="1825.8" stroke="#2a2a2a" stroke-width="1.7"/>
<line x1="983.56" y1="1822.1" x2="983.56" y2="1825.8" stroke="#2a2a2a" stroke-width="1.7"/>
<line x1="994.16" y1="1822.1" x2="994.16" y2="1825.8" stroke="#2a2a2a" stroke-width="1.7"/>
<line x1="1004.77" y1="1822.1" x2="1004.77" y2="1825.8" stroke="#2a2a2a" stroke-width="1.7"/>
<line x1="1015.37" y1="1822.1" x2="1015.37" y2="1825.8" stroke="#2a2a2a" stroke-width="1.7"/>
<line x1="1025.98" y1="1822.1" x2="1025.98" y2="1825.8" stroke="#2a2a2a" stroke-width="1.7"/>
<line x1="1036.58" y1="1822.1" x2="1036.58" y2="1828.9" stroke="#2a2a2a" stroke-width="1.7"/>
<text x="1027.76" y="1843.5" font-size="14.56" font-family="'Liberation Sans',Arial,sans-serif" font-weight="bold" fill="#1a1a1a" textLength="18.09" lengthAdjust="spacingAndGlyphs">40</text>
<line x1="1047.18" y1="1822.1" x2="1047.18" y2="1825.8" stroke="#2a2a2a" stroke-width="1.7"/>
<line x1="1057.79" y1="1822.1" x2="1057.79" y2="1825.8" stroke="#2a2a2a" stroke-width="1.7"/>
<line x1="1068.39" y1="1822.1" x2="1068.39" y2="1825.8" stroke="#2a2a2a" stroke-width="1.7"/>
<line x1="1079" y1="1822.1" x2="1079" y2="1825.8" stroke="#2a2a2a" stroke-width="1.7"/>
<line x1="1089.6" y1="1822.1" x2="1089.6" y2="1825.8" stroke="#2a2a2a" stroke-width="1.7"/>
<line x1="1100.2" y1="1822.1" x2="1100.2" y2="1825.8" stroke="#2a2a2a" stroke-width="1.7"/>
<line x1="1110.81" y1="1822.1" x2="1110.81" y2="1825.8" stroke="#2a2a2a" stroke-width="1.7"/>
<line x1="1121.41" y1="1822.1" x2="1121.41" y2="1825.8" stroke="#2a2a2a" stroke-width="1.7"/>
<line x1="1132.02" y1="1822.1" x2="1132.02" y2="1825.8" stroke="#2a2a2a" stroke-width="1.7"/>
<line x1="1142.62" y1="1822.1" x2="1142.62" y2="1828.9" stroke="#2a2a2a" stroke-width="1.7"/>
<text x="1133.61" y="1843.5" font-size="14.56" font-family="'Liberation Sans',Arial,sans-serif" font-weight="bold" fill="#1a1a1a" textLength="18.09" lengthAdjust="spacingAndGlyphs">60</text>
<line x1="1153.22" y1="1822.1" x2="1153.22" y2="1825.8" stroke="#2a2a2a" stroke-width="1.7"/>
<line x1="1163.83" y1="1822.1" x2="1163.83" y2="1825.8" stroke="#2a2a2a" stroke-width="1.7"/>
<text x="754.2" y="1777.19" font-size="19.78" font-family="'Liberation Sans',Arial,sans-serif" font-weight="bold" fill="#1a1a1a" textLength="116.77" lengthAdjust="spacingAndGlyphs" transform="rotate(-90 754.2 1777.19)">LVDP (mmHg)</text>
<text x="945.92" y="1866.7" font-size="18.33" font-family="'Liberation Sans',Arial,sans-serif" font-weight="bold" fill="#1a1a1a" textLength="103.03" lengthAdjust="spacingAndGlyphs">Time (mins)</text>
<g transform="translate(897.9 1568.8) scale(1.0749 1)" fill="#222" font-family="'Liberation Sans',Arial,sans-serif">
<text font-size="18.04">NH<tspan font-size="11.18" dy="2.89">4</tspan><tspan font-size="18.04" dy="-2.89">Cl</tspan></text>
</g>
<line x1="915.22" y1="1576.3" x2="933.58" y2="1576.3" stroke="#222" stroke-width="1.3"/>
<polygon points="910.6,1576.3 918.3,1573 918.3,1579.6" fill="#222"/>
<polygon points="938.2,1576.3 930.5,1573 930.5,1579.6" fill="#222"/>
<text x="948.08" y="1600.7" font-size="18.04" font-family="'Liberation Sans',Arial,sans-serif" fill="#222" textLength="89.53" lengthAdjust="spacingAndGlyphs">Zoniporide</text>
<line x1="915.52" y1="1605.1" x2="1039.08" y2="1605.1" stroke="#222" stroke-width="1.6"/>
<polygon points="910.6,1605.1 918.8,1601.8 918.8,1608.4" fill="#222"/>
<polygon points="1044,1605.1 1035.8,1601.8 1035.8,1608.4" fill="#222"/>
<path d="M824.53 1702.13 L850.67 1696.8 L877.87 1701.33 L902.67 1698.13 L907.47 1698.67 L911.47 1699.47 L915.2 1699.47 L919.47 1739.47 L924.8 1754.13 L930.13 1791.2 L935.47 1805.33 L940 1812.53 L945.33 1816 L951.47 1820 L956.8 1820.53 L962.13 1820.53 L988.8 1820 L1014.67 1820.53 L1041.33 1820.53 L1046.67 1820.53 L1052 1820 L1056.53 1818.67 L1061.87 1814.67 L1068 1810.67 L1094.67 1761.33 L1121.33 1737.33 L1148 1728.8 L1164 1727.1" fill="none" stroke="#444" stroke-width="1" stroke-linejoin="round"/>
<path d="M824.53 1693.33V1712.8M819.43 1693.33H829.63M819.43 1712.8H829.63M850.67 1686.67V1707.47M845.57 1686.67H855.77M845.57 1707.47H855.77M877.87 1689.33V1715.2M872.77 1689.33H882.97M872.77 1715.2H882.97M902.67 1687.47V1708.53M897.57 1687.47H907.77M897.57 1708.53H907.77M907.47 1688V1710.13M902.37 1688H912.57M902.37 1710.13H912.57M911.47 1689.33V1710.67M906.37 1689.33H916.57M906.37 1710.67H916.57M915.2 1689.33V1706.67M910.1 1689.33H920.3M910.1 1706.67H920.3M919.47 1689.87V1791.2M914.37 1689.87H924.57M914.37 1791.2H924.57M924.8 1693.33V1817.33M919.7 1693.33H929.9M919.7 1817.33H929.9M930.13 1766.13V1817.33M925.03 1766.13H935.23M925.03 1817.33H935.23M935.47 1794.67V1817.33M930.37 1794.67H940.57M930.37 1817.33H940.57M940 1808V1818.67M934.9 1808H945.1M934.9 1818.67H945.1M1061.87 1807.47V1818.67M1056.77 1807.47H1066.97M1056.77 1818.67H1066.97M1068 1792.8V1819.47M1062.9 1792.8H1073.1M1062.9 1819.47H1073.1M1094.67 1734.13V1789.33M1089.57 1734.13H1099.77M1089.57 1789.33H1099.77M1121.33 1708.53V1766.13M1116.23 1708.53H1126.43M1116.23 1766.13H1126.43M1148 1699.47V1758.13M1142.9 1699.47H1153.1M1142.9 1758.13H1153.1M1164 1699.9V1755.5M1158.9 1699.9H1169.1M1158.9 1755.5H1169.1" fill="none" stroke="#222" stroke-width="1.5"/>
<g><circle cx="824.53" cy="1702.13" r="4.1"/><circle cx="850.67" cy="1696.8" r="4.1"/><circle cx="877.87" cy="1701.33" r="4.1"/><circle cx="902.67" cy="1698.13" r="4.1"/><circle cx="907.47" cy="1698.67" r="4.1"/><circle cx="911.47" cy="1699.47" r="4.1"/><circle cx="915.2" cy="1699.47" r="4.1"/><circle cx="919.47" cy="1739.47" r="4.1"/><circle cx="924.8" cy="1754.13" r="4.1"/><circle cx="930.13" cy="1791.2" r="4.1"/><circle cx="935.47" cy="1805.33" r="4.1"/><circle cx="940" cy="1812.53" r="4.1"/><circle cx="945.33" cy="1816" r="4.1"/><circle cx="951.47" cy="1820" r="4.1"/><circle cx="956.8" cy="1820.53" r="4.1"/><circle cx="962.13" cy="1820.53" r="4.1"/><circle cx="988.8" cy="1820" r="4.1"/><circle cx="1014.67" cy="1820.53" r="4.1"/><circle cx="1041.33" cy="1820.53" r="4.1"/><circle cx="1046.67" cy="1820.53" r="4.1"/><circle cx="1052" cy="1820" r="4.1"/><circle cx="1056.53" cy="1818.67" r="4.1"/><circle cx="1061.87" cy="1814.67" r="4.1"/><circle cx="1068" cy="1810.67" r="4.1"/><circle cx="1094.67" cy="1761.33" r="4.1"/><circle cx="1121.33" cy="1737.33" r="4.1"/><circle cx="1148" cy="1728.8" r="4.1"/><circle cx="1164" cy="1727.1" r="4.1"/></g>
</g>
<g>
<rect x="1379.3" y="1605.6" width="134.2" height="219.4" fill="#bbbbbb" stroke="#b3b3b3" stroke-width="1"/>
<line x1="1378.8" y1="1607.6" x2="1378.8" y2="1825" stroke="#000" stroke-width="2.2" stroke-dasharray="5 2.8"/>
<line x1="1407.3" y1="1607.6" x2="1407.3" y2="1825" stroke="#000" stroke-width="2.2" stroke-dasharray="5 2.8"/>
<line x1="1513.6" y1="1607.6" x2="1513.6" y2="1825" stroke="#000" stroke-width="2.2" stroke-dasharray="5 2.8"/>
<line x1="1291.4" y1="1612.23" x2="1291.4" y2="1831.8" stroke="#2a2a2a" stroke-width="1.8"/>
<line x1="1284.6" y1="1825" x2="1641.31" y2="1825" stroke="#2a2a2a" stroke-width="1.8"/>
<text x="1273.34" y="1829.75" font-size="13.71" font-family="'Liberation Sans',Arial,sans-serif" font-weight="bold" fill="#1a1a1a" textLength="9.13" lengthAdjust="spacingAndGlyphs">0</text>
<line x1="1284.6" y1="1807.34" x2="1291.4" y2="1807.34" stroke="#2a2a2a" stroke-width="1.7"/>
<text x="1264.23" y="1812.09" font-size="13.71" font-family="'Liberation Sans',Arial,sans-serif" font-weight="bold" fill="#1a1a1a" textLength="18.27" lengthAdjust="spacingAndGlyphs">10</text>
<line x1="1284.6" y1="1789.68" x2="1291.4" y2="1789.68" stroke="#2a2a2a" stroke-width="1.7"/>
<text x="1264.23" y="1794.43" font-size="13.71" font-family="'Liberation Sans',Arial,sans-serif" font-weight="bold" fill="#1a1a1a" textLength="18.27" lengthAdjust="spacingAndGlyphs">20</text>
<line x1="1284.6" y1="1772.02" x2="1291.4" y2="1772.02" stroke="#2a2a2a" stroke-width="1.7"/>
<text x="1264.23" y="1776.77" font-size="13.71" font-family="'Liberation Sans',Arial,sans-serif" font-weight="bold" fill="#1a1a1a" textLength="18.27" lengthAdjust="spacingAndGlyphs">30</text>
<line x1="1284.6" y1="1754.36" x2="1291.4" y2="1754.36" stroke="#2a2a2a" stroke-width="1.7"/>
<text x="1264.23" y="1759.11" font-size="13.71" font-family="'Liberation Sans',Arial,sans-serif" font-weight="bold" fill="#1a1a1a" textLength="18.27" lengthAdjust="spacingAndGlyphs">40</text>
<line x1="1284.6" y1="1736.7" x2="1291.4" y2="1736.7" stroke="#2a2a2a" stroke-width="1.7"/>
<text x="1264.23" y="1741.45" font-size="13.71" font-family="'Liberation Sans',Arial,sans-serif" font-weight="bold" fill="#1a1a1a" textLength="18.27" lengthAdjust="spacingAndGlyphs">50</text>
<line x1="1284.6" y1="1719.04" x2="1291.4" y2="1719.04" stroke="#2a2a2a" stroke-width="1.7"/>
<text x="1264.23" y="1723.79" font-size="13.71" font-family="'Liberation Sans',Arial,sans-serif" font-weight="bold" fill="#1a1a1a" textLength="18.27" lengthAdjust="spacingAndGlyphs">60</text>
<line x1="1284.6" y1="1701.38" x2="1291.4" y2="1701.38" stroke="#2a2a2a" stroke-width="1.7"/>
<text x="1264.23" y="1706.13" font-size="13.71" font-family="'Liberation Sans',Arial,sans-serif" font-weight="bold" fill="#1a1a1a" textLength="18.27" lengthAdjust="spacingAndGlyphs">70</text>
<line x1="1284.6" y1="1683.72" x2="1291.4" y2="1683.72" stroke="#2a2a2a" stroke-width="1.7"/>
<text x="1264.23" y="1688.47" font-size="13.71" font-family="'Liberation Sans',Arial,sans-serif" font-weight="bold" fill="#1a1a1a" textLength="18.27" lengthAdjust="spacingAndGlyphs">80</text>
<line x1="1284.6" y1="1666.06" x2="1291.4" y2="1666.06" stroke="#2a2a2a" stroke-width="1.7"/>
<text x="1264.23" y="1670.81" font-size="13.71" font-family="'Liberation Sans',Arial,sans-serif" font-weight="bold" fill="#1a1a1a" textLength="18.27" lengthAdjust="spacingAndGlyphs">90</text>
<line x1="1284.6" y1="1648.4" x2="1291.4" y2="1648.4" stroke="#2a2a2a" stroke-width="1.7"/>
<text x="1255.07" y="1653.15" font-size="13.71" font-family="'Liberation Sans',Arial,sans-serif" font-weight="bold" fill="#1a1a1a" textLength="27.4" lengthAdjust="spacingAndGlyphs">100</text>
<line x1="1284.6" y1="1630.74" x2="1291.4" y2="1630.74" stroke="#2a2a2a" stroke-width="1.7"/>
<text x="1255.98" y="1635.49" font-size="13.71" font-family="'Liberation Sans',Arial,sans-serif" font-weight="bold" fill="#1a1a1a" textLength="26.49" lengthAdjust="spacingAndGlyphs">110</text>
<line x1="1284.6" y1="1613.08" x2="1291.4" y2="1613.08" stroke="#2a2a2a" stroke-width="1.7"/>
<text x="1255.07" y="1617.83" font-size="13.71" font-family="'Liberation Sans',Arial,sans-serif" font-weight="bold" fill="#1a1a1a" textLength="27.4" lengthAdjust="spacingAndGlyphs">120</text>
<text x="1286.84" y="1846.8" font-size="13.71" font-family="'Liberation Sans',Arial,sans-serif" font-weight="bold" fill="#1a1a1a" textLength="9.13" lengthAdjust="spacingAndGlyphs">0</text>
<line x1="1302.17" y1="1825" x2="1302.17" y2="1828.7" stroke="#2a2a2a" stroke-width="1.7"/>
<line x1="1312.94" y1="1825" x2="1312.94" y2="1828.7" stroke="#2a2a2a" stroke-width="1.7"/>
<line x1="1323.72" y1="1825" x2="1323.72" y2="1828.7" stroke="#2a2a2a" stroke-width="1.7"/>
<line x1="1334.49" y1="1825" x2="1334.49" y2="1828.7" stroke="#2a2a2a" stroke-width="1.7"/>
<line x1="1345.26" y1="1825" x2="1345.26" y2="1828.7" stroke="#2a2a2a" stroke-width="1.7"/>
<line x1="1356.03" y1="1825" x2="1356.03" y2="1828.7" stroke="#2a2a2a" stroke-width="1.7"/>
<line x1="1366.8" y1="1825" x2="1366.8" y2="1828.7" stroke="#2a2a2a" stroke-width="1.7"/>
<line x1="1377.58" y1="1825" x2="1377.58" y2="1828.7" stroke="#2a2a2a" stroke-width="1.7"/>
<line x1="1388.35" y1="1825" x2="1388.35" y2="1828.7" stroke="#2a2a2a" stroke-width="1.7"/>
<line x1="1399.12" y1="1825" x2="1399.12" y2="1831.8" stroke="#2a2a2a" stroke-width="1.7"/>
<text x="1390.05" y="1846.8" font-size="13.71" font-family="'Liberation Sans',Arial,sans-serif" font-weight="bold" fill="#1a1a1a" textLength="18.27" lengthAdjust="spacingAndGlyphs">20</text>
<line x1="1409.89" y1="1825" x2="1409.89" y2="1828.7" stroke="#2a2a2a" stroke-width="1.7"/>
<line x1="1420.66" y1="1825" x2="1420.66" y2="1828.7" stroke="#2a2a2a" stroke-width="1.7"/>
<line x1="1431.44" y1="1825" x2="1431.44" y2="1828.7" stroke="#2a2a2a" stroke-width="1.7"/>
<line x1="1442.21" y1="1825" x2="1442.21" y2="1828.7" stroke="#2a2a2a" stroke-width="1.7"/>
<line x1="1452.98" y1="1825" x2="1452.98" y2="1828.7" stroke="#2a2a2a" stroke-width="1.7"/>
<line x1="1463.75" y1="1825" x2="1463.75" y2="1828.7" stroke="#2a2a2a" stroke-width="1.7"/>
<line x1="1474.52" y1="1825" x2="1474.52" y2="1828.7" stroke="#2a2a2a" stroke-width="1.7"/>
<line x1="1485.3" y1="1825" x2="1485.3" y2="1828.7" stroke="#2a2a2a" stroke-width="1.7"/>
<line x1="1496.07" y1="1825" x2="1496.07" y2="1828.7" stroke="#2a2a2a" stroke-width="1.7"/>
<line x1="1506.84" y1="1825" x2="1506.84" y2="1831.8" stroke="#2a2a2a" stroke-width="1.7"/>
<text x="1497.93" y="1846.8" font-size="13.71" font-family="'Liberation Sans',Arial,sans-serif" font-weight="bold" fill="#1a1a1a" textLength="18.27" lengthAdjust="spacingAndGlyphs">40</text>
<line x1="1517.61" y1="1825" x2="1517.61" y2="1828.7" stroke="#2a2a2a" stroke-width="1.7"/>
<line x1="1528.38" y1="1825" x2="1528.38" y2="1828.7" stroke="#2a2a2a" stroke-width="1.7"/>
<line x1="1539.16" y1="1825" x2="1539.16" y2="1828.7" stroke="#2a2a2a" stroke-width="1.7"/>
<line x1="1549.93" y1="1825" x2="1549.93" y2="1828.7" stroke="#2a2a2a" stroke-width="1.7"/>
<line x1="1560.7" y1="1825" x2="1560.7" y2="1828.7" stroke="#2a2a2a" stroke-width="1.7"/>
<line x1="1571.47" y1="1825" x2="1571.47" y2="1828.7" stroke="#2a2a2a" stroke-width="1.7"/>
<line x1="1582.24" y1="1825" x2="1582.24" y2="1828.7" stroke="#2a2a2a" stroke-width="1.7"/>
<line x1="1593.02" y1="1825" x2="1593.02" y2="1828.7" stroke="#2a2a2a" stroke-width="1.7"/>
<line x1="1603.79" y1="1825" x2="1603.79" y2="1828.7" stroke="#2a2a2a" stroke-width="1.7"/>
<line x1="1614.56" y1="1825" x2="1614.56" y2="1831.8" stroke="#2a2a2a" stroke-width="1.7"/>
<text x="1605.47" y="1846.8" font-size="13.71" font-family="'Liberation Sans',Arial,sans-serif" font-weight="bold" fill="#1a1a1a" textLength="18.27" lengthAdjust="spacingAndGlyphs">60</text>
<line x1="1625.33" y1="1825" x2="1625.33" y2="1828.7" stroke="#2a2a2a" stroke-width="1.7"/>
<line x1="1636.1" y1="1825" x2="1636.1" y2="1828.7" stroke="#2a2a2a" stroke-width="1.7"/>
<text x="1220.8" y="1784.18" font-size="20.51" font-family="'Liberation Sans',Arial,sans-serif" font-weight="bold" fill="#1a1a1a" textLength="127.75" lengthAdjust="spacingAndGlyphs" transform="rotate(-90 1220.8 1784.18)">LVEDP (mmHg)</text>
<text x="1414.71" y="1867.3" font-size="18.33" font-family="'Liberation Sans',Arial,sans-serif" font-weight="bold" fill="#1a1a1a" textLength="103.94" lengthAdjust="spacingAndGlyphs">Time (mins)</text>
<g transform="translate(1365.58 1568.8) scale(1.0538 1)" fill="#222" font-family="'Liberation Sans',Arial,sans-serif">
<text font-size="18.62">NH<tspan font-size="11.54" dy="2.98">4</tspan><tspan font-size="18.62" dy="-2.98">Cl</tspan></text>
</g>
<line x1="1383.12" y1="1575.8" x2="1402.58" y2="1575.8" stroke="#222" stroke-width="1.3"/>
<polygon points="1378.5,1575.8 1386.2,1572.5 1386.2,1579.1" fill="#222"/>
<polygon points="1407.2,1575.8 1399.5,1572.5 1399.5,1579.1" fill="#222"/>
<text x="1416.58" y="1600.3" font-size="19.2" font-family="'Liberation Sans',Arial,sans-serif" fill="#222" textLength="90.54" lengthAdjust="spacingAndGlyphs">Zoniporide</text>
<line x1="1384.02" y1="1604.1" x2="1509.58" y2="1604.1" stroke="#222" stroke-width="1.6"/>
<polygon points="1379.1,1604.1 1387.3,1600.8 1387.3,1607.4" fill="#222"/>
<polygon points="1514.5,1604.1 1506.3,1600.8 1506.3,1607.4" fill="#222"/>
<path d="M1291.36 1805.07 L1317.81 1808.61 L1345.08 1809.98 L1370.44 1812.16 L1375.07 1812.16 L1378.62 1812.16 L1382.17 1805.88 L1387.62 1801.79 L1393.07 1793.07 L1398.53 1782.16 L1403.16 1775.89 L1408.62 1769.07 L1414.07 1760.89 L1419.53 1760.34 L1424.98 1759.53 L1431.25 1760.34 L1457.7 1762.25 L1484.43 1756.8 L1510.88 1746.44 L1516.33 1745.07 L1521.79 1743.98 L1527.24 1743.16 L1532.7 1729.53 L1538.15 1719.17 L1564.88 1725.98 L1592.15 1736.89 L1619.42 1740.98 L1635.78 1740.98" fill="none" stroke="#444" stroke-width="1" stroke-linejoin="round"/>
<path d="M1291.36 1802.34V1808.61M1286.26 1802.34H1296.46M1286.26 1808.61H1296.46M1317.81 1804.52V1812.7M1312.71 1804.52H1322.91M1312.71 1812.7H1322.91M1345.08 1805.88V1814.07M1339.98 1805.88H1350.18M1339.98 1814.07H1350.18M1370.44 1808.61V1816.79M1365.34 1808.61H1375.54M1365.34 1816.79H1375.54M1375.07 1805.88V1822.25M1369.97 1805.88H1380.17M1369.97 1822.25H1380.17M1382.17 1800.43V1812.7M1377.07 1800.43H1387.27M1377.07 1812.7H1387.27M1387.62 1792.25V1812.7M1382.52 1792.25H1392.72M1382.52 1812.7H1392.72M1393.07 1782.71V1803.16M1387.97 1782.71H1398.17M1387.97 1803.16H1398.17M1398.53 1770.43V1794.98M1393.43 1770.43H1403.63M1393.43 1794.98H1403.63M1403.16 1763.07V1786.8M1398.06 1763.07H1408.26M1398.06 1786.8H1408.26M1408.62 1758.16V1781.34M1403.52 1758.16H1413.72M1403.52 1781.34H1413.72M1414.07 1751.34V1771.8M1408.97 1751.34H1419.17M1408.97 1771.8H1419.17M1419.53 1751.34V1770.43M1414.43 1751.34H1424.63M1414.43 1770.43H1424.63M1424.98 1750.53V1770.43M1419.88 1750.53H1430.08M1419.88 1770.43H1430.08M1431.25 1750.53V1771.25M1426.15 1750.53H1436.35M1426.15 1771.25H1436.35M1457.7 1750.53V1773.98M1452.6 1750.53H1462.8M1452.6 1773.98H1462.8M1484.43 1743.98V1769.07M1479.33 1743.98H1489.53M1479.33 1769.07H1489.53M1510.88 1733.07V1760.34M1505.78 1733.07H1515.98M1505.78 1760.34H1515.98M1516.33 1734.16V1758.16M1511.23 1734.16H1521.43M1511.23 1758.16H1521.43M1521.79 1732.26V1758.16M1516.69 1732.26H1526.89M1516.69 1758.16H1526.89M1527.24 1730.89V1755.43M1522.14 1730.89H1532.34M1522.14 1755.43H1532.34M1532.7 1704.99V1755.43M1527.6 1704.99H1537.8M1527.6 1755.43H1537.8M1538.15 1688.62V1751.34M1533.05 1688.62H1543.25M1533.05 1751.34H1543.25M1564.88 1679.08V1773.16M1559.78 1679.08H1569.98M1559.78 1773.16H1569.98M1592.15 1690.53V1783.25M1587.05 1690.53H1597.25M1587.05 1783.25H1597.25M1619.42 1693.26V1788.7M1614.32 1693.26H1624.52M1614.32 1788.7H1624.52M1635.78 1692.17V1790.34M1630.68 1692.17H1640.88M1630.68 1790.34H1640.88" fill="none" stroke="#222" stroke-width="1.5"/>
<g><circle cx="1291.36" cy="1805.07" r="4.1"/><circle cx="1317.81" cy="1808.61" r="4.1"/><circle cx="1345.08" cy="1809.98" r="4.1"/><circle cx="1370.44" cy="1812.16" r="4.1"/><circle cx="1375.07" cy="1812.16" r="4.1"/><circle cx="1378.62" cy="1812.16" r="4.1"/><circle cx="1382.17" cy="1805.88" r="4.1"/><circle cx="1387.62" cy="1801.79" r="4.1"/><circle cx="1393.07" cy="1793.07" r="4.1"/><circle cx="1398.53" cy="1782.16" r="4.1"/><circle cx="1403.16" cy="1775.89" r="4.1"/><circle cx="1408.62" cy="1769.07" r="4.1"/><circle cx="1414.07" cy="1760.89" r="4.1"/><circle cx="1419.53" cy="1760.34" r="4.1"/><circle cx="1424.98" cy="1759.53" r="4.1"/><circle cx="1431.25" cy="1760.34" r="4.1"/><circle cx="1457.7" cy="1762.25" r="4.1"/><circle cx="1484.43" cy="1756.8" r="4.1"/><circle cx="1510.88" cy="1746.44" r="4.1"/><circle cx="1516.33" cy="1745.07" r="4.1"/><circle cx="1521.79" cy="1743.98" r="4.1"/><circle cx="1527.24" cy="1743.16" r="4.1"/><circle cx="1532.7" cy="1729.53" r="4.1"/><circle cx="1538.15" cy="1719.17" r="4.1"/><circle cx="1564.88" cy="1725.98" r="4.1"/><circle cx="1592.15" cy="1736.89" r="4.1"/><circle cx="1619.42" cy="1740.98" r="4.1"/><circle cx="1635.78" cy="1740.98" r="4.1"/></g>
</g>
<g>
<rect x="421.2" y="1942.4" width="146.2" height="208.3" fill="#bbbbbb" stroke="#b3b3b3" stroke-width="1"/>
<path d="M420.8 2150.7 V1942.2 H568.2 V2150.7" fill="none" stroke="#000" stroke-width="3.2" stroke-dasharray="6.2 5.4" stroke-linejoin="round"/>
<line x1="344.1" y1="1937.6" x2="344.1" y2="2156.2" stroke="#000" stroke-width="2.2"/>
<line x1="338.6" y1="2150.7" x2="694.41" y2="2150.7" stroke="#000" stroke-width="2.2"/>
<text x="327.53" y="2156.15" font-size="15.69" font-family="'Liberation Sans',Arial,sans-serif" font-weight="bold" textLength="9.25" lengthAdjust="spacingAndGlyphs">0</text>
<line x1="338.6" y1="2108.3" x2="344.1" y2="2108.3" stroke="#000" stroke-width="2.2"/>
<text x="318.29" y="2113.75" font-size="15.69" font-family="'Liberation Sans',Arial,sans-serif" font-weight="bold" textLength="18.51" lengthAdjust="spacingAndGlyphs">50</text>
<line x1="338.6" y1="2065.9" x2="344.1" y2="2065.9" stroke="#000" stroke-width="2.2"/>
<text x="309.02" y="2071.35" font-size="15.69" font-family="'Liberation Sans',Arial,sans-serif" font-weight="bold" textLength="27.76" lengthAdjust="spacingAndGlyphs">100</text>
<line x1="338.6" y1="2023.5" x2="344.1" y2="2023.5" stroke="#000" stroke-width="2.2"/>
<text x="309.02" y="2028.95" font-size="15.69" font-family="'Liberation Sans',Arial,sans-serif" font-weight="bold" textLength="27.76" lengthAdjust="spacingAndGlyphs">150</text>
<line x1="338.6" y1="1981.1" x2="344.1" y2="1981.1" stroke="#000" stroke-width="2.2"/>
<text x="309.02" y="1986.55" font-size="15.69" font-family="'Liberation Sans',Arial,sans-serif" font-weight="bold" textLength="27.76" lengthAdjust="spacingAndGlyphs">200</text>
<line x1="338.6" y1="1938.7" x2="344.1" y2="1938.7" stroke="#000" stroke-width="2.2"/>
<text x="309.02" y="1944.15" font-size="15.69" font-family="'Liberation Sans',Arial,sans-serif" font-weight="bold" textLength="27.76" lengthAdjust="spacingAndGlyphs">250</text>
<text x="339.48" y="2174.1" font-size="15.69" font-family="'Liberation Sans',Arial,sans-serif" font-weight="bold" textLength="9.25" lengthAdjust="spacingAndGlyphs">0</text>
<line x1="354.81" y1="2150.7" x2="354.81" y2="2153.7" stroke="#000" stroke-width="2.2"/>
<line x1="365.52" y1="2150.7" x2="365.52" y2="2153.7" stroke="#000" stroke-width="2.2"/>
<line x1="376.24" y1="2150.7" x2="376.24" y2="2153.7" stroke="#000" stroke-width="2.2"/>
<line x1="386.95" y1="2150.7" x2="386.95" y2="2153.7" stroke="#000" stroke-width="2.2"/>
<line x1="397.66" y1="2150.7" x2="397.66" y2="2153.7" stroke="#000" stroke-width="2.2"/>
<line x1="408.37" y1="2150.7" x2="408.37" y2="2153.7" stroke="#000" stroke-width="2.2"/>
<line x1="419.08" y1="2150.7" x2="419.08" y2="2153.7" stroke="#000" stroke-width="2.2"/>
<line x1="429.8" y1="2150.7" x2="429.8" y2="2153.7" stroke="#000" stroke-width="2.2"/>
<line x1="440.51" y1="2150.7" x2="440.51" y2="2153.7" stroke="#000" stroke-width="2.2"/>
<line x1="451.22" y1="2150.7" x2="451.22" y2="2156.2" stroke="#000" stroke-width="2.2"/>
<text x="442.03" y="2174.1" font-size="15.69" font-family="'Liberation Sans',Arial,sans-serif" font-weight="bold" textLength="18.51" lengthAdjust="spacingAndGlyphs">20</text>
<line x1="461.93" y1="2150.7" x2="461.93" y2="2153.7" stroke="#000" stroke-width="2.2"/>
<line x1="472.64" y1="2150.7" x2="472.64" y2="2153.7" stroke="#000" stroke-width="2.2"/>
<line x1="483.36" y1="2150.7" x2="483.36" y2="2153.7" stroke="#000" stroke-width="2.2"/>
<line x1="494.07" y1="2150.7" x2="494.07" y2="2153.7" stroke="#000" stroke-width="2.2"/>
<line x1="504.78" y1="2150.7" x2="504.78" y2="2153.7" stroke="#000" stroke-width="2.2"/>
<line x1="515.49" y1="2150.7" x2="515.49" y2="2153.7" stroke="#000" stroke-width="2.2"/>
<line x1="526.2" y1="2150.7" x2="526.2" y2="2153.7" stroke="#000" stroke-width="2.2"/>
<line x1="536.92" y1="2150.7" x2="536.92" y2="2153.7" stroke="#000" stroke-width="2.2"/>
<line x1="547.63" y1="2150.7" x2="547.63" y2="2153.7" stroke="#000" stroke-width="2.2"/>
<line x1="558.34" y1="2150.7" x2="558.34" y2="2156.2" stroke="#000" stroke-width="2.2"/>
<text x="549.31" y="2174.1" font-size="15.69" font-family="'Liberation Sans',Arial,sans-serif" font-weight="bold" textLength="18.51" lengthAdjust="spacingAndGlyphs">40</text>
<line x1="569.05" y1="2150.7" x2="569.05" y2="2153.7" stroke="#000" stroke-width="2.2"/>
<line x1="579.76" y1="2150.7" x2="579.76" y2="2153.7" stroke="#000" stroke-width="2.2"/>
<line x1="590.48" y1="2150.7" x2="590.48" y2="2153.7" stroke="#000" stroke-width="2.2"/>
<line x1="601.19" y1="2150.7" x2="601.19" y2="2153.7" stroke="#000" stroke-width="2.2"/>
<line x1="611.9" y1="2150.7" x2="611.9" y2="2153.7" stroke="#000" stroke-width="2.2"/>
<line x1="622.61" y1="2150.7" x2="622.61" y2="2153.7" stroke="#000" stroke-width="2.2"/>
<line x1="633.32" y1="2150.7" x2="633.32" y2="2153.7" stroke="#000" stroke-width="2.2"/>
<line x1="644.04" y1="2150.7" x2="644.04" y2="2153.7" stroke="#000" stroke-width="2.2"/>
<line x1="654.75" y1="2150.7" x2="654.75" y2="2153.7" stroke="#000" stroke-width="2.2"/>
<line x1="665.46" y1="2150.7" x2="665.46" y2="2156.2" stroke="#000" stroke-width="2.2"/>
<text x="656.25" y="2174.1" font-size="15.69" font-family="'Liberation Sans',Arial,sans-serif" font-weight="bold" textLength="18.51" lengthAdjust="spacingAndGlyphs">60</text>
<line x1="676.17" y1="2150.7" x2="676.17" y2="2153.7" stroke="#000" stroke-width="2.2"/>
<line x1="686.88" y1="2150.7" x2="686.88" y2="2153.7" stroke="#000" stroke-width="2.2"/>
<text x="297" y="2140.58" font-size="18.17" font-family="'Liberation Serif','Times New Roman',serif" font-weight="bold" textLength="189.27" lengthAdjust="spacingAndGlyphs" transform="rotate(-90 297 2140.58)">Perfusion pressure (mmHg)</text>
<text x="472.75" y="2195.7" font-size="16.49" font-family="'Liberation Serif','Times New Roman',serif" font-weight="bold" textLength="90.07" lengthAdjust="spacingAndGlyphs">Time&#160; (mins)</text>
<text x="461.31" y="1924.5" font-size="16.44" font-family="'Liberation Sans',Arial,sans-serif" fill="#111" textLength="72.13" lengthAdjust="spacingAndGlyphs">Lidocaine</text>
<line x1="434.52" y1="1930.3" x2="556.08" y2="1930.3" stroke="#111" stroke-width="1.4"/>
<polygon points="429.6,1930.3 437.8,1926.9 437.8,1933.7" fill="#111"/>
<polygon points="561,1930.3 552.8,1926.9 552.8,1933.7" fill="#111"/>
<path d="M344.13 2101.87 L370.8 2101.33 L398 2098.67 L424.67 2099.2 L429.47 2082.13 L434.8 2082.13 L440.13 2061.87 L445.47 2050.67 L450.8 2047.47 L456.67 2052.8 L462 2050.13 L467.33 2047.47 L472.13 2044.8 L478 2050.67 L504.67 2046.13 L531.87 2036 L557.47 2042.13 L562.8 2046.13 L568.67 2030.67 L574 2040 L579.33 2058.67 L585.2 2078.13 L611.87 2083.2 L638.53 2084 L665.2 2090.67 L691.33 2089.33" fill="none" stroke="#000" stroke-width="1.5" stroke-linejoin="round"/>
<path d="M344.13 2096V2107.47M338.93 2096H349.33M338.93 2107.47H349.33M370.8 2096V2106.67M365.6 2096H376M365.6 2106.67H376M398 2091.47V2105.87M392.8 2091.47H403.2M392.8 2105.87H403.2M424.67 2091.47V2107.2M419.47 2091.47H429.87M419.47 2107.2H429.87M429.47 2073.87V2089.87M424.27 2073.87H434.67M424.27 2089.87H434.67M434.8 2077.33V2087.2M429.6 2077.33H440M429.6 2087.2H440M440.13 2053.87V2069.87M434.93 2053.87H445.33M434.93 2069.87H445.33M445.47 2030.13V2072M440.27 2030.13H450.67M440.27 2072H450.67M450.8 2032.8V2061.33M445.6 2032.8H456M445.6 2061.33H456M456.67 2038.67V2068M451.47 2038.67H461.87M451.47 2068H461.87M462 2039.2V2061.33M456.8 2039.2H467.2M456.8 2061.33H467.2M467.33 2033.33V2061.33M462.13 2033.33H472.53M462.13 2061.33H472.53M472.13 2028.8V2061.33M466.93 2028.8H477.33M466.93 2061.33H477.33M478 2030.13V2071.47M472.8 2030.13H483.2M472.8 2071.47H483.2M504.67 2032.8V2059.47M499.47 2032.8H509.87M499.47 2059.47H509.87M531.87 2022.13V2051.2M526.67 2022.13H537.07M526.67 2051.2H537.07M557.47 2032.53V2052M552.27 2032.53H562.67M552.27 2052H562.67M562.8 2017.87V2075.2M557.6 2017.87H568M557.6 2075.2H568M568.67 2007.47V2053.87M563.47 2007.47H573.87M563.47 2053.87H573.87M574 2030.67V2048M568.8 2030.67H579.2M568.8 2048H579.2M579.33 2030.67V2086.67M574.13 2030.67H584.53M574.13 2086.67H584.53M585.2 2054.67V2101.33M580 2054.67H590.4M580 2101.33H590.4M611.87 2075.47V2090.67M606.67 2075.47H617.07M606.67 2090.67H617.07M638.53 2076.8V2092M633.33 2076.8H643.73M633.33 2092H643.73M665.2 2083.47V2098.67M660 2083.47H670.4M660 2098.67H670.4M691.33 2081.33V2097.33M686.13 2081.33H696.53M686.13 2097.33H696.53" fill="none" stroke="#000" stroke-width="2.3"/>
<g><circle cx="344.13" cy="2101.87" r="4.5"/><circle cx="370.8" cy="2101.33" r="4.5"/><circle cx="398" cy="2098.67" r="4.5"/><circle cx="424.67" cy="2099.2" r="4.5"/><circle cx="429.47" cy="2082.13" r="4.5"/><circle cx="434.8" cy="2082.13" r="4.5"/><circle cx="440.13" cy="2061.87" r="4.5"/><circle cx="445.47" cy="2050.67" r="4.5"/><circle cx="450.8" cy="2047.47" r="4.5"/><circle cx="456.67" cy="2052.8" r="4.5"/><circle cx="462" cy="2050.13" r="4.5"/><circle cx="467.33" cy="2047.47" r="4.5"/><circle cx="472.13" cy="2044.8" r="4.5"/><circle cx="478" cy="2050.67" r="4.5"/><circle cx="504.67" cy="2046.13" r="4.5"/><circle cx="531.87" cy="2036" r="4.5"/><circle cx="557.47" cy="2042.13" r="4.5"/><circle cx="562.8" cy="2046.13" r="4.5"/><circle cx="568.67" cy="2030.67" r="4.5"/><circle cx="574" cy="2040" r="4.5"/><circle cx="579.33" cy="2058.67" r="4.5"/><circle cx="585.2" cy="2078.13" r="4.5"/><circle cx="611.87" cy="2083.2" r="4.5"/><circle cx="638.53" cy="2084" r="4.5"/><circle cx="665.2" cy="2090.67" r="4.5"/><circle cx="691.33" cy="2089.33" r="4.5"/></g>
</g>
<g>
<rect x="879.8" y="1942.4" width="145.9" height="208.3" fill="#bbbbbb" stroke="#b3b3b3" stroke-width="1"/>
<path d="M879.3 2150.7 V1941.9 H1026.2 V2150.7" fill="none" stroke="#000" stroke-width="3.2" stroke-dasharray="6.2 5.4" stroke-linejoin="round"/>
<line x1="802.5" y1="1937.6" x2="802.5" y2="2156.2" stroke="#000" stroke-width="2.2"/>
<line x1="797" y1="2150.7" x2="1152.54" y2="2150.7" stroke="#000" stroke-width="2.2"/>
<text x="785.54" y="2156.15" font-size="15.69" font-family="'Liberation Sans',Arial,sans-serif" font-weight="bold" textLength="9.67" lengthAdjust="spacingAndGlyphs">0</text>
<line x1="797" y1="2097.7" x2="802.5" y2="2097.7" stroke="#000" stroke-width="2.2"/>
<text x="775.89" y="2103.15" font-size="15.69" font-family="'Liberation Sans',Arial,sans-serif" font-weight="bold" textLength="19.35" lengthAdjust="spacingAndGlyphs">50</text>
<line x1="797" y1="2044.7" x2="802.5" y2="2044.7" stroke="#000" stroke-width="2.2"/>
<text x="766.19" y="2050.15" font-size="15.69" font-family="'Liberation Sans',Arial,sans-serif" font-weight="bold" textLength="29.02" lengthAdjust="spacingAndGlyphs">100</text>
<line x1="797" y1="1991.7" x2="802.5" y2="1991.7" stroke="#000" stroke-width="2.2"/>
<text x="766.19" y="1997.15" font-size="15.69" font-family="'Liberation Sans',Arial,sans-serif" font-weight="bold" textLength="29.02" lengthAdjust="spacingAndGlyphs">150</text>
<line x1="797" y1="1938.7" x2="802.5" y2="1938.7" stroke="#000" stroke-width="2.2"/>
<text x="766.19" y="1944.15" font-size="15.69" font-family="'Liberation Sans',Arial,sans-serif" font-weight="bold" textLength="29.02" lengthAdjust="spacingAndGlyphs">200</text>
<text x="797.67" y="2174.1" font-size="15.69" font-family="'Liberation Sans',Arial,sans-serif" font-weight="bold" textLength="9.67" lengthAdjust="spacingAndGlyphs">0</text>
<line x1="813.22" y1="2150.7" x2="813.22" y2="2153.7" stroke="#000" stroke-width="2.2"/>
<line x1="823.94" y1="2150.7" x2="823.94" y2="2153.7" stroke="#000" stroke-width="2.2"/>
<line x1="834.66" y1="2150.7" x2="834.66" y2="2153.7" stroke="#000" stroke-width="2.2"/>
<line x1="845.38" y1="2150.7" x2="845.38" y2="2153.7" stroke="#000" stroke-width="2.2"/>
<line x1="856.1" y1="2150.7" x2="856.1" y2="2153.7" stroke="#000" stroke-width="2.2"/>
<line x1="866.82" y1="2150.7" x2="866.82" y2="2153.7" stroke="#000" stroke-width="2.2"/>
<line x1="877.54" y1="2150.7" x2="877.54" y2="2153.7" stroke="#000" stroke-width="2.2"/>
<line x1="888.26" y1="2150.7" x2="888.26" y2="2153.7" stroke="#000" stroke-width="2.2"/>
<line x1="898.98" y1="2150.7" x2="898.98" y2="2153.7" stroke="#000" stroke-width="2.2"/>
<line x1="909.7" y1="2150.7" x2="909.7" y2="2156.2" stroke="#000" stroke-width="2.2"/>
<text x="900.09" y="2174.1" font-size="15.69" font-family="'Liberation Sans',Arial,sans-serif" font-weight="bold" textLength="19.35" lengthAdjust="spacingAndGlyphs">20</text>
<line x1="920.42" y1="2150.7" x2="920.42" y2="2153.7" stroke="#000" stroke-width="2.2"/>
<line x1="931.14" y1="2150.7" x2="931.14" y2="2153.7" stroke="#000" stroke-width="2.2"/>
<line x1="941.86" y1="2150.7" x2="941.86" y2="2153.7" stroke="#000" stroke-width="2.2"/>
<line x1="952.58" y1="2150.7" x2="952.58" y2="2153.7" stroke="#000" stroke-width="2.2"/>
<line x1="963.3" y1="2150.7" x2="963.3" y2="2153.7" stroke="#000" stroke-width="2.2"/>
<line x1="974.02" y1="2150.7" x2="974.02" y2="2153.7" stroke="#000" stroke-width="2.2"/>
<line x1="984.74" y1="2150.7" x2="984.74" y2="2153.7" stroke="#000" stroke-width="2.2"/>
<line x1="995.46" y1="2150.7" x2="995.46" y2="2153.7" stroke="#000" stroke-width="2.2"/>
<line x1="1006.18" y1="2150.7" x2="1006.18" y2="2153.7" stroke="#000" stroke-width="2.2"/>
<line x1="1016.9" y1="2150.7" x2="1016.9" y2="2156.2" stroke="#000" stroke-width="2.2"/>
<text x="1007.46" y="2174.1" font-size="15.69" font-family="'Liberation Sans',Arial,sans-serif" font-weight="bold" textLength="19.35" lengthAdjust="spacingAndGlyphs">40</text>
<line x1="1027.62" y1="2150.7" x2="1027.62" y2="2153.7" stroke="#000" stroke-width="2.2"/>
<line x1="1038.34" y1="2150.7" x2="1038.34" y2="2153.7" stroke="#000" stroke-width="2.2"/>
<line x1="1049.06" y1="2150.7" x2="1049.06" y2="2153.7" stroke="#000" stroke-width="2.2"/>
<line x1="1059.78" y1="2150.7" x2="1059.78" y2="2153.7" stroke="#000" stroke-width="2.2"/>
<line x1="1070.5" y1="2150.7" x2="1070.5" y2="2153.7" stroke="#000" stroke-width="2.2"/>
<line x1="1081.22" y1="2150.7" x2="1081.22" y2="2153.7" stroke="#000" stroke-width="2.2"/>
<line x1="1091.94" y1="2150.7" x2="1091.94" y2="2153.7" stroke="#000" stroke-width="2.2"/>
<line x1="1102.66" y1="2150.7" x2="1102.66" y2="2153.7" stroke="#000" stroke-width="2.2"/>
<line x1="1113.38" y1="2150.7" x2="1113.38" y2="2153.7" stroke="#000" stroke-width="2.2"/>
<line x1="1124.1" y1="2150.7" x2="1124.1" y2="2156.2" stroke="#000" stroke-width="2.2"/>
<text x="1114.47" y="2174.1" font-size="15.69" font-family="'Liberation Sans',Arial,sans-serif" font-weight="bold" textLength="19.35" lengthAdjust="spacingAndGlyphs">60</text>
<line x1="1134.82" y1="2150.7" x2="1134.82" y2="2153.7" stroke="#000" stroke-width="2.2"/>
<line x1="1145.54" y1="2150.7" x2="1145.54" y2="2153.7" stroke="#000" stroke-width="2.2"/>
<text x="755.1" y="2095.78" font-size="18.17" font-family="'Liberation Serif','Times New Roman',serif" font-weight="bold" textLength="101.75" lengthAdjust="spacingAndGlyphs" transform="rotate(-90 755.1 2095.78)">LVDP (mmHg)</text>
<text x="931.85" y="2195" font-size="16.49" font-family="'Liberation Serif','Times New Roman',serif" font-weight="bold" textLength="88.96" lengthAdjust="spacingAndGlyphs">Time&#160; (mins)</text>
<text x="919.41" y="1924.5" font-size="16.44" font-family="'Liberation Sans',Arial,sans-serif" fill="#111" textLength="72.13" lengthAdjust="spacingAndGlyphs">Lidocaine</text>
<line x1="892.92" y1="1930.3" x2="1014.58" y2="1930.3" stroke="#111" stroke-width="1.4"/>
<polygon points="888,1930.3 896.2,1926.9 896.2,1933.7" fill="#111"/>
<polygon points="1019.5,1930.3 1011.3,1926.9 1011.3,1933.7" fill="#111"/>
<path d="M802.53 2000.53 L829.2 1997.87 L856.13 1998.13 L882.53 2000.53 L888.67 2073.87 L893.2 2150.67 L898.53 2150.67 L903.87 2150.67 L909.2 2150.67 L914.53 2150.67 L919.87 2150.67 L925.2 2150.67 L930.53 2150.67 L935.87 2150.67 L963.33 2150.13 L990 2150.13 L1016.67 2150.13 L1022 2150.13 L1026.53 2040 L1030.8 2036 L1035.33 2032.8 L1039.87 2031.2 L1044.13 2029.33 L1070 2017.33 L1097.47 2021.33 L1123.87 2025.33 L1150.8 2026.67" fill="none" stroke="#000" stroke-width="1.5" stroke-linejoin="round"/>
<path d="M802.53 1984V2016.53M797.33 1984H807.73M797.33 2016.53H807.73M829.2 1982.67V2012.53M824 1982.67H834.4M824 2012.53H834.4M856.13 1972.53V2023.2M850.93 1972.53H861.33M850.93 2023.2H861.33M882.53 1987.2V2014.67M877.33 1987.2H887.73M877.33 2014.67H887.73M888.67 2050.67V2097.87M883.47 2050.67H893.87M883.47 2097.87H893.87M1026.53 2018.67V2061.33M1021.33 2018.67H1031.73M1021.33 2061.33H1031.73M1030.8 2014.67V2056M1025.6 2014.67H1036M1025.6 2056H1036M1035.33 2012V2054.13M1030.13 2012H1040.53M1030.13 2054.13H1040.53M1039.87 2009.33V2051.47M1034.67 2009.33H1045.07M1034.67 2051.47H1045.07M1044.13 2008.8V2051.47M1038.93 2008.8H1049.33M1038.93 2051.47H1049.33M1070 2002.67V2032.53M1064.8 2002.67H1075.2M1064.8 2032.53H1075.2M1097.47 2000V2043.47M1092.27 2000H1102.67M1092.27 2043.47H1102.67M1123.87 2009.87V2040M1118.67 2009.87H1129.07M1118.67 2040H1129.07M1150.8 2012.53V2040.8M1145.6 2012.53H1156M1145.6 2040.8H1156" fill="none" stroke="#000" stroke-width="2.3"/>
<g><circle cx="802.53" cy="2000.53" r="4.5"/><circle cx="829.2" cy="1997.87" r="4.5"/><circle cx="856.13" cy="1998.13" r="4.5"/><circle cx="882.53" cy="2000.53" r="4.5"/><circle cx="888.67" cy="2073.87" r="4.5"/><circle cx="893.2" cy="2150.67" r="4.5"/><circle cx="898.53" cy="2150.67" r="4.5"/><circle cx="903.87" cy="2150.67" r="4.5"/><circle cx="909.2" cy="2150.67" r="4.5"/><circle cx="914.53" cy="2150.67" r="4.5"/><circle cx="919.87" cy="2150.67" r="4.5"/><circle cx="925.2" cy="2150.67" r="4.5"/><circle cx="930.53" cy="2150.67" r="4.5"/><circle cx="935.87" cy="2150.67" r="4.5"/><circle cx="963.33" cy="2150.13" r="4.5"/><circle cx="990" cy="2150.13" r="4.5"/><circle cx="1016.67" cy="2150.13" r="4.5"/><circle cx="1022" cy="2150.13" r="4.5"/><circle cx="1026.53" cy="2040" r="4.5"/><circle cx="1030.8" cy="2036" r="4.5"/><circle cx="1035.33" cy="2032.8" r="4.5"/><circle cx="1039.87" cy="2031.2" r="4.5"/><circle cx="1044.13" cy="2029.33" r="4.5"/><circle cx="1070" cy="2017.33" r="4.5"/><circle cx="1097.47" cy="2021.33" r="4.5"/><circle cx="1123.87" cy="2025.33" r="4.5"/><circle cx="1150.8" cy="2026.67" r="4.5"/></g>
</g>
<g>
<rect x="1369.5" y="1944" width="146.2" height="207" fill="#bbbbbb" stroke="#b3b3b3" stroke-width="1"/>
<path d="M1369 2151 V1943.5 H1516.2 V2151" fill="none" stroke="#000" stroke-width="2.6" stroke-dasharray="7.2 4.4" stroke-linejoin="round"/>
<line x1="1292.7" y1="1938.4" x2="1292.7" y2="2156.5" stroke="#000" stroke-width="2.2"/>
<line x1="1287.2" y1="2151" x2="1642.95" y2="2151" stroke="#000" stroke-width="2.2"/>
<text x="1273.67" y="2156.2" font-size="14.98" font-family="'Liberation Sans',Arial,sans-serif" font-weight="bold" textLength="8.99" lengthAdjust="spacingAndGlyphs">0</text>
<line x1="1287.2" y1="2133.38" x2="1292.7" y2="2133.38" stroke="#000" stroke-width="2.2"/>
<text x="1264.7" y="2138.58" font-size="14.98" font-family="'Liberation Sans',Arial,sans-serif" font-weight="bold" textLength="17.98" lengthAdjust="spacingAndGlyphs">10</text>
<line x1="1287.2" y1="2115.75" x2="1292.7" y2="2115.75" stroke="#000" stroke-width="2.2"/>
<text x="1264.7" y="2120.95" font-size="14.98" font-family="'Liberation Sans',Arial,sans-serif" font-weight="bold" textLength="17.98" lengthAdjust="spacingAndGlyphs">20</text>
<line x1="1287.2" y1="2098.12" x2="1292.7" y2="2098.12" stroke="#000" stroke-width="2.2"/>
<text x="1264.7" y="2103.33" font-size="14.98" font-family="'Liberation Sans',Arial,sans-serif" font-weight="bold" textLength="17.98" lengthAdjust="spacingAndGlyphs">30</text>
<line x1="1287.2" y1="2080.5" x2="1292.7" y2="2080.5" stroke="#000" stroke-width="2.2"/>
<text x="1264.7" y="2085.7" font-size="14.98" font-family="'Liberation Sans',Arial,sans-serif" font-weight="bold" textLength="17.98" lengthAdjust="spacingAndGlyphs">40</text>
<line x1="1287.2" y1="2062.88" x2="1292.7" y2="2062.88" stroke="#000" stroke-width="2.2"/>
<text x="1264.7" y="2068.08" font-size="14.98" font-family="'Liberation Sans',Arial,sans-serif" font-weight="bold" textLength="17.98" lengthAdjust="spacingAndGlyphs">50</text>
<line x1="1287.2" y1="2045.25" x2="1292.7" y2="2045.25" stroke="#000" stroke-width="2.2"/>
<text x="1264.7" y="2050.45" font-size="14.98" font-family="'Liberation Sans',Arial,sans-serif" font-weight="bold" textLength="17.98" lengthAdjust="spacingAndGlyphs">60</text>
<line x1="1287.2" y1="2027.62" x2="1292.7" y2="2027.62" stroke="#000" stroke-width="2.2"/>
<text x="1264.7" y="2032.83" font-size="14.98" font-family="'Liberation Sans',Arial,sans-serif" font-weight="bold" textLength="17.98" lengthAdjust="spacingAndGlyphs">70</text>
<line x1="1287.2" y1="2010" x2="1292.7" y2="2010" stroke="#000" stroke-width="2.2"/>
<text x="1264.7" y="2015.2" font-size="14.98" font-family="'Liberation Sans',Arial,sans-serif" font-weight="bold" textLength="17.98" lengthAdjust="spacingAndGlyphs">80</text>
<line x1="1287.2" y1="1992.38" x2="1292.7" y2="1992.38" stroke="#000" stroke-width="2.2"/>
<text x="1264.7" y="1997.58" font-size="14.98" font-family="'Liberation Sans',Arial,sans-serif" font-weight="bold" textLength="17.98" lengthAdjust="spacingAndGlyphs">90</text>
<line x1="1287.2" y1="1974.75" x2="1292.7" y2="1974.75" stroke="#000" stroke-width="2.2"/>
<text x="1255.69" y="1979.95" font-size="14.98" font-family="'Liberation Sans',Arial,sans-serif" font-weight="bold" textLength="26.97" lengthAdjust="spacingAndGlyphs">100</text>
<line x1="1287.2" y1="1957.12" x2="1292.7" y2="1957.12" stroke="#000" stroke-width="2.2"/>
<text x="1256.58" y="1962.33" font-size="14.98" font-family="'Liberation Sans',Arial,sans-serif" font-weight="bold" textLength="26.08" lengthAdjust="spacingAndGlyphs">110</text>
<line x1="1287.2" y1="1939.5" x2="1292.7" y2="1939.5" stroke="#000" stroke-width="2.2"/>
<text x="1255.69" y="1944.7" font-size="14.98" font-family="'Liberation Sans',Arial,sans-serif" font-weight="bold" textLength="26.97" lengthAdjust="spacingAndGlyphs">120</text>
<text x="1288.21" y="2173.7" font-size="14.98" font-family="'Liberation Sans',Arial,sans-serif" font-weight="bold" textLength="8.99" lengthAdjust="spacingAndGlyphs">0</text>
<line x1="1303.41" y1="2151" x2="1303.41" y2="2154" stroke="#000" stroke-width="2.2"/>
<line x1="1314.12" y1="2151" x2="1314.12" y2="2154" stroke="#000" stroke-width="2.2"/>
<line x1="1324.83" y1="2151" x2="1324.83" y2="2154" stroke="#000" stroke-width="2.2"/>
<line x1="1335.54" y1="2151" x2="1335.54" y2="2154" stroke="#000" stroke-width="2.2"/>
<line x1="1346.25" y1="2151" x2="1346.25" y2="2154" stroke="#000" stroke-width="2.2"/>
<line x1="1356.96" y1="2151" x2="1356.96" y2="2154" stroke="#000" stroke-width="2.2"/>
<line x1="1367.67" y1="2151" x2="1367.67" y2="2154" stroke="#000" stroke-width="2.2"/>
<line x1="1378.38" y1="2151" x2="1378.38" y2="2154" stroke="#000" stroke-width="2.2"/>
<line x1="1389.09" y1="2151" x2="1389.09" y2="2154" stroke="#000" stroke-width="2.2"/>
<line x1="1399.8" y1="2151" x2="1399.8" y2="2156.5" stroke="#000" stroke-width="2.2"/>
<text x="1390.87" y="2173.7" font-size="14.98" font-family="'Liberation Sans',Arial,sans-serif" font-weight="bold" textLength="17.98" lengthAdjust="spacingAndGlyphs">20</text>
<line x1="1410.51" y1="2151" x2="1410.51" y2="2154" stroke="#000" stroke-width="2.2"/>
<line x1="1421.22" y1="2151" x2="1421.22" y2="2154" stroke="#000" stroke-width="2.2"/>
<line x1="1431.93" y1="2151" x2="1431.93" y2="2154" stroke="#000" stroke-width="2.2"/>
<line x1="1442.64" y1="2151" x2="1442.64" y2="2154" stroke="#000" stroke-width="2.2"/>
<line x1="1453.35" y1="2151" x2="1453.35" y2="2154" stroke="#000" stroke-width="2.2"/>
<line x1="1464.06" y1="2151" x2="1464.06" y2="2154" stroke="#000" stroke-width="2.2"/>
<line x1="1474.77" y1="2151" x2="1474.77" y2="2154" stroke="#000" stroke-width="2.2"/>
<line x1="1485.48" y1="2151" x2="1485.48" y2="2154" stroke="#000" stroke-width="2.2"/>
<line x1="1496.19" y1="2151" x2="1496.19" y2="2154" stroke="#000" stroke-width="2.2"/>
<line x1="1506.9" y1="2151" x2="1506.9" y2="2156.5" stroke="#000" stroke-width="2.2"/>
<text x="1498.13" y="2173.7" font-size="14.98" font-family="'Liberation Sans',Arial,sans-serif" font-weight="bold" textLength="17.98" lengthAdjust="spacingAndGlyphs">40</text>
<line x1="1517.61" y1="2151" x2="1517.61" y2="2154" stroke="#000" stroke-width="2.2"/>
<line x1="1528.32" y1="2151" x2="1528.32" y2="2154" stroke="#000" stroke-width="2.2"/>
<line x1="1539.03" y1="2151" x2="1539.03" y2="2154" stroke="#000" stroke-width="2.2"/>
<line x1="1549.74" y1="2151" x2="1549.74" y2="2154" stroke="#000" stroke-width="2.2"/>
<line x1="1560.45" y1="2151" x2="1560.45" y2="2154" stroke="#000" stroke-width="2.2"/>
<line x1="1571.16" y1="2151" x2="1571.16" y2="2154" stroke="#000" stroke-width="2.2"/>
<line x1="1581.87" y1="2151" x2="1581.87" y2="2154" stroke="#000" stroke-width="2.2"/>
<line x1="1592.58" y1="2151" x2="1592.58" y2="2154" stroke="#000" stroke-width="2.2"/>
<line x1="1603.29" y1="2151" x2="1603.29" y2="2154" stroke="#000" stroke-width="2.2"/>
<line x1="1614" y1="2151" x2="1614" y2="2156.5" stroke="#000" stroke-width="2.2"/>
<text x="1605.05" y="2173.7" font-size="14.98" font-family="'Liberation Sans',Arial,sans-serif" font-weight="bold" textLength="17.98" lengthAdjust="spacingAndGlyphs">60</text>
<line x1="1624.71" y1="2151" x2="1624.71" y2="2154" stroke="#000" stroke-width="2.2"/>
<line x1="1635.42" y1="2151" x2="1635.42" y2="2154" stroke="#000" stroke-width="2.2"/>
<text x="1242.9" y="2102.48" font-size="18.02" font-family="'Liberation Serif','Times New Roman',serif" font-weight="bold" textLength="112.14" lengthAdjust="spacingAndGlyphs" transform="rotate(-90 1242.9 2102.48)">LVEDP (mmHg)</text>
<text x="1421.75" y="2196.3" font-size="16.49" font-family="'Liberation Serif','Times New Roman',serif" font-weight="bold" textLength="90.27" lengthAdjust="spacingAndGlyphs">Time&#160; (mins)</text>
<text x="1409.09" y="1920.9" font-size="16.44" font-family="'Liberation Sans',Arial,sans-serif" fill="#111" textLength="73.16" lengthAdjust="spacingAndGlyphs">Lidocaine</text>
<line x1="1382.82" y1="1932" x2="1504.58" y2="1932" stroke="#111" stroke-width="1.4"/>
<polygon points="1377.9,1932 1386.1,1928.7 1386.1,1935.3" fill="#111"/>
<polygon points="1509.5,1932 1501.3,1928.7 1501.3,1935.3" fill="#111"/>
<path d="M1292.67 2134.2 L1319.33 2137.13 L1346 2138.2 L1372.13 2138.47 L1378 2133.67 L1383.33 2121.67 L1388.67 2104.33 L1394 2099 L1399.33 2090.47 L1404.67 2077.67 L1410 2076.33 L1415.33 2074.2 L1420.67 2077.13 L1426.53 2077.13 L1452.67 2074.2 L1479.87 2077.67 L1506 2076.33 L1511.33 2073.67 L1518 2073.67 L1523.33 2091 L1527.87 2104.33 L1533.2 2115 L1560.67 2117.67 L1586.53 2131 L1614 2137.13 L1640.67 2137.13" fill="none" stroke="#000" stroke-width="1.5" stroke-linejoin="round"/>
<path d="M1292.67 2128.33V2140.87M1287.47 2128.33H1297.87M1287.47 2140.87H1297.87M1319.33 2128.33V2145.67M1314.13 2128.33H1324.53M1314.13 2145.67H1324.53M1346 2134.47V2141.67M1340.8 2134.47H1351.2M1340.8 2141.67H1351.2M1372.13 2129.67V2147.8M1366.93 2129.67H1377.33M1366.93 2147.8H1377.33M1378 2128.33V2139.8M1372.8 2128.33H1383.2M1372.8 2139.8H1383.2M1383.33 2117.67V2126.47M1378.13 2117.67H1388.53M1378.13 2126.47H1388.53M1388.67 2081.67V2127M1383.47 2081.67H1393.87M1383.47 2127H1393.87M1394 2065.67V2131.8M1388.8 2065.67H1399.2M1388.8 2131.8H1399.2M1399.33 2059V2123M1394.13 2059H1404.53M1394.13 2123H1404.53M1404.67 2043V2111.8M1399.47 2043H1409.87M1399.47 2111.8H1409.87M1410 2041.13V2111.53M1404.8 2041.13H1415.2M1404.8 2111.53H1415.2M1415.33 2038.47V2109.67M1410.13 2038.47H1420.53M1410.13 2109.67H1420.53M1420.67 2041.13V2111.8M1415.47 2041.13H1425.87M1415.47 2111.8H1425.87M1426.53 2041.13V2111.8M1421.33 2041.13H1431.73M1421.33 2111.8H1431.73M1452.67 2038.47V2109.67M1447.47 2038.47H1457.87M1447.47 2109.67H1457.87M1479.87 2043V2111.8M1474.67 2043H1485.07M1474.67 2111.8H1485.07M1506 2041.13V2111.8M1500.8 2041.13H1511.2M1500.8 2111.8H1511.2M1511.33 2041.13V2110.47M1506.13 2041.13H1516.53M1506.13 2110.47H1516.53M1518 2038.47V2109.67M1512.8 2038.47H1523.2M1512.8 2109.67H1523.2M1523.33 2076.33V2105.67M1518.13 2076.33H1528.53M1518.13 2105.67H1528.53M1527.87 2090.47V2118.47M1522.67 2090.47H1533.07M1522.67 2118.47H1533.07M1533.2 2102.2V2128.33M1528 2102.2H1538.4M1528 2128.33H1538.4M1560.67 2104.33V2132.33M1555.47 2104.33H1565.87M1555.47 2132.33H1565.87M1586.53 2117.13V2145.67M1581.33 2117.13H1591.73M1581.33 2145.67H1591.73M1614 2129.67V2144.33M1608.8 2129.67H1619.2M1608.8 2144.33H1619.2M1640.67 2128.33V2145.67M1635.47 2128.33H1645.87M1635.47 2145.67H1645.87" fill="none" stroke="#000" stroke-width="2.3"/>
<g><circle cx="1292.67" cy="2134.2" r="4.5"/><circle cx="1319.33" cy="2137.13" r="4.5"/><circle cx="1346" cy="2138.2" r="4.5"/><circle cx="1372.13" cy="2138.47" r="4.5"/><circle cx="1378" cy="2133.67" r="4.5"/><circle cx="1383.33" cy="2121.67" r="4.5"/><circle cx="1388.67" cy="2104.33" r="4.5"/><circle cx="1394" cy="2099" r="4.5"/><circle cx="1399.33" cy="2090.47" r="4.5"/><circle cx="1404.67" cy="2077.67" r="4.5"/><circle cx="1410" cy="2076.33" r="4.5"/><circle cx="1415.33" cy="2074.2" r="4.5"/><circle cx="1420.67" cy="2077.13" r="4.5"/><circle cx="1426.53" cy="2077.13" r="4.5"/><circle cx="1452.67" cy="2074.2" r="4.5"/><circle cx="1479.87" cy="2077.67" r="4.5"/><circle cx="1506" cy="2076.33" r="4.5"/><circle cx="1511.33" cy="2073.67" r="4.5"/><circle cx="1518" cy="2073.67" r="4.5"/><circle cx="1523.33" cy="2091" r="4.5"/><circle cx="1527.87" cy="2104.33" r="4.5"/><circle cx="1533.2" cy="2115" r="4.5"/><circle cx="1560.67" cy="2117.67" r="4.5"/><circle cx="1586.53" cy="2131" r="4.5"/><circle cx="1614" cy="2137.13" r="4.5"/><circle cx="1640.67" cy="2137.13" r="4.5"/></g>
</g>
</svg>
</body></html>
